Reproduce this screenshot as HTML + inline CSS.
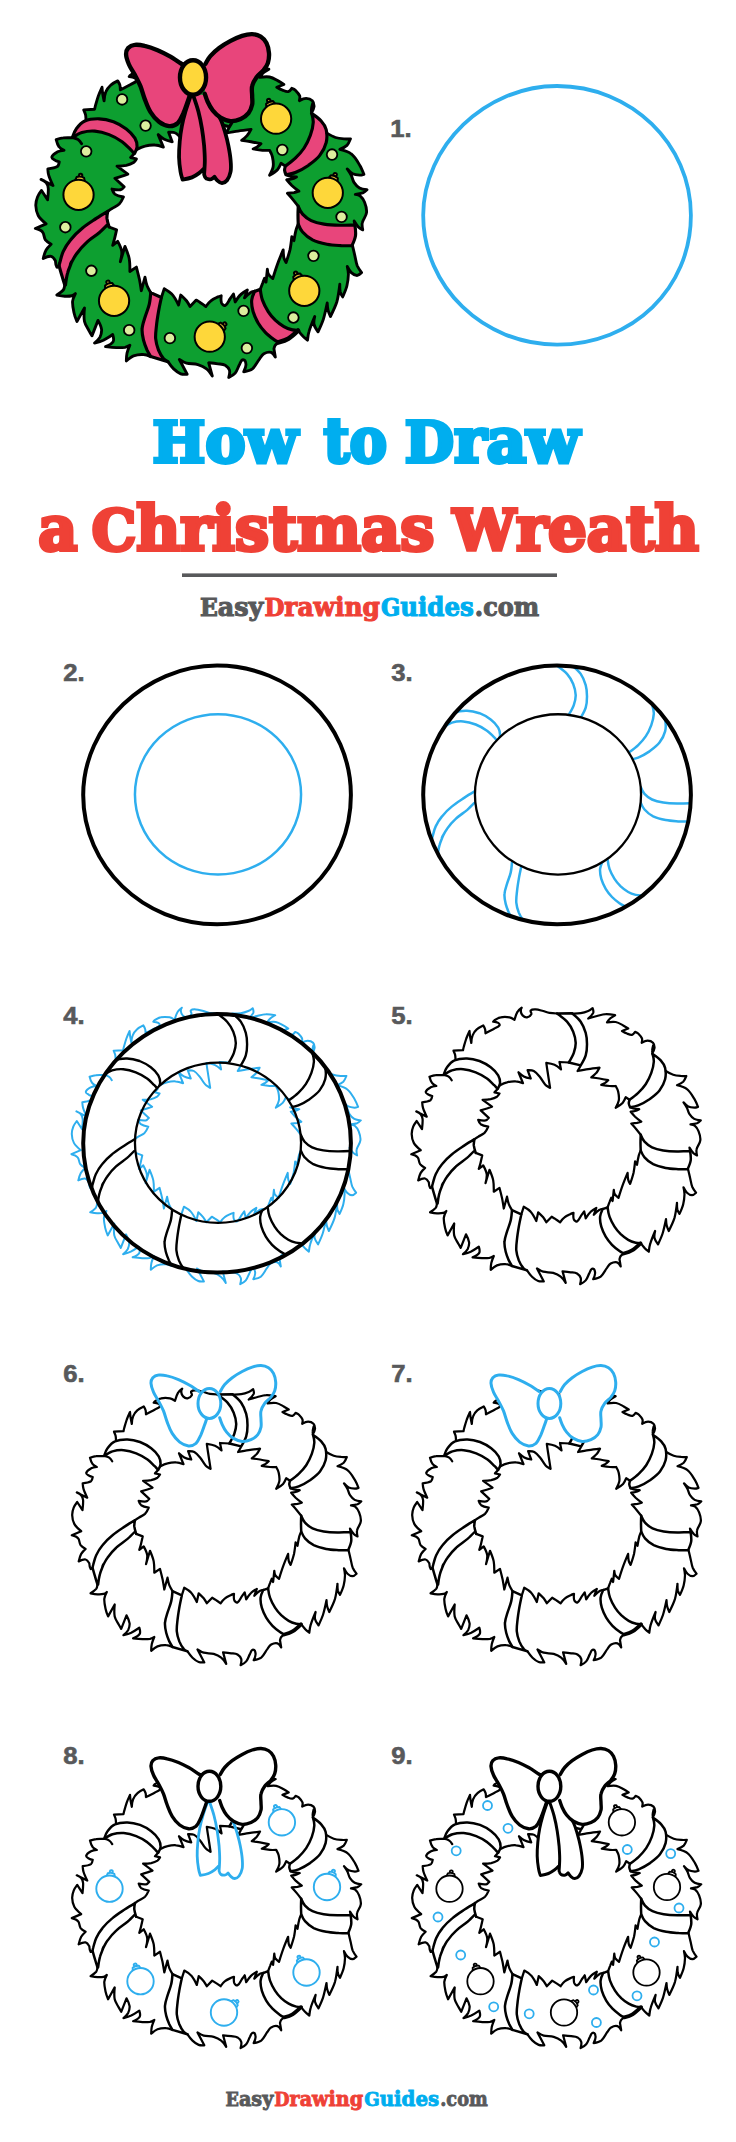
<!DOCTYPE html>
<html><head><meta charset="utf-8"><title>How to Draw a Christmas Wreath</title>
<style>html,body{margin:0;padding:0;background:#fff}svg{display:block}</style></head>
<body><svg width="736" height="2142" viewBox="0 0 736 2142">
<desc>How to Draw a Christmas Wreath - step by step drawing guide, steps 1 to 9 - EasyDrawingGuides.com</desc>
<rect width="736" height="2142" fill="#fff"/>
<defs><clipPath id="ann"><path clip-rule="evenodd" d="M-133.85 0.00C-133.85 -69.18 -71.61 -129.30 0.00 -129.30C73.93 -129.30 133.85 -71.41 133.85 0.00C133.85 73.05 75.63 129.30 0.00 129.30C-73.93 129.30 -133.85 71.41 -133.85 0.00ZM-82.10 -0.50C-82.10 -44.77 -44.92 -80.65 0.95 -80.65C46.82 -80.65 84.00 -44.77 84.00 -0.50C84.00 43.77 46.82 79.65 0.95 79.65C-44.92 79.65 -82.10 43.77 -82.10 -0.50Z"/></clipPath></defs>
<path d="M423.20 215.30C423.20 146.12 485.44 86.00 557.05 86.00C630.98 86.00 690.90 143.89 690.90 215.30C690.90 288.35 632.68 344.60 557.05 344.60C483.12 344.60 423.20 286.71 423.20 215.30Z" fill="none" stroke="#2eaeee" stroke-width="3.8"/>
<path d="M83.20 794.90C83.20 725.72 145.44 665.60 217.05 665.60C290.98 665.60 350.90 723.49 350.90 794.90C350.90 867.95 292.68 924.20 217.05 924.20C143.12 924.20 83.20 866.31 83.20 794.90Z" fill="none" stroke="#000" stroke-width="4"/>
<ellipse cx="218" cy="794.4" rx="83.05" ry="80.15" fill="none" stroke="#2eaeee" stroke-width="2.5"/>
<g transform="translate(557 794.9)" stroke-linejoin="round" stroke-linecap="round"><path clip-path="url(#ann)" d="M15 -129.5C15 -129.5 21.4 -124.4 23.7 -121C26 -117.7 27.6 -113.7 28.7 -109.8C29.7 -106.2 30 -102.3 30 -98.5C30 -94.8 29.8 -90.9 28.7 -87.3C27.7 -83.8 23.7 -77.3 23.7 -77.3M0 -129.2C0 -129.2 7.1 -124.2 10 -121C12.5 -118.2 14.7 -114.6 16.2 -111C17.6 -107.5 18.6 -103.6 18.7 -99.8C18.8 -96.4 17.9 -93 16.8 -89.8C15.6 -86.4 11.8 -80.2 11.8 -80.2M-113.2 -68.3C-113.2 -68.3 -111.6 -73.4 -110 -75.4C-108 -78.1 -105.6 -81 -102.5 -82.3C-98.7 -84 -94.2 -84.3 -90 -84.2C-85.8 -84.1 -81.5 -83.1 -77.5 -81.7C-73.6 -80.2 -69.7 -78 -66.3 -75.4C-63.4 -73.2 -60.7 -70.4 -58.8 -67.3C-57.5 -65.1 -56.9 -62.4 -56.9 -59.8C-57 -57.8 -59 -54.2 -59 -54.2M-112.8 -68C-112.8 -68 -107.9 -71.5 -105 -72.3C-101.5 -73.3 -97.5 -73.8 -93.8 -73.5C-89.6 -73.2 -85.3 -72 -81.3 -70.4C-77.3 -68.9 -73.5 -66.6 -70 -64.2C-67.3 -62.2 -65 -59.6 -62.5 -57.3C-61.4 -56.2 -59.4 -53.8 -59.4 -53.8M-125 44C-125 44 -124.7 42.3 -124.4 41.5C-123.4 38.1 -122.8 34.6 -121.3 31.5C-119.6 27.9 -117.5 24.5 -115 21.5C-112.1 17.8 -108.6 14.4 -105 11.5C-101.2 8.2 -96.7 5.5 -92.5 2.7C-89.3 0.5 -82.5 -3.5 -82.5 -3.5M-119.4 60.8C-119.4 60.8 -118.5 53.6 -117.5 50.2C-116.6 46.8 -114.9 43.5 -113.8 40.2C-113.5 39.3 -115.5 43.5 -115 42.7C-113.3 39.8 -112 36.6 -110 34C-107.5 30.4 -104.5 26.9 -101.3 24C-97.9 20.7 -93.6 18.2 -90 15.2C-87.6 13.1 -82.9 8.3 -82.9 8.3M-45 123.3C-45 123.3 -47.3 119.6 -48.2 117.7C-49.4 114.9 -50.6 111.9 -51.3 109C-52.1 105.7 -52.8 102.3 -52.5 99C-52.3 95.6 -51 92.2 -50 89C-48.9 85.2 -47.2 81.5 -46.3 77.7C-45.5 74.4 -45 67.5 -45 67.5M-30 127.7C-30 127.7 -32.9 126.4 -33.8 125.2C-35.6 123 -37.1 120.4 -38.2 117.7C-39.4 114.5 -40.4 111.1 -40.7 107.7C-41 104 -40.4 100.1 -40 96.5C-39.6 92.3 -38.9 88.1 -38.2 84C-37.5 79.9 -35.7 71.7 -35.7 71.7M66.8 110.8C66.8 110.8 63.8 109.3 62.5 108.3C59.9 106.4 57.2 104.4 55 102.1C52.6 99.6 50.4 96.9 48.7 94C46.9 90.8 45.3 87.4 44.3 84C43.4 80.7 42.8 77.3 43.1 74C43.3 71.3 45.6 66.5 45.6 66.5M83.7 100.5C83.7 100.5 80.3 100.4 78.7 100C76.1 99.3 73.5 98.4 71.2 97.1C68.5 95.5 65.9 93.6 63.7 91.5C61.4 89.2 59.2 86.7 57.5 84C55.5 80.8 53.7 77.4 52.5 74C51.4 71 50.6 64.6 50.6 64.6M130.6 26.5C130.6 26.5 124.3 26.6 121.2 26.5C117.1 26.2 112.8 26 108.7 25.2C104.5 24.4 100.1 23.4 96.2 21.5C92.9 19.8 89.9 17.3 87.5 14.6C85.7 12.7 83.7 7.7 83.7 7.7M133.1 8.3C133.1 8.3 124.3 8.8 120 8.7C115.4 8.6 110.7 8.4 106.2 7.7C102.4 7.1 98.4 6.2 95 4.6C92.1 3.3 89.5 1.2 87.5 -1C85.7 -3 83.7 -7.9 83.7 -7.9M96 -88.5C96 -88.5 101.5 -84.8 103.7 -82.3C105.6 -80.2 107.4 -77.6 108.1 -74.8C108.9 -71.2 109 -67.2 108.1 -63.5C107.1 -59.5 105 -55.6 102.5 -52.3C99.8 -48.8 96 -46.1 92.5 -43.5C89 -41.1 85.1 -38.9 81.2 -37.3C78.7 -36.2 73.1 -35.4 73.1 -35.4M95.6 -88.5C95.6 -88.5 97 -83.6 96.8 -81C96.6 -77.3 95.6 -73.4 94.3 -69.8C92.9 -65.9 91 -62 88.7 -58.5C86.6 -55.4 83.9 -52.4 81.2 -49.8C78.6 -47.3 72.5 -42.9 72.5 -42.9" fill="none" stroke="#2eaeee" stroke-width="2.5"/></g>
<path d="M423.20 794.90C423.20 725.72 485.44 665.60 557.05 665.60C630.98 665.60 690.90 723.49 690.90 794.90C690.90 867.95 632.68 924.20 557.05 924.20C483.12 924.20 423.20 866.31 423.20 794.90Z" fill="none" stroke="#000" stroke-width="4"/>
<ellipse cx="558" cy="794.4" rx="83.05" ry="80.15" fill="#fff" stroke="#000" stroke-width="2.3"/>
<g transform="translate(217.1 1142.7)" stroke-linejoin="round" stroke-linecap="round"><path d="M0 -129.2C0 -129.2 -5.1 -129.4 -7.5 -129.8C-9.7 -130.2 -11.7 -131.1 -13.8 -131.7C-16.3 -132.3 -18.8 -133.2 -21.3 -133.3C-23 -133.4 -25.2 -133.5 -26.3 -132.3C-27.1 -131.4 -25.1 -129.7 -25.7 -128.5C-26.5 -127 -28.3 -125.7 -30 -125.4C-31.6 -125.2 -33.3 -126.2 -34.4 -127.3C-35.5 -128.4 -36.1 -130.1 -36.3 -131.7C-36.4 -132.8 -35.3 -135 -35.3 -135C-35.3 -135 -38.5 -132.7 -39.4 -131C-40.9 -128.6 -42.5 -122.9 -42.5 -122.9C-42.5 -122.9 -45.7 -125.1 -47.5 -125.4C-50.4 -125.9 -53.5 -126 -56.3 -125.4C-58.5 -125 -60.6 -123.7 -62.5 -122.5C-63.1 -122.2 -63.8 -121 -63.8 -121C-63.8 -121 -60.3 -120.7 -58.8 -119.8C-58 -119.3 -57 -118.1 -57.5 -117.3C-58.6 -115.7 -60.8 -115.1 -62.5 -114.2C-65.5 -112.6 -71.5 -109.5 -71.5 -109.5C-71.5 -109.5 -71.6 -112.3 -71.9 -113.5C-72.3 -114.9 -73.8 -117.3 -73.8 -117.3C-73.8 -117.3 -78.3 -115.2 -80 -113.5C-81.9 -111.8 -83.5 -109.6 -84.4 -107.3C-85.4 -105 -85.7 -99.8 -85.7 -99.8C-85.7 -99.8 -86.6 -104 -86.9 -106C-87.2 -107.9 -87.5 -111.7 -87.5 -111.7C-87.5 -111.7 -89.8 -106.7 -90.7 -104.2C-91.6 -101.5 -92.4 -98.7 -93.2 -96C-93.5 -94.9 -94 -92.5 -94 -92.5L-103.5 -92C-103.5 -92 -102.3 -89.3 -101.9 -87.9C-101.6 -86.5 -101.5 -83.5 -101.5 -83.5M11.8 -80.2L2.5 -80.7L4 -73.3C4 -73.3 -0.1 -76.9 -2.5 -77.9C-5.1 -79 -10.7 -79.8 -10.7 -79.8C-10.7 -79.8 -9.9 -73.9 -9.4 -71C-8.6 -65.7 -6.9 -54.8 -6.9 -54.8C-6.9 -54.8 -10.5 -56.8 -11.9 -58.3C-13.9 -60.4 -15.1 -63.2 -16.9 -65.4C-18.8 -67.7 -20.6 -70.2 -23.2 -71.7C-25 -72.7 -29.4 -72.5 -29.4 -72.5L-26.3 -64.2C-26.3 -64.2 -31.1 -65.2 -33.2 -66.3C-35.2 -67.3 -38.5 -70.4 -38.5 -70.4L-34 -59.5C-34 -59.5 -38.8 -61.2 -41.3 -61.3C-44.2 -61.5 -47.2 -61.1 -50 -60.4C-52.7 -59.8 -57.5 -57.3 -57.5 -57.3M-113.2 -67.9C-113.2 -67.9 -118.6 -67.9 -121.3 -67.5C-123.4 -67.3 -127.5 -66 -127.5 -66C-127.5 -66 -126.4 -61.6 -125 -59.8C-124 -58.4 -120.7 -56.7 -120.7 -56.7C-120.7 -56.7 -124.6 -56.3 -126.3 -55.4C-128.3 -54.3 -130.8 -53 -131.3 -50.8C-131.6 -49.4 -129.4 -48.7 -128.2 -47.9C-127.2 -47.3 -124.8 -46.7 -124.8 -46.7C-124.8 -46.7 -125.3 -43.3 -126.5 -42.5C-128.9 -41.1 -134.8 -40.4 -134.8 -40.4C-134.8 -40.4 -134.6 -36.6 -134 -34.8C-133.1 -31.8 -130.3 -26 -130.3 -26L-140.7 -31.3C-140.7 -31.3 -137.4 -29.9 -136.3 -28.5C-135.2 -27.2 -134.6 -25.3 -134.4 -23.5C-134.2 -20.3 -135 -13.5 -135 -13.5L-140.3 -21.7C-140.3 -21.7 -143 -18.1 -143.8 -16C-144.7 -13.7 -145.4 -11.1 -145.3 -8.5C-145.2 -5.6 -144.6 -2.4 -143.2 0.2C-141.6 3.1 -136.3 7.5 -136.3 7.5L-145.7 11.5C-145.7 11.5 -140.9 12.8 -139.4 14.6C-137.8 16.4 -138.3 19.5 -136.9 21.5C-135.7 23.1 -131.9 25.2 -131.9 25.2C-131.9 25.2 -135.2 28.3 -136.3 30.2C-137.6 32.5 -138.8 37.7 -138.8 37.7C-138.8 37.7 -134.2 35.4 -131.9 35.8C-130.2 36.1 -128.2 39.6 -128.2 39.6C-128.2 39.6 -128 43.7 -126.9 45.2C-126.5 45.8 -125 44 -125 44M-59.4 -53.8L-62.5 -50.4L-57.5 -49.2C-57.5 -49.2 -58.9 -46.8 -60 -46C-61.9 -44.8 -64.1 -44 -66.3 -43.5C-68.9 -43 -74.4 -42.9 -74.4 -42.9L-65 -36C-65 -36 -68.4 -34.7 -70 -34.2C-72.1 -33.5 -76.3 -32.3 -76.3 -32.3L-68.2 -24.8C-68.2 -24.8 -70 -22.5 -71.3 -22.3C-73.7 -21.9 -78.8 -22.9 -78.8 -22.9C-78.8 -22.9 -77.7 -19.5 -76.3 -18.5C-74.2 -17.1 -68.8 -16 -68.8 -16C-68.8 -16 -70.8 -11.5 -72.5 -9.8C-74.3 -8.1 -76.8 -7.3 -78.8 -6C-80.1 -5.3 -82.5 -3.5 -82.5 -3.5M-120 60.8C-120 60.8 -120.4 64 -121.3 65.2C-122.8 67 -126.9 69.6 -126.9 69.6C-126.9 69.6 -122.3 70.5 -120 70.6C-118 70.7 -115.8 70.7 -113.8 70.2C-112.6 69.9 -110.7 68.3 -110.7 68.3C-110.7 68.3 -113 72.8 -113.2 75.2C-113.4 78.5 -112.6 81.9 -111.9 85.2C-111.4 87.8 -109.4 92.7 -109.4 92.7L-102.8 80.8C-102.8 80.8 -103.6 88.9 -102.8 92.7C-102.2 95.6 -100.2 98.2 -98.8 100.8C-98 102.3 -96.3 105.2 -96.3 105.2L-91 91.7C-91 91.7 -88.2 96.8 -87.9 99.6C-87.7 101.9 -88.4 104.4 -89.4 106.5C-90.5 108.4 -94 111.5 -94 111.5C-94 111.5 -88.7 110.1 -86.3 109C-83.5 107.6 -78.2 104 -78.2 104C-78.2 104 -76.8 108.4 -77.8 110.2C-79.1 112.5 -84.4 114.6 -84.4 114.6C-84.4 114.6 -78.2 115.3 -75 115.5C-72.6 115.5 -70 115.6 -67.5 115.2C-66 114.9 -63.2 113.3 -63.2 113.3C-63.2 113.3 -65.1 117.8 -65.7 120.2C-66.2 122.4 -66.3 127.1 -66.3 127.1C-66.3 127.1 -62.4 123.6 -60 122.7C-57.3 121.7 -54.2 121.3 -51.3 121.5C-49.1 121.5 -45 123.3 -45 123.3M-81.3 10.2L-74.8 12.7C-74.8 12.7 -75.9 17.7 -76.5 20.2C-77 22.2 -78.2 26.2 -78.2 26.2L-73.8 22.7C-73.8 22.7 -70.7 28.4 -70.3 31.5C-69.9 34.4 -71.5 40.5 -71.5 40.5L-67.5 27.1C-67.5 27.1 -64.5 34.1 -63.8 37.7C-63.1 41.3 -63.2 49 -63.2 49L-57.5 45.2C-57.5 45.2 -55.8 51.9 -55 55.2C-54.3 58.7 -53.2 65.8 -53.2 65.8L-50 54C-50 54 -49.1 59.1 -48.2 61.5C-47.4 63.5 -45 67.5 -45 67.5M-30 127.7C-30 127.7 -27 132.1 -25 134C-23.2 135.7 -21.1 137.4 -18.8 138.3C-17.1 139 -13.2 138.7 -13.2 138.7L-20 125.8C-20 125.8 -16 128.4 -13.8 129C-10.6 129.8 -7 129.3 -3.8 130.2C-1.1 131 1.5 132.2 3.7 134C5.8 135.6 8.7 140.2 8.7 140.2L5.6 128.7C5.6 128.7 11 129.2 13.7 129.6C15.8 129.9 18.1 129.8 20 130.8C21.6 131.8 23.2 133.4 23.7 135.2C24.3 137.2 23.1 141.5 23.1 141.5C23.1 141.5 27.3 139.4 28.7 137.7C30.5 135.6 31.1 132.6 32.5 130.2C33.3 128.7 33.8 126 35.6 126C37.2 126 38 128.6 38.1 130.2C38.2 132.3 36.2 136.5 36.2 136.5C36.2 136.5 41.7 135.6 43.7 134C46.4 131.7 47.8 128 50 125.2C51.1 123.7 52 121.8 53.7 120.8C55.5 119.8 57.9 119 60 119.6C61.7 120.1 63.7 123.7 63.7 123.7L62.5 116.5C62.5 116.5 63 114.2 63.7 113.3C64.5 112.3 66.8 110.8 66.8 110.8M-35.7 71.7L-33.2 64C-33.2 64 -28.1 66.8 -26.3 69C-23.9 71.7 -20.7 78.3 -20.7 78.3L-18.8 69.6C-18.8 69.6 -15.3 72.8 -13.8 74.6C-12.6 76.1 -10.7 79.6 -10.7 79.6L-5.3 74C-5.3 74 -2.6 75.6 -1.3 76.5C0.2 77.4 3.1 79.6 3.1 79.6C3.1 79.6 5.7 75.9 7.5 74.6C9.3 73.1 11.6 72.2 13.7 71.2C14.6 70.8 16.5 70.2 16.5 70.2C16.5 70.2 16 74.5 16.8 76.5C17.3 77.6 18.8 79.3 20 78.7C22.1 77.6 22.9 74.7 24.3 72.7C25.3 71.4 27.2 68.7 27.2 68.7L28.7 75.6C28.7 75.6 31.7 70.9 33.7 69C35.3 67.4 39.3 65.2 39.3 65.2L36.8 72.1C36.8 72.1 40.4 68.4 42.5 67.1C43.5 66.4 46 66.2 46 66.2M83.7 100.5C83.7 100.5 86.1 103.8 87.5 105.2C88.8 106.6 91.8 109 91.8 109C91.8 109 92.3 103.9 93.1 101.5C94.4 97 98.1 88.3 98.1 88.3C98.1 88.3 97 93 97.5 95.2C98 97.6 101 101.7 101 101.7C101 101.7 104.4 94.5 105.6 90.8C107 86.2 109 76.5 109 76.5C109 76.5 109.2 80.7 109.7 82.7C110.2 84.6 111.8 88.3 111.8 88.3C111.8 88.3 116.1 79.7 117.5 75.2C118.8 70.4 120 60.2 120 60.2C120 60.2 119.9 64.4 120.3 66.5C120.7 68.1 122.5 71.2 122.5 71.2C122.5 71.2 125.4 64.8 126.2 61.5C127 58.2 127.4 54.8 127.5 51.5C127.5 49.2 126.5 44.6 126.5 44.6C126.5 44.6 128.4 48.5 130 50C131.3 51.2 133.1 52.5 135 52.5C136.5 52.5 139 50 139 50C139 50 136.1 46.1 135.2 44C134.1 41.2 133.8 38.1 133.1 35.2C132.4 32.2 131 26.2 131 26.2M50.6 64.6C50.6 64.6 52 60.8 52.7 59C53.2 57.6 54.3 55 54.3 55L55.6 58.3L56.8 47.1C56.8 47.1 57 50.2 57.7 51.5C58.6 53 61.5 55.2 61.5 55.2C61.5 55.2 64.1 46.8 65.6 42.7C67.1 38.5 70.6 30.2 70.6 30.2C70.6 30.2 70.7 34.9 71.2 37.1C71.5 38.5 73.1 41.2 73.1 41.2C73.1 41.2 75.6 33.9 76.5 30.2C77.3 26.5 78.1 18.7 78.1 18.7L80 22.1C80 22.1 81 15.8 81.8 12.7C82.3 11 83.7 7.7 83.7 7.7M133.1 8.3L132.5 5C132.5 5 134.7 8.7 136.2 10.2C137.2 11.3 140 12.7 140 12.7C140 12.7 139.1 8.5 139.6 6.5C140.3 3.4 143 0.8 143.3 -2.3C143.7 -5.3 142.7 -8.5 141.6 -11.3C140.8 -13.4 139.4 -15.6 137.7 -17C136.6 -18 133.5 -18.3 133.5 -18.3C133.5 -18.3 137.9 -18.8 140 -19.5C141.4 -20.1 143.7 -22.3 143.7 -22.3C143.7 -22.3 139.1 -22.7 137.2 -23.8C135.3 -24.9 133.7 -26.7 132.5 -28.5C131.2 -30.4 131 -32.8 130 -34.8C129 -36.8 126.5 -40.4 126.5 -40.4C126.5 -40.4 129.3 -37.2 131.2 -36.3C133.1 -35.4 135.3 -35.2 137.5 -35C138.6 -35 141 -35.8 141 -35.8C141 -35.8 138.9 -41.2 137.5 -43.5C135.3 -47.1 133.2 -51 130 -53.5C127.2 -55.8 120 -57.5 120 -57.5C120 -57.5 124.5 -59.4 126.2 -61C127.7 -62.5 129.3 -66.7 129.3 -66.7C129.3 -66.7 125.5 -66.5 123.7 -66.7C121.2 -66.9 118.6 -67.1 116.2 -67.9C113.6 -68.8 108.7 -71.7 108.7 -71.7M83.7 -7.9C83.7 -7.9 80.8 -11.7 79.3 -13.5C77.7 -15.5 74.3 -19.2 74.3 -19.2C74.3 -19.2 78.1 -19.5 80 -19.8C81.4 -20.1 84.3 -21 84.3 -21C84.3 -21 80 -24.2 78.1 -26C76.5 -27.6 73.7 -31 73.7 -31C73.7 -31 76.7 -31.3 78.1 -31.7C79.5 -32.1 82.2 -33.5 82.2 -33.5C82.2 -33.5 78.1 -33.8 76.2 -34.2C75.1 -34.4 73.1 -35.4 73.1 -35.4M95.2 -89.2C95.2 -89.2 97.3 -92.8 97.5 -94.8C97.6 -96.6 97.2 -98.7 96 -100C94.6 -101.4 92.5 -102 90.6 -102C88.5 -102 84.7 -100 84.7 -100C84.7 -100 85.4 -102.9 85 -104.2C84.2 -106.1 82.7 -107.7 81.2 -109.2C80.4 -110 78.1 -110.8 78.1 -110.8C78.1 -110.8 76.3 -108.2 75 -107.9C73.3 -107.6 71.5 -108.6 70 -109.2C68.2 -109.8 65 -111.7 65 -111.7L71.2 -114.2C71.2 -114.2 67.9 -116.4 66.2 -117.3C63.8 -118.6 61.4 -120.2 58.7 -120.7C55.9 -121.2 50 -120.4 50 -120.4C50 -120.4 51.9 -123.1 53.1 -124.2C54.6 -125.5 58.1 -127.5 58.1 -127.5C58.1 -127.5 51.8 -128.7 48.7 -128.5C45.8 -128.4 42.8 -127.4 40 -126.7C37 -125.9 31.2 -124.2 31.2 -124.2C31.2 -124.2 35.2 -127.5 36.2 -129.8C36.8 -131.3 35.6 -134.5 35.6 -134.5C35.6 -134.5 32.8 -132.3 31.2 -131.7C28.8 -130.7 26.2 -129.9 23.7 -129.5C20.8 -129.1 15 -129.2 15 -129.2M72.5 -42.9L68.7 -45.4C68.7 -45.4 67 -41.3 65.6 -39.8C63.7 -37.8 58.7 -35 58.7 -35C58.7 -35 61.4 -39.7 61.8 -42.3C62.3 -45.2 61.8 -48.2 61.2 -51C60.8 -53 58.7 -56.7 58.7 -56.7C58.7 -56.7 54.5 -56.5 52.5 -56.7C49.7 -56.9 44.3 -57.9 44.3 -57.9C44.3 -57.9 46.9 -59 48.1 -59.8C49.2 -60.6 51.2 -62.5 51.2 -62.5C51.2 -62.5 45.3 -63.7 42.5 -64.2C39.8 -64.6 34.3 -65.4 34.3 -65.4C34.3 -65.4 37.9 -68.1 39.3 -69.8C40.6 -71.3 42.5 -75 42.5 -75C42.5 -75 34.9 -74.1 31.2 -73.5C27.7 -73 20.6 -71.7 20.6 -71.7L23.1 -76M-113.2 -67.9C-113.2 -67.9 -109.6 -67 -108.2 -66C-106.9 -65.2 -105.3 -62.5 -105.3 -62.5M96.2 -97.3C96.2 -97.3 95.3 -94 95.2 -92.3C95.1 -91.1 95.6 -88.5 95.6 -88.5" fill="none" stroke="#2eaeee" stroke-width="2"/><path clip-path="url(#ann)" d="M15 -129.5C15 -129.5 21.4 -124.4 23.7 -121C26 -117.7 27.6 -113.7 28.7 -109.8C29.7 -106.2 30 -102.3 30 -98.5C30 -94.8 29.8 -90.9 28.7 -87.3C27.7 -83.8 23.7 -77.3 23.7 -77.3M0 -129.2C0 -129.2 7.1 -124.2 10 -121C12.5 -118.2 14.7 -114.6 16.2 -111C17.6 -107.5 18.6 -103.6 18.7 -99.8C18.8 -96.4 17.9 -93 16.8 -89.8C15.6 -86.4 11.8 -80.2 11.8 -80.2M-113.2 -68.3C-113.2 -68.3 -111.6 -73.4 -110 -75.4C-108 -78.1 -105.6 -81 -102.5 -82.3C-98.7 -84 -94.2 -84.3 -90 -84.2C-85.8 -84.1 -81.5 -83.1 -77.5 -81.7C-73.6 -80.2 -69.7 -78 -66.3 -75.4C-63.4 -73.2 -60.7 -70.4 -58.8 -67.3C-57.5 -65.1 -56.9 -62.4 -56.9 -59.8C-57 -57.8 -59 -54.2 -59 -54.2M-112.8 -68C-112.8 -68 -107.9 -71.5 -105 -72.3C-101.5 -73.3 -97.5 -73.8 -93.8 -73.5C-89.6 -73.2 -85.3 -72 -81.3 -70.4C-77.3 -68.9 -73.5 -66.6 -70 -64.2C-67.3 -62.2 -65 -59.6 -62.5 -57.3C-61.4 -56.2 -59.4 -53.8 -59.4 -53.8M-125 44C-125 44 -124.7 42.3 -124.4 41.5C-123.4 38.1 -122.8 34.6 -121.3 31.5C-119.6 27.9 -117.5 24.5 -115 21.5C-112.1 17.8 -108.6 14.4 -105 11.5C-101.2 8.2 -96.7 5.5 -92.5 2.7C-89.3 0.5 -82.5 -3.5 -82.5 -3.5M-119.4 60.8C-119.4 60.8 -118.5 53.6 -117.5 50.2C-116.6 46.8 -114.9 43.5 -113.8 40.2C-113.5 39.3 -115.5 43.5 -115 42.7C-113.3 39.8 -112 36.6 -110 34C-107.5 30.4 -104.5 26.9 -101.3 24C-97.9 20.7 -93.6 18.2 -90 15.2C-87.6 13.1 -82.9 8.3 -82.9 8.3M-45 123.3C-45 123.3 -47.3 119.6 -48.2 117.7C-49.4 114.9 -50.6 111.9 -51.3 109C-52.1 105.7 -52.8 102.3 -52.5 99C-52.3 95.6 -51 92.2 -50 89C-48.9 85.2 -47.2 81.5 -46.3 77.7C-45.5 74.4 -45 67.5 -45 67.5M-30 127.7C-30 127.7 -32.9 126.4 -33.8 125.2C-35.6 123 -37.1 120.4 -38.2 117.7C-39.4 114.5 -40.4 111.1 -40.7 107.7C-41 104 -40.4 100.1 -40 96.5C-39.6 92.3 -38.9 88.1 -38.2 84C-37.5 79.9 -35.7 71.7 -35.7 71.7M66.8 110.8C66.8 110.8 63.8 109.3 62.5 108.3C59.9 106.4 57.2 104.4 55 102.1C52.6 99.6 50.4 96.9 48.7 94C46.9 90.8 45.3 87.4 44.3 84C43.4 80.7 42.8 77.3 43.1 74C43.3 71.3 45.6 66.5 45.6 66.5M83.7 100.5C83.7 100.5 80.3 100.4 78.7 100C76.1 99.3 73.5 98.4 71.2 97.1C68.5 95.5 65.9 93.6 63.7 91.5C61.4 89.2 59.2 86.7 57.5 84C55.5 80.8 53.7 77.4 52.5 74C51.4 71 50.6 64.6 50.6 64.6M130.6 26.5C130.6 26.5 124.3 26.6 121.2 26.5C117.1 26.2 112.8 26 108.7 25.2C104.5 24.4 100.1 23.4 96.2 21.5C92.9 19.8 89.9 17.3 87.5 14.6C85.7 12.7 83.7 7.7 83.7 7.7M133.1 8.3C133.1 8.3 124.3 8.8 120 8.7C115.4 8.6 110.7 8.4 106.2 7.7C102.4 7.1 98.4 6.2 95 4.6C92.1 3.3 89.5 1.2 87.5 -1C85.7 -3 83.7 -7.9 83.7 -7.9M96 -88.5C96 -88.5 101.5 -84.8 103.7 -82.3C105.6 -80.2 107.4 -77.6 108.1 -74.8C108.9 -71.2 109 -67.2 108.1 -63.5C107.1 -59.5 105 -55.6 102.5 -52.3C99.8 -48.8 96 -46.1 92.5 -43.5C89 -41.1 85.1 -38.9 81.2 -37.3C78.7 -36.2 73.1 -35.4 73.1 -35.4M95.6 -88.5C95.6 -88.5 97 -83.6 96.8 -81C96.6 -77.3 95.6 -73.4 94.3 -69.8C92.9 -65.9 91 -62 88.7 -58.5C86.6 -55.4 83.9 -52.4 81.2 -49.8C78.6 -47.3 72.5 -42.9 72.5 -42.9" fill="none" stroke="#000" stroke-width="2.4"/></g>
<path d="M83.20 1143.20C83.20 1074.02 145.44 1013.90 217.05 1013.90C290.98 1013.90 350.90 1071.79 350.90 1143.20C350.90 1216.25 292.68 1272.50 217.05 1272.50C143.12 1272.50 83.20 1214.61 83.20 1143.20Z" fill="none" stroke="#000" stroke-width="4"/>
<ellipse cx="218" cy="1142.7" rx="83.05" ry="80.15" fill="none" stroke="#000" stroke-width="2.3"/>
<g transform="translate(557 1142.7)" stroke-linejoin="round" stroke-linecap="round"><path d="M0 -129.2C0 -129.2 -5.1 -129.4 -7.5 -129.8C-9.7 -130.2 -11.7 -131.1 -13.8 -131.7C-16.3 -132.3 -18.8 -133.2 -21.3 -133.3C-23 -133.4 -25.2 -133.5 -26.3 -132.3C-27.1 -131.4 -25.1 -129.7 -25.7 -128.5C-26.5 -127 -28.3 -125.7 -30 -125.4C-31.6 -125.2 -33.3 -126.2 -34.4 -127.3C-35.5 -128.4 -36.1 -130.1 -36.3 -131.7C-36.4 -132.8 -35.3 -135 -35.3 -135C-35.3 -135 -38.5 -132.7 -39.4 -131C-40.9 -128.6 -42.5 -122.9 -42.5 -122.9C-42.5 -122.9 -45.7 -125.1 -47.5 -125.4C-50.4 -125.9 -53.5 -126 -56.3 -125.4C-58.5 -125 -60.6 -123.7 -62.5 -122.5C-63.1 -122.2 -63.8 -121 -63.8 -121C-63.8 -121 -60.3 -120.7 -58.8 -119.8C-58 -119.3 -57 -118.1 -57.5 -117.3C-58.6 -115.7 -60.8 -115.1 -62.5 -114.2C-65.5 -112.6 -71.5 -109.5 -71.5 -109.5C-71.5 -109.5 -71.6 -112.3 -71.9 -113.5C-72.3 -114.9 -73.8 -117.3 -73.8 -117.3C-73.8 -117.3 -78.3 -115.2 -80 -113.5C-81.9 -111.8 -83.5 -109.6 -84.4 -107.3C-85.4 -105 -85.7 -99.8 -85.7 -99.8C-85.7 -99.8 -86.6 -104 -86.9 -106C-87.2 -107.9 -87.5 -111.7 -87.5 -111.7C-87.5 -111.7 -89.8 -106.7 -90.7 -104.2C-91.6 -101.5 -92.4 -98.7 -93.2 -96C-93.5 -94.9 -94 -92.5 -94 -92.5L-103.5 -92C-103.5 -92 -102.3 -89.3 -101.9 -87.9C-101.6 -86.5 -101.5 -83.5 -101.5 -83.5M11.8 -80.2L2.5 -80.7L4 -73.3C4 -73.3 -0.1 -76.9 -2.5 -77.9C-5.1 -79 -10.7 -79.8 -10.7 -79.8C-10.7 -79.8 -9.9 -73.9 -9.4 -71C-8.6 -65.7 -6.9 -54.8 -6.9 -54.8C-6.9 -54.8 -10.5 -56.8 -11.9 -58.3C-13.9 -60.4 -15.1 -63.2 -16.9 -65.4C-18.8 -67.7 -20.6 -70.2 -23.2 -71.7C-25 -72.7 -29.4 -72.5 -29.4 -72.5L-26.3 -64.2C-26.3 -64.2 -31.1 -65.2 -33.2 -66.3C-35.2 -67.3 -38.5 -70.4 -38.5 -70.4L-34 -59.5C-34 -59.5 -38.8 -61.2 -41.3 -61.3C-44.2 -61.5 -47.2 -61.1 -50 -60.4C-52.7 -59.8 -57.5 -57.3 -57.5 -57.3M-113.2 -67.9C-113.2 -67.9 -118.6 -67.9 -121.3 -67.5C-123.4 -67.3 -127.5 -66 -127.5 -66C-127.5 -66 -126.4 -61.6 -125 -59.8C-124 -58.4 -120.7 -56.7 -120.7 -56.7C-120.7 -56.7 -124.6 -56.3 -126.3 -55.4C-128.3 -54.3 -130.8 -53 -131.3 -50.8C-131.6 -49.4 -129.4 -48.7 -128.2 -47.9C-127.2 -47.3 -124.8 -46.7 -124.8 -46.7C-124.8 -46.7 -125.3 -43.3 -126.5 -42.5C-128.9 -41.1 -134.8 -40.4 -134.8 -40.4C-134.8 -40.4 -134.6 -36.6 -134 -34.8C-133.1 -31.8 -130.3 -26 -130.3 -26L-140.7 -31.3C-140.7 -31.3 -137.4 -29.9 -136.3 -28.5C-135.2 -27.2 -134.6 -25.3 -134.4 -23.5C-134.2 -20.3 -135 -13.5 -135 -13.5L-140.3 -21.7C-140.3 -21.7 -143 -18.1 -143.8 -16C-144.7 -13.7 -145.4 -11.1 -145.3 -8.5C-145.2 -5.6 -144.6 -2.4 -143.2 0.2C-141.6 3.1 -136.3 7.5 -136.3 7.5L-145.7 11.5C-145.7 11.5 -140.9 12.8 -139.4 14.6C-137.8 16.4 -138.3 19.5 -136.9 21.5C-135.7 23.1 -131.9 25.2 -131.9 25.2C-131.9 25.2 -135.2 28.3 -136.3 30.2C-137.6 32.5 -138.8 37.7 -138.8 37.7C-138.8 37.7 -134.2 35.4 -131.9 35.8C-130.2 36.1 -128.2 39.6 -128.2 39.6C-128.2 39.6 -128 43.7 -126.9 45.2C-126.5 45.8 -125 44 -125 44M-59.4 -53.8L-62.5 -50.4L-57.5 -49.2C-57.5 -49.2 -58.9 -46.8 -60 -46C-61.9 -44.8 -64.1 -44 -66.3 -43.5C-68.9 -43 -74.4 -42.9 -74.4 -42.9L-65 -36C-65 -36 -68.4 -34.7 -70 -34.2C-72.1 -33.5 -76.3 -32.3 -76.3 -32.3L-68.2 -24.8C-68.2 -24.8 -70 -22.5 -71.3 -22.3C-73.7 -21.9 -78.8 -22.9 -78.8 -22.9C-78.8 -22.9 -77.7 -19.5 -76.3 -18.5C-74.2 -17.1 -68.8 -16 -68.8 -16C-68.8 -16 -70.8 -11.5 -72.5 -9.8C-74.3 -8.1 -76.8 -7.3 -78.8 -6C-80.1 -5.3 -82.5 -3.5 -82.5 -3.5M-120 60.8C-120 60.8 -120.4 64 -121.3 65.2C-122.8 67 -126.9 69.6 -126.9 69.6C-126.9 69.6 -122.3 70.5 -120 70.6C-118 70.7 -115.8 70.7 -113.8 70.2C-112.6 69.9 -110.7 68.3 -110.7 68.3C-110.7 68.3 -113 72.8 -113.2 75.2C-113.4 78.5 -112.6 81.9 -111.9 85.2C-111.4 87.8 -109.4 92.7 -109.4 92.7L-102.8 80.8C-102.8 80.8 -103.6 88.9 -102.8 92.7C-102.2 95.6 -100.2 98.2 -98.8 100.8C-98 102.3 -96.3 105.2 -96.3 105.2L-91 91.7C-91 91.7 -88.2 96.8 -87.9 99.6C-87.7 101.9 -88.4 104.4 -89.4 106.5C-90.5 108.4 -94 111.5 -94 111.5C-94 111.5 -88.7 110.1 -86.3 109C-83.5 107.6 -78.2 104 -78.2 104C-78.2 104 -76.8 108.4 -77.8 110.2C-79.1 112.5 -84.4 114.6 -84.4 114.6C-84.4 114.6 -78.2 115.3 -75 115.5C-72.6 115.5 -70 115.6 -67.5 115.2C-66 114.9 -63.2 113.3 -63.2 113.3C-63.2 113.3 -65.1 117.8 -65.7 120.2C-66.2 122.4 -66.3 127.1 -66.3 127.1C-66.3 127.1 -62.4 123.6 -60 122.7C-57.3 121.7 -54.2 121.3 -51.3 121.5C-49.1 121.5 -45 123.3 -45 123.3M-81.3 10.2L-74.8 12.7C-74.8 12.7 -75.9 17.7 -76.5 20.2C-77 22.2 -78.2 26.2 -78.2 26.2L-73.8 22.7C-73.8 22.7 -70.7 28.4 -70.3 31.5C-69.9 34.4 -71.5 40.5 -71.5 40.5L-67.5 27.1C-67.5 27.1 -64.5 34.1 -63.8 37.7C-63.1 41.3 -63.2 49 -63.2 49L-57.5 45.2C-57.5 45.2 -55.8 51.9 -55 55.2C-54.3 58.7 -53.2 65.8 -53.2 65.8L-50 54C-50 54 -49.1 59.1 -48.2 61.5C-47.4 63.5 -45 67.5 -45 67.5M-30 127.7C-30 127.7 -27 132.1 -25 134C-23.2 135.7 -21.1 137.4 -18.8 138.3C-17.1 139 -13.2 138.7 -13.2 138.7L-20 125.8C-20 125.8 -16 128.4 -13.8 129C-10.6 129.8 -7 129.3 -3.8 130.2C-1.1 131 1.5 132.2 3.7 134C5.8 135.6 8.7 140.2 8.7 140.2L5.6 128.7C5.6 128.7 11 129.2 13.7 129.6C15.8 129.9 18.1 129.8 20 130.8C21.6 131.8 23.2 133.4 23.7 135.2C24.3 137.2 23.1 141.5 23.1 141.5C23.1 141.5 27.3 139.4 28.7 137.7C30.5 135.6 31.1 132.6 32.5 130.2C33.3 128.7 33.8 126 35.6 126C37.2 126 38 128.6 38.1 130.2C38.2 132.3 36.2 136.5 36.2 136.5C36.2 136.5 41.7 135.6 43.7 134C46.4 131.7 47.8 128 50 125.2C51.1 123.7 52 121.8 53.7 120.8C55.5 119.8 57.9 119 60 119.6C61.7 120.1 63.7 123.7 63.7 123.7L62.5 116.5C62.5 116.5 63 114.2 63.7 113.3C64.5 112.3 66.8 110.8 66.8 110.8M-35.7 71.7L-33.2 64C-33.2 64 -28.1 66.8 -26.3 69C-23.9 71.7 -20.7 78.3 -20.7 78.3L-18.8 69.6C-18.8 69.6 -15.3 72.8 -13.8 74.6C-12.6 76.1 -10.7 79.6 -10.7 79.6L-5.3 74C-5.3 74 -2.6 75.6 -1.3 76.5C0.2 77.4 3.1 79.6 3.1 79.6C3.1 79.6 5.7 75.9 7.5 74.6C9.3 73.1 11.6 72.2 13.7 71.2C14.6 70.8 16.5 70.2 16.5 70.2C16.5 70.2 16 74.5 16.8 76.5C17.3 77.6 18.8 79.3 20 78.7C22.1 77.6 22.9 74.7 24.3 72.7C25.3 71.4 27.2 68.7 27.2 68.7L28.7 75.6C28.7 75.6 31.7 70.9 33.7 69C35.3 67.4 39.3 65.2 39.3 65.2L36.8 72.1C36.8 72.1 40.4 68.4 42.5 67.1C43.5 66.4 46 66.2 46 66.2M83.7 100.5C83.7 100.5 86.1 103.8 87.5 105.2C88.8 106.6 91.8 109 91.8 109C91.8 109 92.3 103.9 93.1 101.5C94.4 97 98.1 88.3 98.1 88.3C98.1 88.3 97 93 97.5 95.2C98 97.6 101 101.7 101 101.7C101 101.7 104.4 94.5 105.6 90.8C107 86.2 109 76.5 109 76.5C109 76.5 109.2 80.7 109.7 82.7C110.2 84.6 111.8 88.3 111.8 88.3C111.8 88.3 116.1 79.7 117.5 75.2C118.8 70.4 120 60.2 120 60.2C120 60.2 119.9 64.4 120.3 66.5C120.7 68.1 122.5 71.2 122.5 71.2C122.5 71.2 125.4 64.8 126.2 61.5C127 58.2 127.4 54.8 127.5 51.5C127.5 49.2 126.5 44.6 126.5 44.6C126.5 44.6 128.4 48.5 130 50C131.3 51.2 133.1 52.5 135 52.5C136.5 52.5 139 50 139 50C139 50 136.1 46.1 135.2 44C134.1 41.2 133.8 38.1 133.1 35.2C132.4 32.2 131 26.2 131 26.2M50.6 64.6C50.6 64.6 52 60.8 52.7 59C53.2 57.6 54.3 55 54.3 55L55.6 58.3L56.8 47.1C56.8 47.1 57 50.2 57.7 51.5C58.6 53 61.5 55.2 61.5 55.2C61.5 55.2 64.1 46.8 65.6 42.7C67.1 38.5 70.6 30.2 70.6 30.2C70.6 30.2 70.7 34.9 71.2 37.1C71.5 38.5 73.1 41.2 73.1 41.2C73.1 41.2 75.6 33.9 76.5 30.2C77.3 26.5 78.1 18.7 78.1 18.7L80 22.1C80 22.1 81 15.8 81.8 12.7C82.3 11 83.7 7.7 83.7 7.7M133.1 8.3L132.5 5C132.5 5 134.7 8.7 136.2 10.2C137.2 11.3 140 12.7 140 12.7C140 12.7 139.1 8.5 139.6 6.5C140.3 3.4 143 0.8 143.3 -2.3C143.7 -5.3 142.7 -8.5 141.6 -11.3C140.8 -13.4 139.4 -15.6 137.7 -17C136.6 -18 133.5 -18.3 133.5 -18.3C133.5 -18.3 137.9 -18.8 140 -19.5C141.4 -20.1 143.7 -22.3 143.7 -22.3C143.7 -22.3 139.1 -22.7 137.2 -23.8C135.3 -24.9 133.7 -26.7 132.5 -28.5C131.2 -30.4 131 -32.8 130 -34.8C129 -36.8 126.5 -40.4 126.5 -40.4C126.5 -40.4 129.3 -37.2 131.2 -36.3C133.1 -35.4 135.3 -35.2 137.5 -35C138.6 -35 141 -35.8 141 -35.8C141 -35.8 138.9 -41.2 137.5 -43.5C135.3 -47.1 133.2 -51 130 -53.5C127.2 -55.8 120 -57.5 120 -57.5C120 -57.5 124.5 -59.4 126.2 -61C127.7 -62.5 129.3 -66.7 129.3 -66.7C129.3 -66.7 125.5 -66.5 123.7 -66.7C121.2 -66.9 118.6 -67.1 116.2 -67.9C113.6 -68.8 108.7 -71.7 108.7 -71.7M83.7 -7.9C83.7 -7.9 80.8 -11.7 79.3 -13.5C77.7 -15.5 74.3 -19.2 74.3 -19.2C74.3 -19.2 78.1 -19.5 80 -19.8C81.4 -20.1 84.3 -21 84.3 -21C84.3 -21 80 -24.2 78.1 -26C76.5 -27.6 73.7 -31 73.7 -31C73.7 -31 76.7 -31.3 78.1 -31.7C79.5 -32.1 82.2 -33.5 82.2 -33.5C82.2 -33.5 78.1 -33.8 76.2 -34.2C75.1 -34.4 73.1 -35.4 73.1 -35.4M95.2 -89.2C95.2 -89.2 97.3 -92.8 97.5 -94.8C97.6 -96.6 97.2 -98.7 96 -100C94.6 -101.4 92.5 -102 90.6 -102C88.5 -102 84.7 -100 84.7 -100C84.7 -100 85.4 -102.9 85 -104.2C84.2 -106.1 82.7 -107.7 81.2 -109.2C80.4 -110 78.1 -110.8 78.1 -110.8C78.1 -110.8 76.3 -108.2 75 -107.9C73.3 -107.6 71.5 -108.6 70 -109.2C68.2 -109.8 65 -111.7 65 -111.7L71.2 -114.2C71.2 -114.2 67.9 -116.4 66.2 -117.3C63.8 -118.6 61.4 -120.2 58.7 -120.7C55.9 -121.2 50 -120.4 50 -120.4C50 -120.4 51.9 -123.1 53.1 -124.2C54.6 -125.5 58.1 -127.5 58.1 -127.5C58.1 -127.5 51.8 -128.7 48.7 -128.5C45.8 -128.4 42.8 -127.4 40 -126.7C37 -125.9 31.2 -124.2 31.2 -124.2C31.2 -124.2 35.2 -127.5 36.2 -129.8C36.8 -131.3 35.6 -134.5 35.6 -134.5C35.6 -134.5 32.8 -132.3 31.2 -131.7C28.8 -130.7 26.2 -129.9 23.7 -129.5C20.8 -129.1 15 -129.2 15 -129.2M72.5 -42.9L68.7 -45.4C68.7 -45.4 67 -41.3 65.6 -39.8C63.7 -37.8 58.7 -35 58.7 -35C58.7 -35 61.4 -39.7 61.8 -42.3C62.3 -45.2 61.8 -48.2 61.2 -51C60.8 -53 58.7 -56.7 58.7 -56.7C58.7 -56.7 54.5 -56.5 52.5 -56.7C49.7 -56.9 44.3 -57.9 44.3 -57.9C44.3 -57.9 46.9 -59 48.1 -59.8C49.2 -60.6 51.2 -62.5 51.2 -62.5C51.2 -62.5 45.3 -63.7 42.5 -64.2C39.8 -64.6 34.3 -65.4 34.3 -65.4C34.3 -65.4 37.9 -68.1 39.3 -69.8C40.6 -71.3 42.5 -75 42.5 -75C42.5 -75 34.9 -74.1 31.2 -73.5C27.7 -73 20.6 -71.7 20.6 -71.7L23.1 -76M-113.2 -67.9C-113.2 -67.9 -109.6 -67 -108.2 -66C-106.9 -65.2 -105.3 -62.5 -105.3 -62.5M96.2 -97.3C96.2 -97.3 95.3 -94 95.2 -92.3C95.1 -91.1 95.6 -88.5 95.6 -88.5" fill="none" stroke="#000" stroke-width="2.25"/><path d="M15 -129.5C15 -129.5 21.4 -124.4 23.7 -121C26 -117.7 27.6 -113.7 28.7 -109.8C29.7 -106.2 30 -102.3 30 -98.5C30 -94.8 29.8 -90.9 28.7 -87.3C27.7 -83.8 23.7 -77.3 23.7 -77.3M0 -129.2C0 -129.2 7.1 -124.2 10 -121C12.5 -118.2 14.7 -114.6 16.2 -111C17.6 -107.5 18.6 -103.6 18.7 -99.8C18.8 -96.4 17.9 -93 16.8 -89.8C15.6 -86.4 11.8 -80.2 11.8 -80.2M-113.2 -68.3C-113.2 -68.3 -111.6 -73.4 -110 -75.4C-108 -78.1 -105.6 -81 -102.5 -82.3C-98.7 -84 -94.2 -84.3 -90 -84.2C-85.8 -84.1 -81.5 -83.1 -77.5 -81.7C-73.6 -80.2 -69.7 -78 -66.3 -75.4C-63.4 -73.2 -60.7 -70.4 -58.8 -67.3C-57.5 -65.1 -56.9 -62.4 -56.9 -59.8C-57 -57.8 -59 -54.2 -59 -54.2M-112.8 -68C-112.8 -68 -107.9 -71.5 -105 -72.3C-101.5 -73.3 -97.5 -73.8 -93.8 -73.5C-89.6 -73.2 -85.3 -72 -81.3 -70.4C-77.3 -68.9 -73.5 -66.6 -70 -64.2C-67.3 -62.2 -65 -59.6 -62.5 -57.3C-61.4 -56.2 -59.4 -53.8 -59.4 -53.8M-125 44C-125 44 -124.7 42.3 -124.4 41.5C-123.4 38.1 -122.8 34.6 -121.3 31.5C-119.6 27.9 -117.5 24.5 -115 21.5C-112.1 17.8 -108.6 14.4 -105 11.5C-101.2 8.2 -96.7 5.5 -92.5 2.7C-89.3 0.5 -82.5 -3.5 -82.5 -3.5M-119.4 60.8C-119.4 60.8 -118.5 53.6 -117.5 50.2C-116.6 46.8 -114.9 43.5 -113.8 40.2C-113.5 39.3 -115.5 43.5 -115 42.7C-113.3 39.8 -112 36.6 -110 34C-107.5 30.4 -104.5 26.9 -101.3 24C-97.9 20.7 -93.6 18.2 -90 15.2C-87.6 13.1 -82.9 8.3 -82.9 8.3M-45 123.3C-45 123.3 -47.3 119.6 -48.2 117.7C-49.4 114.9 -50.6 111.9 -51.3 109C-52.1 105.7 -52.8 102.3 -52.5 99C-52.3 95.6 -51 92.2 -50 89C-48.9 85.2 -47.2 81.5 -46.3 77.7C-45.5 74.4 -45 67.5 -45 67.5M-30 127.7C-30 127.7 -32.9 126.4 -33.8 125.2C-35.6 123 -37.1 120.4 -38.2 117.7C-39.4 114.5 -40.4 111.1 -40.7 107.7C-41 104 -40.4 100.1 -40 96.5C-39.6 92.3 -38.9 88.1 -38.2 84C-37.5 79.9 -35.7 71.7 -35.7 71.7M66.8 110.8C66.8 110.8 63.8 109.3 62.5 108.3C59.9 106.4 57.2 104.4 55 102.1C52.6 99.6 50.4 96.9 48.7 94C46.9 90.8 45.3 87.4 44.3 84C43.4 80.7 42.8 77.3 43.1 74C43.3 71.3 45.6 66.5 45.6 66.5M83.7 100.5C83.7 100.5 80.3 100.4 78.7 100C76.1 99.3 73.5 98.4 71.2 97.1C68.5 95.5 65.9 93.6 63.7 91.5C61.4 89.2 59.2 86.7 57.5 84C55.5 80.8 53.7 77.4 52.5 74C51.4 71 50.6 64.6 50.6 64.6M130.6 26.5C130.6 26.5 124.3 26.6 121.2 26.5C117.1 26.2 112.8 26 108.7 25.2C104.5 24.4 100.1 23.4 96.2 21.5C92.9 19.8 89.9 17.3 87.5 14.6C85.7 12.7 83.7 7.7 83.7 7.7M133.1 8.3C133.1 8.3 124.3 8.8 120 8.7C115.4 8.6 110.7 8.4 106.2 7.7C102.4 7.1 98.4 6.2 95 4.6C92.1 3.3 89.5 1.2 87.5 -1C85.7 -3 83.7 -7.9 83.7 -7.9M96 -88.5C96 -88.5 101.5 -84.8 103.7 -82.3C105.6 -80.2 107.4 -77.6 108.1 -74.8C108.9 -71.2 109 -67.2 108.1 -63.5C107.1 -59.5 105 -55.6 102.5 -52.3C99.8 -48.8 96 -46.1 92.5 -43.5C89 -41.1 85.1 -38.9 81.2 -37.3C78.7 -36.2 73.1 -35.4 73.1 -35.4M95.6 -88.5C95.6 -88.5 97 -83.6 96.8 -81C96.6 -77.3 95.6 -73.4 94.3 -69.8C92.9 -65.9 91 -62 88.7 -58.5C86.6 -55.4 83.9 -52.4 81.2 -49.8C78.6 -47.3 72.5 -42.9 72.5 -42.9M0 -129.2L15 -129.5M11.8 -80.2L23.7 -77.3M-82.5 -3.5C-82.5 -3.5 -83.4 0.6 -83.2 2.7C-82.9 5.2 -81.3 10.2 -81.3 10.2M-125 44C-125 44 -123.4 49.8 -122.5 52.7C-121.8 55.4 -120 60.8 -120 60.8M-45 67.5L-35.7 71.7M-45 123.3L-30 127.7M45.6 66.5L50.6 64.6M133.1 8.3C133.1 8.3 134.1 14.6 133.7 17.7C133.3 20.7 130.6 26.5 130.6 26.5M83.7 -7.9C83.7 -7.9 83.5 -2.5 83.5 0.2C83.5 2.7 83.7 7.7 83.7 7.7M72.5 -42.9C72.5 -42.9 71.7 -40.4 71.8 -39.2C71.9 -37.9 73.1 -35.4 73.1 -35.4" fill="none" stroke="#000" stroke-width="2.5"/><path d="M66.8 110.8C66.8 110.8 72.5 109.2 75 107.7C78.1 105.8 83.5 100.6 83.5 100.6" fill="none" stroke="#000" stroke-width="3.85"/></g>
<g transform="translate(217.5 1523.7)" stroke-linejoin="round" stroke-linecap="round"><path d="M0 -129.2C0 -129.2 -5.1 -129.4 -7.5 -129.8C-9.7 -130.2 -11.7 -131.1 -13.8 -131.7C-16.3 -132.3 -18.8 -133.2 -21.3 -133.3C-23 -133.4 -25.2 -133.5 -26.3 -132.3C-27.1 -131.4 -25.1 -129.7 -25.7 -128.5C-26.5 -127 -28.3 -125.7 -30 -125.4C-31.6 -125.2 -33.3 -126.2 -34.4 -127.3C-35.5 -128.4 -36.1 -130.1 -36.3 -131.7C-36.4 -132.8 -35.3 -135 -35.3 -135C-35.3 -135 -38.5 -132.7 -39.4 -131C-40.9 -128.6 -42.5 -122.9 -42.5 -122.9C-42.5 -122.9 -45.7 -125.1 -47.5 -125.4C-50.4 -125.9 -53.5 -126 -56.3 -125.4C-58.5 -125 -60.6 -123.7 -62.5 -122.5C-63.1 -122.2 -63.8 -121 -63.8 -121C-63.8 -121 -60.3 -120.7 -58.8 -119.8C-58 -119.3 -57 -118.1 -57.5 -117.3C-58.6 -115.7 -60.8 -115.1 -62.5 -114.2C-65.5 -112.6 -71.5 -109.5 -71.5 -109.5C-71.5 -109.5 -71.6 -112.3 -71.9 -113.5C-72.3 -114.9 -73.8 -117.3 -73.8 -117.3C-73.8 -117.3 -78.3 -115.2 -80 -113.5C-81.9 -111.8 -83.5 -109.6 -84.4 -107.3C-85.4 -105 -85.7 -99.8 -85.7 -99.8C-85.7 -99.8 -86.6 -104 -86.9 -106C-87.2 -107.9 -87.5 -111.7 -87.5 -111.7C-87.5 -111.7 -89.8 -106.7 -90.7 -104.2C-91.6 -101.5 -92.4 -98.7 -93.2 -96C-93.5 -94.9 -94 -92.5 -94 -92.5L-103.5 -92C-103.5 -92 -102.3 -89.3 -101.9 -87.9C-101.6 -86.5 -101.5 -83.5 -101.5 -83.5M11.8 -80.2L2.5 -80.7L4 -73.3C4 -73.3 -0.1 -76.9 -2.5 -77.9C-5.1 -79 -10.7 -79.8 -10.7 -79.8C-10.7 -79.8 -9.9 -73.9 -9.4 -71C-8.6 -65.7 -6.9 -54.8 -6.9 -54.8C-6.9 -54.8 -10.5 -56.8 -11.9 -58.3C-13.9 -60.4 -15.1 -63.2 -16.9 -65.4C-18.8 -67.7 -20.6 -70.2 -23.2 -71.7C-25 -72.7 -29.4 -72.5 -29.4 -72.5L-26.3 -64.2C-26.3 -64.2 -31.1 -65.2 -33.2 -66.3C-35.2 -67.3 -38.5 -70.4 -38.5 -70.4L-34 -59.5C-34 -59.5 -38.8 -61.2 -41.3 -61.3C-44.2 -61.5 -47.2 -61.1 -50 -60.4C-52.7 -59.8 -57.5 -57.3 -57.5 -57.3M-113.2 -67.9C-113.2 -67.9 -118.6 -67.9 -121.3 -67.5C-123.4 -67.3 -127.5 -66 -127.5 -66C-127.5 -66 -126.4 -61.6 -125 -59.8C-124 -58.4 -120.7 -56.7 -120.7 -56.7C-120.7 -56.7 -124.6 -56.3 -126.3 -55.4C-128.3 -54.3 -130.8 -53 -131.3 -50.8C-131.6 -49.4 -129.4 -48.7 -128.2 -47.9C-127.2 -47.3 -124.8 -46.7 -124.8 -46.7C-124.8 -46.7 -125.3 -43.3 -126.5 -42.5C-128.9 -41.1 -134.8 -40.4 -134.8 -40.4C-134.8 -40.4 -134.6 -36.6 -134 -34.8C-133.1 -31.8 -130.3 -26 -130.3 -26L-140.7 -31.3C-140.7 -31.3 -137.4 -29.9 -136.3 -28.5C-135.2 -27.2 -134.6 -25.3 -134.4 -23.5C-134.2 -20.3 -135 -13.5 -135 -13.5L-140.3 -21.7C-140.3 -21.7 -143 -18.1 -143.8 -16C-144.7 -13.7 -145.4 -11.1 -145.3 -8.5C-145.2 -5.6 -144.6 -2.4 -143.2 0.2C-141.6 3.1 -136.3 7.5 -136.3 7.5L-145.7 11.5C-145.7 11.5 -140.9 12.8 -139.4 14.6C-137.8 16.4 -138.3 19.5 -136.9 21.5C-135.7 23.1 -131.9 25.2 -131.9 25.2C-131.9 25.2 -135.2 28.3 -136.3 30.2C-137.6 32.5 -138.8 37.7 -138.8 37.7C-138.8 37.7 -134.2 35.4 -131.9 35.8C-130.2 36.1 -128.2 39.6 -128.2 39.6C-128.2 39.6 -128 43.7 -126.9 45.2C-126.5 45.8 -125 44 -125 44M-59.4 -53.8L-62.5 -50.4L-57.5 -49.2C-57.5 -49.2 -58.9 -46.8 -60 -46C-61.9 -44.8 -64.1 -44 -66.3 -43.5C-68.9 -43 -74.4 -42.9 -74.4 -42.9L-65 -36C-65 -36 -68.4 -34.7 -70 -34.2C-72.1 -33.5 -76.3 -32.3 -76.3 -32.3L-68.2 -24.8C-68.2 -24.8 -70 -22.5 -71.3 -22.3C-73.7 -21.9 -78.8 -22.9 -78.8 -22.9C-78.8 -22.9 -77.7 -19.5 -76.3 -18.5C-74.2 -17.1 -68.8 -16 -68.8 -16C-68.8 -16 -70.8 -11.5 -72.5 -9.8C-74.3 -8.1 -76.8 -7.3 -78.8 -6C-80.1 -5.3 -82.5 -3.5 -82.5 -3.5M-120 60.8C-120 60.8 -120.4 64 -121.3 65.2C-122.8 67 -126.9 69.6 -126.9 69.6C-126.9 69.6 -122.3 70.5 -120 70.6C-118 70.7 -115.8 70.7 -113.8 70.2C-112.6 69.9 -110.7 68.3 -110.7 68.3C-110.7 68.3 -113 72.8 -113.2 75.2C-113.4 78.5 -112.6 81.9 -111.9 85.2C-111.4 87.8 -109.4 92.7 -109.4 92.7L-102.8 80.8C-102.8 80.8 -103.6 88.9 -102.8 92.7C-102.2 95.6 -100.2 98.2 -98.8 100.8C-98 102.3 -96.3 105.2 -96.3 105.2L-91 91.7C-91 91.7 -88.2 96.8 -87.9 99.6C-87.7 101.9 -88.4 104.4 -89.4 106.5C-90.5 108.4 -94 111.5 -94 111.5C-94 111.5 -88.7 110.1 -86.3 109C-83.5 107.6 -78.2 104 -78.2 104C-78.2 104 -76.8 108.4 -77.8 110.2C-79.1 112.5 -84.4 114.6 -84.4 114.6C-84.4 114.6 -78.2 115.3 -75 115.5C-72.6 115.5 -70 115.6 -67.5 115.2C-66 114.9 -63.2 113.3 -63.2 113.3C-63.2 113.3 -65.1 117.8 -65.7 120.2C-66.2 122.4 -66.3 127.1 -66.3 127.1C-66.3 127.1 -62.4 123.6 -60 122.7C-57.3 121.7 -54.2 121.3 -51.3 121.5C-49.1 121.5 -45 123.3 -45 123.3M-81.3 10.2L-74.8 12.7C-74.8 12.7 -75.9 17.7 -76.5 20.2C-77 22.2 -78.2 26.2 -78.2 26.2L-73.8 22.7C-73.8 22.7 -70.7 28.4 -70.3 31.5C-69.9 34.4 -71.5 40.5 -71.5 40.5L-67.5 27.1C-67.5 27.1 -64.5 34.1 -63.8 37.7C-63.1 41.3 -63.2 49 -63.2 49L-57.5 45.2C-57.5 45.2 -55.8 51.9 -55 55.2C-54.3 58.7 -53.2 65.8 -53.2 65.8L-50 54C-50 54 -49.1 59.1 -48.2 61.5C-47.4 63.5 -45 67.5 -45 67.5M-30 127.7C-30 127.7 -27 132.1 -25 134C-23.2 135.7 -21.1 137.4 -18.8 138.3C-17.1 139 -13.2 138.7 -13.2 138.7L-20 125.8C-20 125.8 -16 128.4 -13.8 129C-10.6 129.8 -7 129.3 -3.8 130.2C-1.1 131 1.5 132.2 3.7 134C5.8 135.6 8.7 140.2 8.7 140.2L5.6 128.7C5.6 128.7 11 129.2 13.7 129.6C15.8 129.9 18.1 129.8 20 130.8C21.6 131.8 23.2 133.4 23.7 135.2C24.3 137.2 23.1 141.5 23.1 141.5C23.1 141.5 27.3 139.4 28.7 137.7C30.5 135.6 31.1 132.6 32.5 130.2C33.3 128.7 33.8 126 35.6 126C37.2 126 38 128.6 38.1 130.2C38.2 132.3 36.2 136.5 36.2 136.5C36.2 136.5 41.7 135.6 43.7 134C46.4 131.7 47.8 128 50 125.2C51.1 123.7 52 121.8 53.7 120.8C55.5 119.8 57.9 119 60 119.6C61.7 120.1 63.7 123.7 63.7 123.7L62.5 116.5C62.5 116.5 63 114.2 63.7 113.3C64.5 112.3 66.8 110.8 66.8 110.8M-35.7 71.7L-33.2 64C-33.2 64 -28.1 66.8 -26.3 69C-23.9 71.7 -20.7 78.3 -20.7 78.3L-18.8 69.6C-18.8 69.6 -15.3 72.8 -13.8 74.6C-12.6 76.1 -10.7 79.6 -10.7 79.6L-5.3 74C-5.3 74 -2.6 75.6 -1.3 76.5C0.2 77.4 3.1 79.6 3.1 79.6C3.1 79.6 5.7 75.9 7.5 74.6C9.3 73.1 11.6 72.2 13.7 71.2C14.6 70.8 16.5 70.2 16.5 70.2C16.5 70.2 16 74.5 16.8 76.5C17.3 77.6 18.8 79.3 20 78.7C22.1 77.6 22.9 74.7 24.3 72.7C25.3 71.4 27.2 68.7 27.2 68.7L28.7 75.6C28.7 75.6 31.7 70.9 33.7 69C35.3 67.4 39.3 65.2 39.3 65.2L36.8 72.1C36.8 72.1 40.4 68.4 42.5 67.1C43.5 66.4 46 66.2 46 66.2M83.7 100.5C83.7 100.5 86.1 103.8 87.5 105.2C88.8 106.6 91.8 109 91.8 109C91.8 109 92.3 103.9 93.1 101.5C94.4 97 98.1 88.3 98.1 88.3C98.1 88.3 97 93 97.5 95.2C98 97.6 101 101.7 101 101.7C101 101.7 104.4 94.5 105.6 90.8C107 86.2 109 76.5 109 76.5C109 76.5 109.2 80.7 109.7 82.7C110.2 84.6 111.8 88.3 111.8 88.3C111.8 88.3 116.1 79.7 117.5 75.2C118.8 70.4 120 60.2 120 60.2C120 60.2 119.9 64.4 120.3 66.5C120.7 68.1 122.5 71.2 122.5 71.2C122.5 71.2 125.4 64.8 126.2 61.5C127 58.2 127.4 54.8 127.5 51.5C127.5 49.2 126.5 44.6 126.5 44.6C126.5 44.6 128.4 48.5 130 50C131.3 51.2 133.1 52.5 135 52.5C136.5 52.5 139 50 139 50C139 50 136.1 46.1 135.2 44C134.1 41.2 133.8 38.1 133.1 35.2C132.4 32.2 131 26.2 131 26.2M50.6 64.6C50.6 64.6 52 60.8 52.7 59C53.2 57.6 54.3 55 54.3 55L55.6 58.3L56.8 47.1C56.8 47.1 57 50.2 57.7 51.5C58.6 53 61.5 55.2 61.5 55.2C61.5 55.2 64.1 46.8 65.6 42.7C67.1 38.5 70.6 30.2 70.6 30.2C70.6 30.2 70.7 34.9 71.2 37.1C71.5 38.5 73.1 41.2 73.1 41.2C73.1 41.2 75.6 33.9 76.5 30.2C77.3 26.5 78.1 18.7 78.1 18.7L80 22.1C80 22.1 81 15.8 81.8 12.7C82.3 11 83.7 7.7 83.7 7.7M133.1 8.3L132.5 5C132.5 5 134.7 8.7 136.2 10.2C137.2 11.3 140 12.7 140 12.7C140 12.7 139.1 8.5 139.6 6.5C140.3 3.4 143 0.8 143.3 -2.3C143.7 -5.3 142.7 -8.5 141.6 -11.3C140.8 -13.4 139.4 -15.6 137.7 -17C136.6 -18 133.5 -18.3 133.5 -18.3C133.5 -18.3 137.9 -18.8 140 -19.5C141.4 -20.1 143.7 -22.3 143.7 -22.3C143.7 -22.3 139.1 -22.7 137.2 -23.8C135.3 -24.9 133.7 -26.7 132.5 -28.5C131.2 -30.4 131 -32.8 130 -34.8C129 -36.8 126.5 -40.4 126.5 -40.4C126.5 -40.4 129.3 -37.2 131.2 -36.3C133.1 -35.4 135.3 -35.2 137.5 -35C138.6 -35 141 -35.8 141 -35.8C141 -35.8 138.9 -41.2 137.5 -43.5C135.3 -47.1 133.2 -51 130 -53.5C127.2 -55.8 120 -57.5 120 -57.5C120 -57.5 124.5 -59.4 126.2 -61C127.7 -62.5 129.3 -66.7 129.3 -66.7C129.3 -66.7 125.5 -66.5 123.7 -66.7C121.2 -66.9 118.6 -67.1 116.2 -67.9C113.6 -68.8 108.7 -71.7 108.7 -71.7M83.7 -7.9C83.7 -7.9 80.8 -11.7 79.3 -13.5C77.7 -15.5 74.3 -19.2 74.3 -19.2C74.3 -19.2 78.1 -19.5 80 -19.8C81.4 -20.1 84.3 -21 84.3 -21C84.3 -21 80 -24.2 78.1 -26C76.5 -27.6 73.7 -31 73.7 -31C73.7 -31 76.7 -31.3 78.1 -31.7C79.5 -32.1 82.2 -33.5 82.2 -33.5C82.2 -33.5 78.1 -33.8 76.2 -34.2C75.1 -34.4 73.1 -35.4 73.1 -35.4M95.2 -89.2C95.2 -89.2 97.3 -92.8 97.5 -94.8C97.6 -96.6 97.2 -98.7 96 -100C94.6 -101.4 92.5 -102 90.6 -102C88.5 -102 84.7 -100 84.7 -100C84.7 -100 85.4 -102.9 85 -104.2C84.2 -106.1 82.7 -107.7 81.2 -109.2C80.4 -110 78.1 -110.8 78.1 -110.8C78.1 -110.8 76.3 -108.2 75 -107.9C73.3 -107.6 71.5 -108.6 70 -109.2C68.2 -109.8 65 -111.7 65 -111.7L71.2 -114.2C71.2 -114.2 67.9 -116.4 66.2 -117.3C63.8 -118.6 61.4 -120.2 58.7 -120.7C55.9 -121.2 50 -120.4 50 -120.4C50 -120.4 51.9 -123.1 53.1 -124.2C54.6 -125.5 58.1 -127.5 58.1 -127.5C58.1 -127.5 51.8 -128.7 48.7 -128.5C45.8 -128.4 42.8 -127.4 40 -126.7C37 -125.9 31.2 -124.2 31.2 -124.2C31.2 -124.2 35.2 -127.5 36.2 -129.8C36.8 -131.3 35.6 -134.5 35.6 -134.5C35.6 -134.5 32.8 -132.3 31.2 -131.7C28.8 -130.7 26.2 -129.9 23.7 -129.5C20.8 -129.1 15 -129.2 15 -129.2M72.5 -42.9L68.7 -45.4C68.7 -45.4 67 -41.3 65.6 -39.8C63.7 -37.8 58.7 -35 58.7 -35C58.7 -35 61.4 -39.7 61.8 -42.3C62.3 -45.2 61.8 -48.2 61.2 -51C60.8 -53 58.7 -56.7 58.7 -56.7C58.7 -56.7 54.5 -56.5 52.5 -56.7C49.7 -56.9 44.3 -57.9 44.3 -57.9C44.3 -57.9 46.9 -59 48.1 -59.8C49.2 -60.6 51.2 -62.5 51.2 -62.5C51.2 -62.5 45.3 -63.7 42.5 -64.2C39.8 -64.6 34.3 -65.4 34.3 -65.4C34.3 -65.4 37.9 -68.1 39.3 -69.8C40.6 -71.3 42.5 -75 42.5 -75C42.5 -75 34.9 -74.1 31.2 -73.5C27.7 -73 20.6 -71.7 20.6 -71.7L23.1 -76M-113.2 -67.9C-113.2 -67.9 -109.6 -67 -108.2 -66C-106.9 -65.2 -105.3 -62.5 -105.3 -62.5M96.2 -97.3C96.2 -97.3 95.3 -94 95.2 -92.3C95.1 -91.1 95.6 -88.5 95.6 -88.5" fill="none" stroke="#000" stroke-width="2.25"/><path d="M15 -129.5C15 -129.5 21.4 -124.4 23.7 -121C26 -117.7 27.6 -113.7 28.7 -109.8C29.7 -106.2 30 -102.3 30 -98.5C30 -94.8 29.8 -90.9 28.7 -87.3C27.7 -83.8 23.7 -77.3 23.7 -77.3M0 -129.2C0 -129.2 7.1 -124.2 10 -121C12.5 -118.2 14.7 -114.6 16.2 -111C17.6 -107.5 18.6 -103.6 18.7 -99.8C18.8 -96.4 17.9 -93 16.8 -89.8C15.6 -86.4 11.8 -80.2 11.8 -80.2M-113.2 -68.3C-113.2 -68.3 -111.6 -73.4 -110 -75.4C-108 -78.1 -105.6 -81 -102.5 -82.3C-98.7 -84 -94.2 -84.3 -90 -84.2C-85.8 -84.1 -81.5 -83.1 -77.5 -81.7C-73.6 -80.2 -69.7 -78 -66.3 -75.4C-63.4 -73.2 -60.7 -70.4 -58.8 -67.3C-57.5 -65.1 -56.9 -62.4 -56.9 -59.8C-57 -57.8 -59 -54.2 -59 -54.2M-112.8 -68C-112.8 -68 -107.9 -71.5 -105 -72.3C-101.5 -73.3 -97.5 -73.8 -93.8 -73.5C-89.6 -73.2 -85.3 -72 -81.3 -70.4C-77.3 -68.9 -73.5 -66.6 -70 -64.2C-67.3 -62.2 -65 -59.6 -62.5 -57.3C-61.4 -56.2 -59.4 -53.8 -59.4 -53.8M-125 44C-125 44 -124.7 42.3 -124.4 41.5C-123.4 38.1 -122.8 34.6 -121.3 31.5C-119.6 27.9 -117.5 24.5 -115 21.5C-112.1 17.8 -108.6 14.4 -105 11.5C-101.2 8.2 -96.7 5.5 -92.5 2.7C-89.3 0.5 -82.5 -3.5 -82.5 -3.5M-119.4 60.8C-119.4 60.8 -118.5 53.6 -117.5 50.2C-116.6 46.8 -114.9 43.5 -113.8 40.2C-113.5 39.3 -115.5 43.5 -115 42.7C-113.3 39.8 -112 36.6 -110 34C-107.5 30.4 -104.5 26.9 -101.3 24C-97.9 20.7 -93.6 18.2 -90 15.2C-87.6 13.1 -82.9 8.3 -82.9 8.3M-45 123.3C-45 123.3 -47.3 119.6 -48.2 117.7C-49.4 114.9 -50.6 111.9 -51.3 109C-52.1 105.7 -52.8 102.3 -52.5 99C-52.3 95.6 -51 92.2 -50 89C-48.9 85.2 -47.2 81.5 -46.3 77.7C-45.5 74.4 -45 67.5 -45 67.5M-30 127.7C-30 127.7 -32.9 126.4 -33.8 125.2C-35.6 123 -37.1 120.4 -38.2 117.7C-39.4 114.5 -40.4 111.1 -40.7 107.7C-41 104 -40.4 100.1 -40 96.5C-39.6 92.3 -38.9 88.1 -38.2 84C-37.5 79.9 -35.7 71.7 -35.7 71.7M66.8 110.8C66.8 110.8 63.8 109.3 62.5 108.3C59.9 106.4 57.2 104.4 55 102.1C52.6 99.6 50.4 96.9 48.7 94C46.9 90.8 45.3 87.4 44.3 84C43.4 80.7 42.8 77.3 43.1 74C43.3 71.3 45.6 66.5 45.6 66.5M83.7 100.5C83.7 100.5 80.3 100.4 78.7 100C76.1 99.3 73.5 98.4 71.2 97.1C68.5 95.5 65.9 93.6 63.7 91.5C61.4 89.2 59.2 86.7 57.5 84C55.5 80.8 53.7 77.4 52.5 74C51.4 71 50.6 64.6 50.6 64.6M130.6 26.5C130.6 26.5 124.3 26.6 121.2 26.5C117.1 26.2 112.8 26 108.7 25.2C104.5 24.4 100.1 23.4 96.2 21.5C92.9 19.8 89.9 17.3 87.5 14.6C85.7 12.7 83.7 7.7 83.7 7.7M133.1 8.3C133.1 8.3 124.3 8.8 120 8.7C115.4 8.6 110.7 8.4 106.2 7.7C102.4 7.1 98.4 6.2 95 4.6C92.1 3.3 89.5 1.2 87.5 -1C85.7 -3 83.7 -7.9 83.7 -7.9M96 -88.5C96 -88.5 101.5 -84.8 103.7 -82.3C105.6 -80.2 107.4 -77.6 108.1 -74.8C108.9 -71.2 109 -67.2 108.1 -63.5C107.1 -59.5 105 -55.6 102.5 -52.3C99.8 -48.8 96 -46.1 92.5 -43.5C89 -41.1 85.1 -38.9 81.2 -37.3C78.7 -36.2 73.1 -35.4 73.1 -35.4M95.6 -88.5C95.6 -88.5 97 -83.6 96.8 -81C96.6 -77.3 95.6 -73.4 94.3 -69.8C92.9 -65.9 91 -62 88.7 -58.5C86.6 -55.4 83.9 -52.4 81.2 -49.8C78.6 -47.3 72.5 -42.9 72.5 -42.9M0 -129.2L15 -129.5M11.8 -80.2L23.7 -77.3M-82.5 -3.5C-82.5 -3.5 -83.4 0.6 -83.2 2.7C-82.9 5.2 -81.3 10.2 -81.3 10.2M-125 44C-125 44 -123.4 49.8 -122.5 52.7C-121.8 55.4 -120 60.8 -120 60.8M-45 67.5L-35.7 71.7M-45 123.3L-30 127.7M45.6 66.5L50.6 64.6M133.1 8.3C133.1 8.3 134.1 14.6 133.7 17.7C133.3 20.7 130.6 26.5 130.6 26.5M83.7 -7.9C83.7 -7.9 83.5 -2.5 83.5 0.2C83.5 2.7 83.7 7.7 83.7 7.7M72.5 -42.9C72.5 -42.9 71.7 -40.4 71.8 -39.2C71.9 -37.9 73.1 -35.4 73.1 -35.4" fill="none" stroke="#000" stroke-width="2.5"/><path d="M66.8 110.8C66.8 110.8 72.5 109.2 75 107.7C78.1 105.8 83.5 100.6 83.5 100.6" fill="none" stroke="#000" stroke-width="3.85"/><path d="M-18.4 -132.2C-18.4 -132.2 -24.6 -136.6 -27.8 -138.5C-31.4 -140.5 -35.2 -142.5 -39 -144.1C-42.7 -145.6 -46.5 -147 -50.3 -147.8C-53.1 -148.5 -56.2 -149.1 -59 -148.7C-61.1 -148.5 -63.3 -147.5 -64.7 -146C-66 -144.5 -66.6 -142.3 -66.5 -140.3C-66.4 -137.3 -65.2 -134.4 -64 -131.6C-62.7 -128.5 -60.6 -125.8 -59 -122.8C-57.3 -119.6 -55.5 -116.3 -54 -112.8C-52.6 -109.2 -51.7 -105.2 -50.3 -101.6C-48.8 -97.8 -47.5 -93.8 -45.3 -90.3C-43.3 -87.1 -40.8 -83.9 -37.8 -81.6C-35.3 -79.7 -32.2 -78.1 -29 -77.8C-26.4 -77.6 -23.5 -78.6 -21.5 -80.3C-19.1 -82.6 -18 -86.1 -16.5 -89.1C-15.1 -92.3 -14 -95.8 -12.8 -99.1C-12.1 -100.9 -10.9 -104.7 -10.9 -104.7M2.8 -132.2C2.8 -132.2 5.4 -137.1 7.2 -139.1C9.4 -141.6 12 -144 14.7 -146C17.8 -148.3 21.3 -150.4 24.7 -152.2C27.9 -153.9 31.3 -155.5 34.7 -156.6C37.5 -157.5 40.5 -158.2 43.5 -158.1C46 -158 48.8 -157.3 51 -156C53.1 -154.7 54.8 -152.6 56 -150.3C57.3 -147.7 58 -144.6 58.2 -141.6C58.4 -138.7 58.1 -135.6 57.2 -132.8C56.5 -130.6 55 -128.5 53.5 -126.6C51.6 -124.3 48.9 -122.7 47.2 -120.3C45.6 -118.1 44.1 -115.5 43.5 -112.8C42.8 -110 43.5 -107 43.5 -104.1C43.5 -101.6 44 -99 43.5 -96.6C42.9 -94 42 -91.2 40.3 -89.1C38.6 -86.9 36 -85.2 33.5 -84.1C30.7 -82.9 27.6 -82 24.7 -82.2C21.6 -82.4 18.6 -83.8 16 -85.3C13.3 -86.9 11 -89.2 9.1 -91.6C7.3 -93.8 5.9 -96.5 4.7 -99.1C3.7 -101.3 2.2 -106 2.2 -106" fill="none" stroke="#2eaeee" stroke-width="3"/><ellipse cx="-8.1" cy="-120.3" rx="11.4" ry="15.0" fill="none" stroke="#2eaeee" stroke-width="3"/></g>
<g transform="translate(557.5 1523.7)" stroke-linejoin="round" stroke-linecap="round"><path d="M0 -129.2C0 -129.2 -5.1 -129.4 -7.5 -129.8C-9.7 -130.2 -11.7 -131.1 -13.8 -131.7C-16.3 -132.3 -18.8 -133.2 -21.3 -133.3C-23 -133.4 -25.2 -133.5 -26.3 -132.3C-27.1 -131.4 -25.1 -129.7 -25.7 -128.5C-26.5 -127 -28.3 -125.7 -30 -125.4C-31.6 -125.2 -33.3 -126.2 -34.4 -127.3C-35.5 -128.4 -36.1 -130.1 -36.3 -131.7C-36.4 -132.8 -35.3 -135 -35.3 -135C-35.3 -135 -38.5 -132.7 -39.4 -131C-40.9 -128.6 -42.5 -122.9 -42.5 -122.9C-42.5 -122.9 -45.7 -125.1 -47.5 -125.4C-50.4 -125.9 -53.5 -126 -56.3 -125.4C-58.5 -125 -60.6 -123.7 -62.5 -122.5C-63.1 -122.2 -63.8 -121 -63.8 -121C-63.8 -121 -60.3 -120.7 -58.8 -119.8C-58 -119.3 -57 -118.1 -57.5 -117.3C-58.6 -115.7 -60.8 -115.1 -62.5 -114.2C-65.5 -112.6 -71.5 -109.5 -71.5 -109.5C-71.5 -109.5 -71.6 -112.3 -71.9 -113.5C-72.3 -114.9 -73.8 -117.3 -73.8 -117.3C-73.8 -117.3 -78.3 -115.2 -80 -113.5C-81.9 -111.8 -83.5 -109.6 -84.4 -107.3C-85.4 -105 -85.7 -99.8 -85.7 -99.8C-85.7 -99.8 -86.6 -104 -86.9 -106C-87.2 -107.9 -87.5 -111.7 -87.5 -111.7C-87.5 -111.7 -89.8 -106.7 -90.7 -104.2C-91.6 -101.5 -92.4 -98.7 -93.2 -96C-93.5 -94.9 -94 -92.5 -94 -92.5L-103.5 -92C-103.5 -92 -102.3 -89.3 -101.9 -87.9C-101.6 -86.5 -101.5 -83.5 -101.5 -83.5M11.8 -80.2L2.5 -80.7L4 -73.3C4 -73.3 -0.1 -76.9 -2.5 -77.9C-5.1 -79 -10.7 -79.8 -10.7 -79.8C-10.7 -79.8 -9.9 -73.9 -9.4 -71C-8.6 -65.7 -6.9 -54.8 -6.9 -54.8C-6.9 -54.8 -10.5 -56.8 -11.9 -58.3C-13.9 -60.4 -15.1 -63.2 -16.9 -65.4C-18.8 -67.7 -20.6 -70.2 -23.2 -71.7C-25 -72.7 -29.4 -72.5 -29.4 -72.5L-26.3 -64.2C-26.3 -64.2 -31.1 -65.2 -33.2 -66.3C-35.2 -67.3 -38.5 -70.4 -38.5 -70.4L-34 -59.5C-34 -59.5 -38.8 -61.2 -41.3 -61.3C-44.2 -61.5 -47.2 -61.1 -50 -60.4C-52.7 -59.8 -57.5 -57.3 -57.5 -57.3M-113.2 -67.9C-113.2 -67.9 -118.6 -67.9 -121.3 -67.5C-123.4 -67.3 -127.5 -66 -127.5 -66C-127.5 -66 -126.4 -61.6 -125 -59.8C-124 -58.4 -120.7 -56.7 -120.7 -56.7C-120.7 -56.7 -124.6 -56.3 -126.3 -55.4C-128.3 -54.3 -130.8 -53 -131.3 -50.8C-131.6 -49.4 -129.4 -48.7 -128.2 -47.9C-127.2 -47.3 -124.8 -46.7 -124.8 -46.7C-124.8 -46.7 -125.3 -43.3 -126.5 -42.5C-128.9 -41.1 -134.8 -40.4 -134.8 -40.4C-134.8 -40.4 -134.6 -36.6 -134 -34.8C-133.1 -31.8 -130.3 -26 -130.3 -26L-140.7 -31.3C-140.7 -31.3 -137.4 -29.9 -136.3 -28.5C-135.2 -27.2 -134.6 -25.3 -134.4 -23.5C-134.2 -20.3 -135 -13.5 -135 -13.5L-140.3 -21.7C-140.3 -21.7 -143 -18.1 -143.8 -16C-144.7 -13.7 -145.4 -11.1 -145.3 -8.5C-145.2 -5.6 -144.6 -2.4 -143.2 0.2C-141.6 3.1 -136.3 7.5 -136.3 7.5L-145.7 11.5C-145.7 11.5 -140.9 12.8 -139.4 14.6C-137.8 16.4 -138.3 19.5 -136.9 21.5C-135.7 23.1 -131.9 25.2 -131.9 25.2C-131.9 25.2 -135.2 28.3 -136.3 30.2C-137.6 32.5 -138.8 37.7 -138.8 37.7C-138.8 37.7 -134.2 35.4 -131.9 35.8C-130.2 36.1 -128.2 39.6 -128.2 39.6C-128.2 39.6 -128 43.7 -126.9 45.2C-126.5 45.8 -125 44 -125 44M-59.4 -53.8L-62.5 -50.4L-57.5 -49.2C-57.5 -49.2 -58.9 -46.8 -60 -46C-61.9 -44.8 -64.1 -44 -66.3 -43.5C-68.9 -43 -74.4 -42.9 -74.4 -42.9L-65 -36C-65 -36 -68.4 -34.7 -70 -34.2C-72.1 -33.5 -76.3 -32.3 -76.3 -32.3L-68.2 -24.8C-68.2 -24.8 -70 -22.5 -71.3 -22.3C-73.7 -21.9 -78.8 -22.9 -78.8 -22.9C-78.8 -22.9 -77.7 -19.5 -76.3 -18.5C-74.2 -17.1 -68.8 -16 -68.8 -16C-68.8 -16 -70.8 -11.5 -72.5 -9.8C-74.3 -8.1 -76.8 -7.3 -78.8 -6C-80.1 -5.3 -82.5 -3.5 -82.5 -3.5M-120 60.8C-120 60.8 -120.4 64 -121.3 65.2C-122.8 67 -126.9 69.6 -126.9 69.6C-126.9 69.6 -122.3 70.5 -120 70.6C-118 70.7 -115.8 70.7 -113.8 70.2C-112.6 69.9 -110.7 68.3 -110.7 68.3C-110.7 68.3 -113 72.8 -113.2 75.2C-113.4 78.5 -112.6 81.9 -111.9 85.2C-111.4 87.8 -109.4 92.7 -109.4 92.7L-102.8 80.8C-102.8 80.8 -103.6 88.9 -102.8 92.7C-102.2 95.6 -100.2 98.2 -98.8 100.8C-98 102.3 -96.3 105.2 -96.3 105.2L-91 91.7C-91 91.7 -88.2 96.8 -87.9 99.6C-87.7 101.9 -88.4 104.4 -89.4 106.5C-90.5 108.4 -94 111.5 -94 111.5C-94 111.5 -88.7 110.1 -86.3 109C-83.5 107.6 -78.2 104 -78.2 104C-78.2 104 -76.8 108.4 -77.8 110.2C-79.1 112.5 -84.4 114.6 -84.4 114.6C-84.4 114.6 -78.2 115.3 -75 115.5C-72.6 115.5 -70 115.6 -67.5 115.2C-66 114.9 -63.2 113.3 -63.2 113.3C-63.2 113.3 -65.1 117.8 -65.7 120.2C-66.2 122.4 -66.3 127.1 -66.3 127.1C-66.3 127.1 -62.4 123.6 -60 122.7C-57.3 121.7 -54.2 121.3 -51.3 121.5C-49.1 121.5 -45 123.3 -45 123.3M-81.3 10.2L-74.8 12.7C-74.8 12.7 -75.9 17.7 -76.5 20.2C-77 22.2 -78.2 26.2 -78.2 26.2L-73.8 22.7C-73.8 22.7 -70.7 28.4 -70.3 31.5C-69.9 34.4 -71.5 40.5 -71.5 40.5L-67.5 27.1C-67.5 27.1 -64.5 34.1 -63.8 37.7C-63.1 41.3 -63.2 49 -63.2 49L-57.5 45.2C-57.5 45.2 -55.8 51.9 -55 55.2C-54.3 58.7 -53.2 65.8 -53.2 65.8L-50 54C-50 54 -49.1 59.1 -48.2 61.5C-47.4 63.5 -45 67.5 -45 67.5M-30 127.7C-30 127.7 -27 132.1 -25 134C-23.2 135.7 -21.1 137.4 -18.8 138.3C-17.1 139 -13.2 138.7 -13.2 138.7L-20 125.8C-20 125.8 -16 128.4 -13.8 129C-10.6 129.8 -7 129.3 -3.8 130.2C-1.1 131 1.5 132.2 3.7 134C5.8 135.6 8.7 140.2 8.7 140.2L5.6 128.7C5.6 128.7 11 129.2 13.7 129.6C15.8 129.9 18.1 129.8 20 130.8C21.6 131.8 23.2 133.4 23.7 135.2C24.3 137.2 23.1 141.5 23.1 141.5C23.1 141.5 27.3 139.4 28.7 137.7C30.5 135.6 31.1 132.6 32.5 130.2C33.3 128.7 33.8 126 35.6 126C37.2 126 38 128.6 38.1 130.2C38.2 132.3 36.2 136.5 36.2 136.5C36.2 136.5 41.7 135.6 43.7 134C46.4 131.7 47.8 128 50 125.2C51.1 123.7 52 121.8 53.7 120.8C55.5 119.8 57.9 119 60 119.6C61.7 120.1 63.7 123.7 63.7 123.7L62.5 116.5C62.5 116.5 63 114.2 63.7 113.3C64.5 112.3 66.8 110.8 66.8 110.8M-35.7 71.7L-33.2 64C-33.2 64 -28.1 66.8 -26.3 69C-23.9 71.7 -20.7 78.3 -20.7 78.3L-18.8 69.6C-18.8 69.6 -15.3 72.8 -13.8 74.6C-12.6 76.1 -10.7 79.6 -10.7 79.6L-5.3 74C-5.3 74 -2.6 75.6 -1.3 76.5C0.2 77.4 3.1 79.6 3.1 79.6C3.1 79.6 5.7 75.9 7.5 74.6C9.3 73.1 11.6 72.2 13.7 71.2C14.6 70.8 16.5 70.2 16.5 70.2C16.5 70.2 16 74.5 16.8 76.5C17.3 77.6 18.8 79.3 20 78.7C22.1 77.6 22.9 74.7 24.3 72.7C25.3 71.4 27.2 68.7 27.2 68.7L28.7 75.6C28.7 75.6 31.7 70.9 33.7 69C35.3 67.4 39.3 65.2 39.3 65.2L36.8 72.1C36.8 72.1 40.4 68.4 42.5 67.1C43.5 66.4 46 66.2 46 66.2M83.7 100.5C83.7 100.5 86.1 103.8 87.5 105.2C88.8 106.6 91.8 109 91.8 109C91.8 109 92.3 103.9 93.1 101.5C94.4 97 98.1 88.3 98.1 88.3C98.1 88.3 97 93 97.5 95.2C98 97.6 101 101.7 101 101.7C101 101.7 104.4 94.5 105.6 90.8C107 86.2 109 76.5 109 76.5C109 76.5 109.2 80.7 109.7 82.7C110.2 84.6 111.8 88.3 111.8 88.3C111.8 88.3 116.1 79.7 117.5 75.2C118.8 70.4 120 60.2 120 60.2C120 60.2 119.9 64.4 120.3 66.5C120.7 68.1 122.5 71.2 122.5 71.2C122.5 71.2 125.4 64.8 126.2 61.5C127 58.2 127.4 54.8 127.5 51.5C127.5 49.2 126.5 44.6 126.5 44.6C126.5 44.6 128.4 48.5 130 50C131.3 51.2 133.1 52.5 135 52.5C136.5 52.5 139 50 139 50C139 50 136.1 46.1 135.2 44C134.1 41.2 133.8 38.1 133.1 35.2C132.4 32.2 131 26.2 131 26.2M50.6 64.6C50.6 64.6 52 60.8 52.7 59C53.2 57.6 54.3 55 54.3 55L55.6 58.3L56.8 47.1C56.8 47.1 57 50.2 57.7 51.5C58.6 53 61.5 55.2 61.5 55.2C61.5 55.2 64.1 46.8 65.6 42.7C67.1 38.5 70.6 30.2 70.6 30.2C70.6 30.2 70.7 34.9 71.2 37.1C71.5 38.5 73.1 41.2 73.1 41.2C73.1 41.2 75.6 33.9 76.5 30.2C77.3 26.5 78.1 18.7 78.1 18.7L80 22.1C80 22.1 81 15.8 81.8 12.7C82.3 11 83.7 7.7 83.7 7.7M133.1 8.3L132.5 5C132.5 5 134.7 8.7 136.2 10.2C137.2 11.3 140 12.7 140 12.7C140 12.7 139.1 8.5 139.6 6.5C140.3 3.4 143 0.8 143.3 -2.3C143.7 -5.3 142.7 -8.5 141.6 -11.3C140.8 -13.4 139.4 -15.6 137.7 -17C136.6 -18 133.5 -18.3 133.5 -18.3C133.5 -18.3 137.9 -18.8 140 -19.5C141.4 -20.1 143.7 -22.3 143.7 -22.3C143.7 -22.3 139.1 -22.7 137.2 -23.8C135.3 -24.9 133.7 -26.7 132.5 -28.5C131.2 -30.4 131 -32.8 130 -34.8C129 -36.8 126.5 -40.4 126.5 -40.4C126.5 -40.4 129.3 -37.2 131.2 -36.3C133.1 -35.4 135.3 -35.2 137.5 -35C138.6 -35 141 -35.8 141 -35.8C141 -35.8 138.9 -41.2 137.5 -43.5C135.3 -47.1 133.2 -51 130 -53.5C127.2 -55.8 120 -57.5 120 -57.5C120 -57.5 124.5 -59.4 126.2 -61C127.7 -62.5 129.3 -66.7 129.3 -66.7C129.3 -66.7 125.5 -66.5 123.7 -66.7C121.2 -66.9 118.6 -67.1 116.2 -67.9C113.6 -68.8 108.7 -71.7 108.7 -71.7M83.7 -7.9C83.7 -7.9 80.8 -11.7 79.3 -13.5C77.7 -15.5 74.3 -19.2 74.3 -19.2C74.3 -19.2 78.1 -19.5 80 -19.8C81.4 -20.1 84.3 -21 84.3 -21C84.3 -21 80 -24.2 78.1 -26C76.5 -27.6 73.7 -31 73.7 -31C73.7 -31 76.7 -31.3 78.1 -31.7C79.5 -32.1 82.2 -33.5 82.2 -33.5C82.2 -33.5 78.1 -33.8 76.2 -34.2C75.1 -34.4 73.1 -35.4 73.1 -35.4M95.2 -89.2C95.2 -89.2 97.3 -92.8 97.5 -94.8C97.6 -96.6 97.2 -98.7 96 -100C94.6 -101.4 92.5 -102 90.6 -102C88.5 -102 84.7 -100 84.7 -100C84.7 -100 85.4 -102.9 85 -104.2C84.2 -106.1 82.7 -107.7 81.2 -109.2C80.4 -110 78.1 -110.8 78.1 -110.8C78.1 -110.8 76.3 -108.2 75 -107.9C73.3 -107.6 71.5 -108.6 70 -109.2C68.2 -109.8 65 -111.7 65 -111.7L71.2 -114.2C71.2 -114.2 67.9 -116.4 66.2 -117.3C63.8 -118.6 61.4 -120.2 58.7 -120.7C55.9 -121.2 50 -120.4 50 -120.4C50 -120.4 51.9 -123.1 53.1 -124.2C54.6 -125.5 58.1 -127.5 58.1 -127.5C58.1 -127.5 51.8 -128.7 48.7 -128.5C45.8 -128.4 42.8 -127.4 40 -126.7C37 -125.9 31.2 -124.2 31.2 -124.2C31.2 -124.2 35.2 -127.5 36.2 -129.8C36.8 -131.3 35.6 -134.5 35.6 -134.5C35.6 -134.5 32.8 -132.3 31.2 -131.7C28.8 -130.7 26.2 -129.9 23.7 -129.5C20.8 -129.1 15 -129.2 15 -129.2M72.5 -42.9L68.7 -45.4C68.7 -45.4 67 -41.3 65.6 -39.8C63.7 -37.8 58.7 -35 58.7 -35C58.7 -35 61.4 -39.7 61.8 -42.3C62.3 -45.2 61.8 -48.2 61.2 -51C60.8 -53 58.7 -56.7 58.7 -56.7C58.7 -56.7 54.5 -56.5 52.5 -56.7C49.7 -56.9 44.3 -57.9 44.3 -57.9C44.3 -57.9 46.9 -59 48.1 -59.8C49.2 -60.6 51.2 -62.5 51.2 -62.5C51.2 -62.5 45.3 -63.7 42.5 -64.2C39.8 -64.6 34.3 -65.4 34.3 -65.4C34.3 -65.4 37.9 -68.1 39.3 -69.8C40.6 -71.3 42.5 -75 42.5 -75C42.5 -75 34.9 -74.1 31.2 -73.5C27.7 -73 20.6 -71.7 20.6 -71.7L23.1 -76M-113.2 -67.9C-113.2 -67.9 -109.6 -67 -108.2 -66C-106.9 -65.2 -105.3 -62.5 -105.3 -62.5M96.2 -97.3C96.2 -97.3 95.3 -94 95.2 -92.3C95.1 -91.1 95.6 -88.5 95.6 -88.5" fill="none" stroke="#000" stroke-width="2.25"/><path d="M15 -129.5C15 -129.5 21.4 -124.4 23.7 -121C26 -117.7 27.6 -113.7 28.7 -109.8C29.7 -106.2 30 -102.3 30 -98.5C30 -94.8 29.8 -90.9 28.7 -87.3C27.7 -83.8 23.7 -77.3 23.7 -77.3M0 -129.2C0 -129.2 7.1 -124.2 10 -121C12.5 -118.2 14.7 -114.6 16.2 -111C17.6 -107.5 18.6 -103.6 18.7 -99.8C18.8 -96.4 17.9 -93 16.8 -89.8C15.6 -86.4 11.8 -80.2 11.8 -80.2M-113.2 -68.3C-113.2 -68.3 -111.6 -73.4 -110 -75.4C-108 -78.1 -105.6 -81 -102.5 -82.3C-98.7 -84 -94.2 -84.3 -90 -84.2C-85.8 -84.1 -81.5 -83.1 -77.5 -81.7C-73.6 -80.2 -69.7 -78 -66.3 -75.4C-63.4 -73.2 -60.7 -70.4 -58.8 -67.3C-57.5 -65.1 -56.9 -62.4 -56.9 -59.8C-57 -57.8 -59 -54.2 -59 -54.2M-112.8 -68C-112.8 -68 -107.9 -71.5 -105 -72.3C-101.5 -73.3 -97.5 -73.8 -93.8 -73.5C-89.6 -73.2 -85.3 -72 -81.3 -70.4C-77.3 -68.9 -73.5 -66.6 -70 -64.2C-67.3 -62.2 -65 -59.6 -62.5 -57.3C-61.4 -56.2 -59.4 -53.8 -59.4 -53.8M-125 44C-125 44 -124.7 42.3 -124.4 41.5C-123.4 38.1 -122.8 34.6 -121.3 31.5C-119.6 27.9 -117.5 24.5 -115 21.5C-112.1 17.8 -108.6 14.4 -105 11.5C-101.2 8.2 -96.7 5.5 -92.5 2.7C-89.3 0.5 -82.5 -3.5 -82.5 -3.5M-119.4 60.8C-119.4 60.8 -118.5 53.6 -117.5 50.2C-116.6 46.8 -114.9 43.5 -113.8 40.2C-113.5 39.3 -115.5 43.5 -115 42.7C-113.3 39.8 -112 36.6 -110 34C-107.5 30.4 -104.5 26.9 -101.3 24C-97.9 20.7 -93.6 18.2 -90 15.2C-87.6 13.1 -82.9 8.3 -82.9 8.3M-45 123.3C-45 123.3 -47.3 119.6 -48.2 117.7C-49.4 114.9 -50.6 111.9 -51.3 109C-52.1 105.7 -52.8 102.3 -52.5 99C-52.3 95.6 -51 92.2 -50 89C-48.9 85.2 -47.2 81.5 -46.3 77.7C-45.5 74.4 -45 67.5 -45 67.5M-30 127.7C-30 127.7 -32.9 126.4 -33.8 125.2C-35.6 123 -37.1 120.4 -38.2 117.7C-39.4 114.5 -40.4 111.1 -40.7 107.7C-41 104 -40.4 100.1 -40 96.5C-39.6 92.3 -38.9 88.1 -38.2 84C-37.5 79.9 -35.7 71.7 -35.7 71.7M66.8 110.8C66.8 110.8 63.8 109.3 62.5 108.3C59.9 106.4 57.2 104.4 55 102.1C52.6 99.6 50.4 96.9 48.7 94C46.9 90.8 45.3 87.4 44.3 84C43.4 80.7 42.8 77.3 43.1 74C43.3 71.3 45.6 66.5 45.6 66.5M83.7 100.5C83.7 100.5 80.3 100.4 78.7 100C76.1 99.3 73.5 98.4 71.2 97.1C68.5 95.5 65.9 93.6 63.7 91.5C61.4 89.2 59.2 86.7 57.5 84C55.5 80.8 53.7 77.4 52.5 74C51.4 71 50.6 64.6 50.6 64.6M130.6 26.5C130.6 26.5 124.3 26.6 121.2 26.5C117.1 26.2 112.8 26 108.7 25.2C104.5 24.4 100.1 23.4 96.2 21.5C92.9 19.8 89.9 17.3 87.5 14.6C85.7 12.7 83.7 7.7 83.7 7.7M133.1 8.3C133.1 8.3 124.3 8.8 120 8.7C115.4 8.6 110.7 8.4 106.2 7.7C102.4 7.1 98.4 6.2 95 4.6C92.1 3.3 89.5 1.2 87.5 -1C85.7 -3 83.7 -7.9 83.7 -7.9M96 -88.5C96 -88.5 101.5 -84.8 103.7 -82.3C105.6 -80.2 107.4 -77.6 108.1 -74.8C108.9 -71.2 109 -67.2 108.1 -63.5C107.1 -59.5 105 -55.6 102.5 -52.3C99.8 -48.8 96 -46.1 92.5 -43.5C89 -41.1 85.1 -38.9 81.2 -37.3C78.7 -36.2 73.1 -35.4 73.1 -35.4M95.6 -88.5C95.6 -88.5 97 -83.6 96.8 -81C96.6 -77.3 95.6 -73.4 94.3 -69.8C92.9 -65.9 91 -62 88.7 -58.5C86.6 -55.4 83.9 -52.4 81.2 -49.8C78.6 -47.3 72.5 -42.9 72.5 -42.9M0 -129.2L15 -129.5M11.8 -80.2L23.7 -77.3M-82.5 -3.5C-82.5 -3.5 -83.4 0.6 -83.2 2.7C-82.9 5.2 -81.3 10.2 -81.3 10.2M-125 44C-125 44 -123.4 49.8 -122.5 52.7C-121.8 55.4 -120 60.8 -120 60.8M-45 67.5L-35.7 71.7M-45 123.3L-30 127.7M45.6 66.5L50.6 64.6M133.1 8.3C133.1 8.3 134.1 14.6 133.7 17.7C133.3 20.7 130.6 26.5 130.6 26.5M83.7 -7.9C83.7 -7.9 83.5 -2.5 83.5 0.2C83.5 2.7 83.7 7.7 83.7 7.7M72.5 -42.9C72.5 -42.9 71.7 -40.4 71.8 -39.2C71.9 -37.9 73.1 -35.4 73.1 -35.4" fill="none" stroke="#000" stroke-width="2.5"/><path d="M66.8 110.8C66.8 110.8 72.5 109.2 75 107.7C78.1 105.8 83.5 100.6 83.5 100.6" fill="none" stroke="#000" stroke-width="3.85"/><path d="M-18.4 -132.2C-18.4 -132.2 -24.6 -136.6 -27.8 -138.5C-31.4 -140.5 -35.2 -142.5 -39 -144.1C-42.7 -145.6 -46.5 -147 -50.3 -147.8C-53.1 -148.5 -56.2 -149.1 -59 -148.7C-61.1 -148.5 -63.3 -147.5 -64.7 -146C-66 -144.5 -66.6 -142.3 -66.5 -140.3C-66.4 -137.3 -65.2 -134.4 -64 -131.6C-62.7 -128.5 -60.6 -125.8 -59 -122.8C-57.3 -119.6 -55.5 -116.3 -54 -112.8C-52.6 -109.2 -51.7 -105.2 -50.3 -101.6C-48.8 -97.8 -47.5 -93.8 -45.3 -90.3C-43.3 -87.1 -40.8 -83.9 -37.8 -81.6C-35.3 -79.7 -32.2 -78.1 -29 -77.8C-26.4 -77.6 -23.5 -78.6 -21.5 -80.3C-19.1 -82.6 -18 -86.1 -16.5 -89.1C-15.1 -92.3 -14 -95.8 -12.8 -99.1C-12.1 -100.9 -10.9 -104.7 -10.9 -104.7ZM2.8 -132.2C2.8 -132.2 5.4 -137.1 7.2 -139.1C9.4 -141.6 12 -144 14.7 -146C17.8 -148.3 21.3 -150.4 24.7 -152.2C27.9 -153.9 31.3 -155.5 34.7 -156.6C37.5 -157.5 40.5 -158.2 43.5 -158.1C46 -158 48.8 -157.3 51 -156C53.1 -154.7 54.8 -152.6 56 -150.3C57.3 -147.7 58 -144.6 58.2 -141.6C58.4 -138.7 58.1 -135.6 57.2 -132.8C56.5 -130.6 55 -128.5 53.5 -126.6C51.6 -124.3 48.9 -122.7 47.2 -120.3C45.6 -118.1 44.1 -115.5 43.5 -112.8C42.8 -110 43.5 -107 43.5 -104.1C43.5 -101.6 44 -99 43.5 -96.6C42.9 -94 42 -91.2 40.3 -89.1C38.6 -86.9 36 -85.2 33.5 -84.1C30.7 -82.9 27.6 -82 24.7 -82.2C21.6 -82.4 18.6 -83.8 16 -85.3C13.3 -86.9 11 -89.2 9.1 -91.6C7.3 -93.8 5.9 -96.5 4.7 -99.1C3.7 -101.3 2.2 -106 2.2 -106Z" fill="#fff" stroke="none"/><path d="M-18.4 -132.2C-18.4 -132.2 -24.6 -136.6 -27.8 -138.5C-31.4 -140.5 -35.2 -142.5 -39 -144.1C-42.7 -145.6 -46.5 -147 -50.3 -147.8C-53.1 -148.5 -56.2 -149.1 -59 -148.7C-61.1 -148.5 -63.3 -147.5 -64.7 -146C-66 -144.5 -66.6 -142.3 -66.5 -140.3C-66.4 -137.3 -65.2 -134.4 -64 -131.6C-62.7 -128.5 -60.6 -125.8 -59 -122.8C-57.3 -119.6 -55.5 -116.3 -54 -112.8C-52.6 -109.2 -51.7 -105.2 -50.3 -101.6C-48.8 -97.8 -47.5 -93.8 -45.3 -90.3C-43.3 -87.1 -40.8 -83.9 -37.8 -81.6C-35.3 -79.7 -32.2 -78.1 -29 -77.8C-26.4 -77.6 -23.5 -78.6 -21.5 -80.3C-19.1 -82.6 -18 -86.1 -16.5 -89.1C-15.1 -92.3 -14 -95.8 -12.8 -99.1C-12.1 -100.9 -10.9 -104.7 -10.9 -104.7M2.8 -132.2C2.8 -132.2 5.4 -137.1 7.2 -139.1C9.4 -141.6 12 -144 14.7 -146C17.8 -148.3 21.3 -150.4 24.7 -152.2C27.9 -153.9 31.3 -155.5 34.7 -156.6C37.5 -157.5 40.5 -158.2 43.5 -158.1C46 -158 48.8 -157.3 51 -156C53.1 -154.7 54.8 -152.6 56 -150.3C57.3 -147.7 58 -144.6 58.2 -141.6C58.4 -138.7 58.1 -135.6 57.2 -132.8C56.5 -130.6 55 -128.5 53.5 -126.6C51.6 -124.3 48.9 -122.7 47.2 -120.3C45.6 -118.1 44.1 -115.5 43.5 -112.8C42.8 -110 43.5 -107 43.5 -104.1C43.5 -101.6 44 -99 43.5 -96.6C42.9 -94 42 -91.2 40.3 -89.1C38.6 -86.9 36 -85.2 33.5 -84.1C30.7 -82.9 27.6 -82 24.7 -82.2C21.6 -82.4 18.6 -83.8 16 -85.3C13.3 -86.9 11 -89.2 9.1 -91.6C7.3 -93.8 5.9 -96.5 4.7 -99.1C3.7 -101.3 2.2 -106 2.2 -106" fill="none" stroke="#2eaeee" stroke-width="3"/><ellipse cx="-8.1" cy="-120.3" rx="11.4" ry="15.0" fill="#fff" stroke="#2eaeee" stroke-width="3"/></g>
<g transform="translate(217.5 1906.6)" stroke-linejoin="round" stroke-linecap="round"><path d="M0 -129.2C0 -129.2 -5.1 -129.4 -7.5 -129.8C-9.7 -130.2 -11.7 -131.1 -13.8 -131.7C-16.3 -132.3 -18.8 -133.2 -21.3 -133.3C-23 -133.4 -25.2 -133.5 -26.3 -132.3C-27.1 -131.4 -25.1 -129.7 -25.7 -128.5C-26.5 -127 -28.3 -125.7 -30 -125.4C-31.6 -125.2 -33.3 -126.2 -34.4 -127.3C-35.5 -128.4 -36.1 -130.1 -36.3 -131.7C-36.4 -132.8 -35.3 -135 -35.3 -135C-35.3 -135 -38.5 -132.7 -39.4 -131C-40.9 -128.6 -42.5 -122.9 -42.5 -122.9C-42.5 -122.9 -45.7 -125.1 -47.5 -125.4C-50.4 -125.9 -53.5 -126 -56.3 -125.4C-58.5 -125 -60.6 -123.7 -62.5 -122.5C-63.1 -122.2 -63.8 -121 -63.8 -121C-63.8 -121 -60.3 -120.7 -58.8 -119.8C-58 -119.3 -57 -118.1 -57.5 -117.3C-58.6 -115.7 -60.8 -115.1 -62.5 -114.2C-65.5 -112.6 -71.5 -109.5 -71.5 -109.5C-71.5 -109.5 -71.6 -112.3 -71.9 -113.5C-72.3 -114.9 -73.8 -117.3 -73.8 -117.3C-73.8 -117.3 -78.3 -115.2 -80 -113.5C-81.9 -111.8 -83.5 -109.6 -84.4 -107.3C-85.4 -105 -85.7 -99.8 -85.7 -99.8C-85.7 -99.8 -86.6 -104 -86.9 -106C-87.2 -107.9 -87.5 -111.7 -87.5 -111.7C-87.5 -111.7 -89.8 -106.7 -90.7 -104.2C-91.6 -101.5 -92.4 -98.7 -93.2 -96C-93.5 -94.9 -94 -92.5 -94 -92.5L-103.5 -92C-103.5 -92 -102.3 -89.3 -101.9 -87.9C-101.6 -86.5 -101.5 -83.5 -101.5 -83.5M11.8 -80.2L2.5 -80.7L4 -73.3C4 -73.3 -0.1 -76.9 -2.5 -77.9C-5.1 -79 -10.7 -79.8 -10.7 -79.8C-10.7 -79.8 -9.9 -73.9 -9.4 -71C-8.6 -65.7 -6.9 -54.8 -6.9 -54.8C-6.9 -54.8 -10.5 -56.8 -11.9 -58.3C-13.9 -60.4 -15.1 -63.2 -16.9 -65.4C-18.8 -67.7 -20.6 -70.2 -23.2 -71.7C-25 -72.7 -29.4 -72.5 -29.4 -72.5L-26.3 -64.2C-26.3 -64.2 -31.1 -65.2 -33.2 -66.3C-35.2 -67.3 -38.5 -70.4 -38.5 -70.4L-34 -59.5C-34 -59.5 -38.8 -61.2 -41.3 -61.3C-44.2 -61.5 -47.2 -61.1 -50 -60.4C-52.7 -59.8 -57.5 -57.3 -57.5 -57.3M-113.2 -67.9C-113.2 -67.9 -118.6 -67.9 -121.3 -67.5C-123.4 -67.3 -127.5 -66 -127.5 -66C-127.5 -66 -126.4 -61.6 -125 -59.8C-124 -58.4 -120.7 -56.7 -120.7 -56.7C-120.7 -56.7 -124.6 -56.3 -126.3 -55.4C-128.3 -54.3 -130.8 -53 -131.3 -50.8C-131.6 -49.4 -129.4 -48.7 -128.2 -47.9C-127.2 -47.3 -124.8 -46.7 -124.8 -46.7C-124.8 -46.7 -125.3 -43.3 -126.5 -42.5C-128.9 -41.1 -134.8 -40.4 -134.8 -40.4C-134.8 -40.4 -134.6 -36.6 -134 -34.8C-133.1 -31.8 -130.3 -26 -130.3 -26L-140.7 -31.3C-140.7 -31.3 -137.4 -29.9 -136.3 -28.5C-135.2 -27.2 -134.6 -25.3 -134.4 -23.5C-134.2 -20.3 -135 -13.5 -135 -13.5L-140.3 -21.7C-140.3 -21.7 -143 -18.1 -143.8 -16C-144.7 -13.7 -145.4 -11.1 -145.3 -8.5C-145.2 -5.6 -144.6 -2.4 -143.2 0.2C-141.6 3.1 -136.3 7.5 -136.3 7.5L-145.7 11.5C-145.7 11.5 -140.9 12.8 -139.4 14.6C-137.8 16.4 -138.3 19.5 -136.9 21.5C-135.7 23.1 -131.9 25.2 -131.9 25.2C-131.9 25.2 -135.2 28.3 -136.3 30.2C-137.6 32.5 -138.8 37.7 -138.8 37.7C-138.8 37.7 -134.2 35.4 -131.9 35.8C-130.2 36.1 -128.2 39.6 -128.2 39.6C-128.2 39.6 -128 43.7 -126.9 45.2C-126.5 45.8 -125 44 -125 44M-59.4 -53.8L-62.5 -50.4L-57.5 -49.2C-57.5 -49.2 -58.9 -46.8 -60 -46C-61.9 -44.8 -64.1 -44 -66.3 -43.5C-68.9 -43 -74.4 -42.9 -74.4 -42.9L-65 -36C-65 -36 -68.4 -34.7 -70 -34.2C-72.1 -33.5 -76.3 -32.3 -76.3 -32.3L-68.2 -24.8C-68.2 -24.8 -70 -22.5 -71.3 -22.3C-73.7 -21.9 -78.8 -22.9 -78.8 -22.9C-78.8 -22.9 -77.7 -19.5 -76.3 -18.5C-74.2 -17.1 -68.8 -16 -68.8 -16C-68.8 -16 -70.8 -11.5 -72.5 -9.8C-74.3 -8.1 -76.8 -7.3 -78.8 -6C-80.1 -5.3 -82.5 -3.5 -82.5 -3.5M-120 60.8C-120 60.8 -120.4 64 -121.3 65.2C-122.8 67 -126.9 69.6 -126.9 69.6C-126.9 69.6 -122.3 70.5 -120 70.6C-118 70.7 -115.8 70.7 -113.8 70.2C-112.6 69.9 -110.7 68.3 -110.7 68.3C-110.7 68.3 -113 72.8 -113.2 75.2C-113.4 78.5 -112.6 81.9 -111.9 85.2C-111.4 87.8 -109.4 92.7 -109.4 92.7L-102.8 80.8C-102.8 80.8 -103.6 88.9 -102.8 92.7C-102.2 95.6 -100.2 98.2 -98.8 100.8C-98 102.3 -96.3 105.2 -96.3 105.2L-91 91.7C-91 91.7 -88.2 96.8 -87.9 99.6C-87.7 101.9 -88.4 104.4 -89.4 106.5C-90.5 108.4 -94 111.5 -94 111.5C-94 111.5 -88.7 110.1 -86.3 109C-83.5 107.6 -78.2 104 -78.2 104C-78.2 104 -76.8 108.4 -77.8 110.2C-79.1 112.5 -84.4 114.6 -84.4 114.6C-84.4 114.6 -78.2 115.3 -75 115.5C-72.6 115.5 -70 115.6 -67.5 115.2C-66 114.9 -63.2 113.3 -63.2 113.3C-63.2 113.3 -65.1 117.8 -65.7 120.2C-66.2 122.4 -66.3 127.1 -66.3 127.1C-66.3 127.1 -62.4 123.6 -60 122.7C-57.3 121.7 -54.2 121.3 -51.3 121.5C-49.1 121.5 -45 123.3 -45 123.3M-81.3 10.2L-74.8 12.7C-74.8 12.7 -75.9 17.7 -76.5 20.2C-77 22.2 -78.2 26.2 -78.2 26.2L-73.8 22.7C-73.8 22.7 -70.7 28.4 -70.3 31.5C-69.9 34.4 -71.5 40.5 -71.5 40.5L-67.5 27.1C-67.5 27.1 -64.5 34.1 -63.8 37.7C-63.1 41.3 -63.2 49 -63.2 49L-57.5 45.2C-57.5 45.2 -55.8 51.9 -55 55.2C-54.3 58.7 -53.2 65.8 -53.2 65.8L-50 54C-50 54 -49.1 59.1 -48.2 61.5C-47.4 63.5 -45 67.5 -45 67.5M-30 127.7C-30 127.7 -27 132.1 -25 134C-23.2 135.7 -21.1 137.4 -18.8 138.3C-17.1 139 -13.2 138.7 -13.2 138.7L-20 125.8C-20 125.8 -16 128.4 -13.8 129C-10.6 129.8 -7 129.3 -3.8 130.2C-1.1 131 1.5 132.2 3.7 134C5.8 135.6 8.7 140.2 8.7 140.2L5.6 128.7C5.6 128.7 11 129.2 13.7 129.6C15.8 129.9 18.1 129.8 20 130.8C21.6 131.8 23.2 133.4 23.7 135.2C24.3 137.2 23.1 141.5 23.1 141.5C23.1 141.5 27.3 139.4 28.7 137.7C30.5 135.6 31.1 132.6 32.5 130.2C33.3 128.7 33.8 126 35.6 126C37.2 126 38 128.6 38.1 130.2C38.2 132.3 36.2 136.5 36.2 136.5C36.2 136.5 41.7 135.6 43.7 134C46.4 131.7 47.8 128 50 125.2C51.1 123.7 52 121.8 53.7 120.8C55.5 119.8 57.9 119 60 119.6C61.7 120.1 63.7 123.7 63.7 123.7L62.5 116.5C62.5 116.5 63 114.2 63.7 113.3C64.5 112.3 66.8 110.8 66.8 110.8M-35.7 71.7L-33.2 64C-33.2 64 -28.1 66.8 -26.3 69C-23.9 71.7 -20.7 78.3 -20.7 78.3L-18.8 69.6C-18.8 69.6 -15.3 72.8 -13.8 74.6C-12.6 76.1 -10.7 79.6 -10.7 79.6L-5.3 74C-5.3 74 -2.6 75.6 -1.3 76.5C0.2 77.4 3.1 79.6 3.1 79.6C3.1 79.6 5.7 75.9 7.5 74.6C9.3 73.1 11.6 72.2 13.7 71.2C14.6 70.8 16.5 70.2 16.5 70.2C16.5 70.2 16 74.5 16.8 76.5C17.3 77.6 18.8 79.3 20 78.7C22.1 77.6 22.9 74.7 24.3 72.7C25.3 71.4 27.2 68.7 27.2 68.7L28.7 75.6C28.7 75.6 31.7 70.9 33.7 69C35.3 67.4 39.3 65.2 39.3 65.2L36.8 72.1C36.8 72.1 40.4 68.4 42.5 67.1C43.5 66.4 46 66.2 46 66.2M83.7 100.5C83.7 100.5 86.1 103.8 87.5 105.2C88.8 106.6 91.8 109 91.8 109C91.8 109 92.3 103.9 93.1 101.5C94.4 97 98.1 88.3 98.1 88.3C98.1 88.3 97 93 97.5 95.2C98 97.6 101 101.7 101 101.7C101 101.7 104.4 94.5 105.6 90.8C107 86.2 109 76.5 109 76.5C109 76.5 109.2 80.7 109.7 82.7C110.2 84.6 111.8 88.3 111.8 88.3C111.8 88.3 116.1 79.7 117.5 75.2C118.8 70.4 120 60.2 120 60.2C120 60.2 119.9 64.4 120.3 66.5C120.7 68.1 122.5 71.2 122.5 71.2C122.5 71.2 125.4 64.8 126.2 61.5C127 58.2 127.4 54.8 127.5 51.5C127.5 49.2 126.5 44.6 126.5 44.6C126.5 44.6 128.4 48.5 130 50C131.3 51.2 133.1 52.5 135 52.5C136.5 52.5 139 50 139 50C139 50 136.1 46.1 135.2 44C134.1 41.2 133.8 38.1 133.1 35.2C132.4 32.2 131 26.2 131 26.2M50.6 64.6C50.6 64.6 52 60.8 52.7 59C53.2 57.6 54.3 55 54.3 55L55.6 58.3L56.8 47.1C56.8 47.1 57 50.2 57.7 51.5C58.6 53 61.5 55.2 61.5 55.2C61.5 55.2 64.1 46.8 65.6 42.7C67.1 38.5 70.6 30.2 70.6 30.2C70.6 30.2 70.7 34.9 71.2 37.1C71.5 38.5 73.1 41.2 73.1 41.2C73.1 41.2 75.6 33.9 76.5 30.2C77.3 26.5 78.1 18.7 78.1 18.7L80 22.1C80 22.1 81 15.8 81.8 12.7C82.3 11 83.7 7.7 83.7 7.7M133.1 8.3L132.5 5C132.5 5 134.7 8.7 136.2 10.2C137.2 11.3 140 12.7 140 12.7C140 12.7 139.1 8.5 139.6 6.5C140.3 3.4 143 0.8 143.3 -2.3C143.7 -5.3 142.7 -8.5 141.6 -11.3C140.8 -13.4 139.4 -15.6 137.7 -17C136.6 -18 133.5 -18.3 133.5 -18.3C133.5 -18.3 137.9 -18.8 140 -19.5C141.4 -20.1 143.7 -22.3 143.7 -22.3C143.7 -22.3 139.1 -22.7 137.2 -23.8C135.3 -24.9 133.7 -26.7 132.5 -28.5C131.2 -30.4 131 -32.8 130 -34.8C129 -36.8 126.5 -40.4 126.5 -40.4C126.5 -40.4 129.3 -37.2 131.2 -36.3C133.1 -35.4 135.3 -35.2 137.5 -35C138.6 -35 141 -35.8 141 -35.8C141 -35.8 138.9 -41.2 137.5 -43.5C135.3 -47.1 133.2 -51 130 -53.5C127.2 -55.8 120 -57.5 120 -57.5C120 -57.5 124.5 -59.4 126.2 -61C127.7 -62.5 129.3 -66.7 129.3 -66.7C129.3 -66.7 125.5 -66.5 123.7 -66.7C121.2 -66.9 118.6 -67.1 116.2 -67.9C113.6 -68.8 108.7 -71.7 108.7 -71.7M83.7 -7.9C83.7 -7.9 80.8 -11.7 79.3 -13.5C77.7 -15.5 74.3 -19.2 74.3 -19.2C74.3 -19.2 78.1 -19.5 80 -19.8C81.4 -20.1 84.3 -21 84.3 -21C84.3 -21 80 -24.2 78.1 -26C76.5 -27.6 73.7 -31 73.7 -31C73.7 -31 76.7 -31.3 78.1 -31.7C79.5 -32.1 82.2 -33.5 82.2 -33.5C82.2 -33.5 78.1 -33.8 76.2 -34.2C75.1 -34.4 73.1 -35.4 73.1 -35.4M95.2 -89.2C95.2 -89.2 97.3 -92.8 97.5 -94.8C97.6 -96.6 97.2 -98.7 96 -100C94.6 -101.4 92.5 -102 90.6 -102C88.5 -102 84.7 -100 84.7 -100C84.7 -100 85.4 -102.9 85 -104.2C84.2 -106.1 82.7 -107.7 81.2 -109.2C80.4 -110 78.1 -110.8 78.1 -110.8C78.1 -110.8 76.3 -108.2 75 -107.9C73.3 -107.6 71.5 -108.6 70 -109.2C68.2 -109.8 65 -111.7 65 -111.7L71.2 -114.2C71.2 -114.2 67.9 -116.4 66.2 -117.3C63.8 -118.6 61.4 -120.2 58.7 -120.7C55.9 -121.2 50 -120.4 50 -120.4C50 -120.4 51.9 -123.1 53.1 -124.2C54.6 -125.5 58.1 -127.5 58.1 -127.5C58.1 -127.5 51.8 -128.7 48.7 -128.5C45.8 -128.4 42.8 -127.4 40 -126.7C37 -125.9 31.2 -124.2 31.2 -124.2C31.2 -124.2 35.2 -127.5 36.2 -129.8C36.8 -131.3 35.6 -134.5 35.6 -134.5C35.6 -134.5 32.8 -132.3 31.2 -131.7C28.8 -130.7 26.2 -129.9 23.7 -129.5C20.8 -129.1 15 -129.2 15 -129.2M72.5 -42.9L68.7 -45.4C68.7 -45.4 67 -41.3 65.6 -39.8C63.7 -37.8 58.7 -35 58.7 -35C58.7 -35 61.4 -39.7 61.8 -42.3C62.3 -45.2 61.8 -48.2 61.2 -51C60.8 -53 58.7 -56.7 58.7 -56.7C58.7 -56.7 54.5 -56.5 52.5 -56.7C49.7 -56.9 44.3 -57.9 44.3 -57.9C44.3 -57.9 46.9 -59 48.1 -59.8C49.2 -60.6 51.2 -62.5 51.2 -62.5C51.2 -62.5 45.3 -63.7 42.5 -64.2C39.8 -64.6 34.3 -65.4 34.3 -65.4C34.3 -65.4 37.9 -68.1 39.3 -69.8C40.6 -71.3 42.5 -75 42.5 -75C42.5 -75 34.9 -74.1 31.2 -73.5C27.7 -73 20.6 -71.7 20.6 -71.7L23.1 -76M-113.2 -67.9C-113.2 -67.9 -109.6 -67 -108.2 -66C-106.9 -65.2 -105.3 -62.5 -105.3 -62.5M96.2 -97.3C96.2 -97.3 95.3 -94 95.2 -92.3C95.1 -91.1 95.6 -88.5 95.6 -88.5" fill="none" stroke="#000" stroke-width="2.25"/><path d="M15 -129.5C15 -129.5 21.4 -124.4 23.7 -121C26 -117.7 27.6 -113.7 28.7 -109.8C29.7 -106.2 30 -102.3 30 -98.5C30 -94.8 29.8 -90.9 28.7 -87.3C27.7 -83.8 23.7 -77.3 23.7 -77.3M0 -129.2C0 -129.2 7.1 -124.2 10 -121C12.5 -118.2 14.7 -114.6 16.2 -111C17.6 -107.5 18.6 -103.6 18.7 -99.8C18.8 -96.4 17.9 -93 16.8 -89.8C15.6 -86.4 11.8 -80.2 11.8 -80.2M-113.2 -68.3C-113.2 -68.3 -111.6 -73.4 -110 -75.4C-108 -78.1 -105.6 -81 -102.5 -82.3C-98.7 -84 -94.2 -84.3 -90 -84.2C-85.8 -84.1 -81.5 -83.1 -77.5 -81.7C-73.6 -80.2 -69.7 -78 -66.3 -75.4C-63.4 -73.2 -60.7 -70.4 -58.8 -67.3C-57.5 -65.1 -56.9 -62.4 -56.9 -59.8C-57 -57.8 -59 -54.2 -59 -54.2M-112.8 -68C-112.8 -68 -107.9 -71.5 -105 -72.3C-101.5 -73.3 -97.5 -73.8 -93.8 -73.5C-89.6 -73.2 -85.3 -72 -81.3 -70.4C-77.3 -68.9 -73.5 -66.6 -70 -64.2C-67.3 -62.2 -65 -59.6 -62.5 -57.3C-61.4 -56.2 -59.4 -53.8 -59.4 -53.8M-125 44C-125 44 -124.7 42.3 -124.4 41.5C-123.4 38.1 -122.8 34.6 -121.3 31.5C-119.6 27.9 -117.5 24.5 -115 21.5C-112.1 17.8 -108.6 14.4 -105 11.5C-101.2 8.2 -96.7 5.5 -92.5 2.7C-89.3 0.5 -82.5 -3.5 -82.5 -3.5M-119.4 60.8C-119.4 60.8 -118.5 53.6 -117.5 50.2C-116.6 46.8 -114.9 43.5 -113.8 40.2C-113.5 39.3 -115.5 43.5 -115 42.7C-113.3 39.8 -112 36.6 -110 34C-107.5 30.4 -104.5 26.9 -101.3 24C-97.9 20.7 -93.6 18.2 -90 15.2C-87.6 13.1 -82.9 8.3 -82.9 8.3M-45 123.3C-45 123.3 -47.3 119.6 -48.2 117.7C-49.4 114.9 -50.6 111.9 -51.3 109C-52.1 105.7 -52.8 102.3 -52.5 99C-52.3 95.6 -51 92.2 -50 89C-48.9 85.2 -47.2 81.5 -46.3 77.7C-45.5 74.4 -45 67.5 -45 67.5M-30 127.7C-30 127.7 -32.9 126.4 -33.8 125.2C-35.6 123 -37.1 120.4 -38.2 117.7C-39.4 114.5 -40.4 111.1 -40.7 107.7C-41 104 -40.4 100.1 -40 96.5C-39.6 92.3 -38.9 88.1 -38.2 84C-37.5 79.9 -35.7 71.7 -35.7 71.7M66.8 110.8C66.8 110.8 63.8 109.3 62.5 108.3C59.9 106.4 57.2 104.4 55 102.1C52.6 99.6 50.4 96.9 48.7 94C46.9 90.8 45.3 87.4 44.3 84C43.4 80.7 42.8 77.3 43.1 74C43.3 71.3 45.6 66.5 45.6 66.5M83.7 100.5C83.7 100.5 80.3 100.4 78.7 100C76.1 99.3 73.5 98.4 71.2 97.1C68.5 95.5 65.9 93.6 63.7 91.5C61.4 89.2 59.2 86.7 57.5 84C55.5 80.8 53.7 77.4 52.5 74C51.4 71 50.6 64.6 50.6 64.6M130.6 26.5C130.6 26.5 124.3 26.6 121.2 26.5C117.1 26.2 112.8 26 108.7 25.2C104.5 24.4 100.1 23.4 96.2 21.5C92.9 19.8 89.9 17.3 87.5 14.6C85.7 12.7 83.7 7.7 83.7 7.7M133.1 8.3C133.1 8.3 124.3 8.8 120 8.7C115.4 8.6 110.7 8.4 106.2 7.7C102.4 7.1 98.4 6.2 95 4.6C92.1 3.3 89.5 1.2 87.5 -1C85.7 -3 83.7 -7.9 83.7 -7.9M96 -88.5C96 -88.5 101.5 -84.8 103.7 -82.3C105.6 -80.2 107.4 -77.6 108.1 -74.8C108.9 -71.2 109 -67.2 108.1 -63.5C107.1 -59.5 105 -55.6 102.5 -52.3C99.8 -48.8 96 -46.1 92.5 -43.5C89 -41.1 85.1 -38.9 81.2 -37.3C78.7 -36.2 73.1 -35.4 73.1 -35.4M95.6 -88.5C95.6 -88.5 97 -83.6 96.8 -81C96.6 -77.3 95.6 -73.4 94.3 -69.8C92.9 -65.9 91 -62 88.7 -58.5C86.6 -55.4 83.9 -52.4 81.2 -49.8C78.6 -47.3 72.5 -42.9 72.5 -42.9M0 -129.2L15 -129.5M11.8 -80.2L23.7 -77.3M-82.5 -3.5C-82.5 -3.5 -83.4 0.6 -83.2 2.7C-82.9 5.2 -81.3 10.2 -81.3 10.2M-125 44C-125 44 -123.4 49.8 -122.5 52.7C-121.8 55.4 -120 60.8 -120 60.8M-45 67.5L-35.7 71.7M-45 123.3L-30 127.7M45.6 66.5L50.6 64.6M133.1 8.3C133.1 8.3 134.1 14.6 133.7 17.7C133.3 20.7 130.6 26.5 130.6 26.5M83.7 -7.9C83.7 -7.9 83.5 -2.5 83.5 0.2C83.5 2.7 83.7 7.7 83.7 7.7M72.5 -42.9C72.5 -42.9 71.7 -40.4 71.8 -39.2C71.9 -37.9 73.1 -35.4 73.1 -35.4" fill="none" stroke="#000" stroke-width="2.5"/><path d="M66.8 110.8C66.8 110.8 72.5 109.2 75 107.7C78.1 105.8 83.5 100.6 83.5 100.6" fill="none" stroke="#000" stroke-width="3.85"/><g transform="translate(64.4 -84.3)" fill="#fff" stroke="#2eaeee" stroke-width="1.9"><g transform="rotate(-22)"><circle cx="0" cy="-17" r="1.5" fill="#fff"/><path d="M-4.2 -12.3L-3.3 -15.2Q0 -16.6 3.3 -15.2L4.2 -12.3Z" fill="#fff"/></g><circle r="13.2"/></g><g transform="translate(109.5 -19.6)" fill="#fff" stroke="#2eaeee" stroke-width="1.9"><g transform="rotate(22)"><circle cx="0" cy="-17" r="1.5" fill="#fff"/><path d="M-4.2 -12.3L-3.3 -15.2Q0 -16.6 3.3 -15.2L4.2 -12.3Z" fill="#fff"/></g><circle r="13.2"/></g><g transform="translate(89 65.9)" fill="#fff" stroke="#2eaeee" stroke-width="1.9"><g transform="rotate(-26)"><circle cx="0" cy="-17" r="1.5" fill="#fff"/><path d="M-4.2 -12.3L-3.3 -15.2Q0 -16.6 3.3 -15.2L4.2 -12.3Z" fill="#fff"/></g><circle r="13.2"/></g><g transform="translate(6.5 105.9)" fill="#fff" stroke="#2eaeee" stroke-width="1.9"><g transform="rotate(50)"><circle cx="0" cy="-17" r="1.5" fill="#fff"/><path d="M-4.2 -12.3L-3.3 -15.2Q0 -16.6 3.3 -15.2L4.2 -12.3Z" fill="#fff"/></g><circle r="13.2"/></g><g transform="translate(-77 74.6)" fill="#fff" stroke="#2eaeee" stroke-width="1.9"><g transform="rotate(-18)"><circle cx="0" cy="-17" r="1.5" fill="#fff"/><path d="M-4.2 -12.3L-3.3 -15.2Q0 -16.6 3.3 -15.2L4.2 -12.3Z" fill="#fff"/></g><circle r="13.2"/></g><g transform="translate(-108 -17.9)" fill="#fff" stroke="#2eaeee" stroke-width="1.9"><g transform="rotate(6)"><circle cx="0" cy="-17" r="1.5" fill="#fff"/><path d="M-4.2 -12.3L-3.3 -15.2Q0 -16.6 3.3 -15.2L4.2 -12.3Z" fill="#fff"/></g><circle r="13.2"/></g><path d="M-9.7 -105.6C-9.7 -105.6 -13.2 -95.6 -14.7 -90.6C-15.9 -86.5 -17 -82.3 -17.8 -78.1C-18.7 -73.6 -19.3 -68.9 -19.7 -64.3C-20.1 -59.8 -20.4 -55.1 -20.3 -50.6C-20.2 -46.5 -19.7 -42.2 -19 -38.1C-18.7 -35.8 -17.2 -31.2 -17.2 -31.2C-17.2 -31.2 -11.6 -32.1 -9 -33.1C-6.8 -34 -4.7 -35.4 -2.8 -36.8C-1.3 -37.9 1.2 -40.6 1.2 -40.6M-7.8 -104.3C-7.8 -104.3 -4.6 -95.2 -3.4 -90.6C-2.1 -85.7 -1.1 -80.6 -0.3 -75.6C0.5 -70.7 1.1 -65.6 1.6 -60.6C1.9 -56.5 2.2 -52.2 2.2 -48.1C2.2 -44 1.6 -35.6 1.6 -35.6M1.6 -35.6C1.6 -35.6 2.3 -32.8 3.5 -32.1C4.7 -31.3 6.4 -31.3 7.8 -31.6C8.9 -31.9 10.6 -33.7 10.6 -33.7C10.6 -33.7 12.3 -31 13.5 -30C14.5 -29.1 15.8 -28 17.2 -28.1C18.9 -28.2 20.6 -29.3 21.6 -30.6C23.2 -32.7 24.2 -35.5 24.7 -38.1C25.3 -41.3 25 -44.8 24.7 -48.1C24.4 -52.3 23.6 -56.5 22.8 -60.6C22 -64.8 20.9 -69 19.7 -73.1C18.6 -76.7 17.6 -80.4 16 -83.7C13.5 -88.7 10 -93.3 7.2 -98.1C5.9 -100.3 3.5 -105 3.5 -105" fill="none" stroke="#2eaeee" stroke-width="2.8"/><path d="M-18.4 -132.2C-18.4 -132.2 -24.6 -136.6 -27.8 -138.5C-31.4 -140.5 -35.2 -142.5 -39 -144.1C-42.7 -145.6 -46.5 -147 -50.3 -147.8C-53.1 -148.5 -56.2 -149.1 -59 -148.7C-61.1 -148.5 -63.3 -147.5 -64.7 -146C-66 -144.5 -66.6 -142.3 -66.5 -140.3C-66.4 -137.3 -65.2 -134.4 -64 -131.6C-62.7 -128.5 -60.6 -125.8 -59 -122.8C-57.3 -119.6 -55.5 -116.3 -54 -112.8C-52.6 -109.2 -51.7 -105.2 -50.3 -101.6C-48.8 -97.8 -47.5 -93.8 -45.3 -90.3C-43.3 -87.1 -40.8 -83.9 -37.8 -81.6C-35.3 -79.7 -32.2 -78.1 -29 -77.8C-26.4 -77.6 -23.5 -78.6 -21.5 -80.3C-19.1 -82.6 -18 -86.1 -16.5 -89.1C-15.1 -92.3 -14 -95.8 -12.8 -99.1C-12.1 -100.9 -10.9 -104.7 -10.9 -104.7ZM2.8 -132.2C2.8 -132.2 5.4 -137.1 7.2 -139.1C9.4 -141.6 12 -144 14.7 -146C17.8 -148.3 21.3 -150.4 24.7 -152.2C27.9 -153.9 31.3 -155.5 34.7 -156.6C37.5 -157.5 40.5 -158.2 43.5 -158.1C46 -158 48.8 -157.3 51 -156C53.1 -154.7 54.8 -152.6 56 -150.3C57.3 -147.7 58 -144.6 58.2 -141.6C58.4 -138.7 58.1 -135.6 57.2 -132.8C56.5 -130.6 55 -128.5 53.5 -126.6C51.6 -124.3 48.9 -122.7 47.2 -120.3C45.6 -118.1 44.1 -115.5 43.5 -112.8C42.8 -110 43.5 -107 43.5 -104.1C43.5 -101.6 44 -99 43.5 -96.6C42.9 -94 42 -91.2 40.3 -89.1C38.6 -86.9 36 -85.2 33.5 -84.1C30.7 -82.9 27.6 -82 24.7 -82.2C21.6 -82.4 18.6 -83.8 16 -85.3C13.3 -86.9 11 -89.2 9.1 -91.6C7.3 -93.8 5.9 -96.5 4.7 -99.1C3.7 -101.3 2.2 -106 2.2 -106Z" fill="#fff" stroke="none"/><path d="M-18.4 -132.2C-18.4 -132.2 -24.6 -136.6 -27.8 -138.5C-31.4 -140.5 -35.2 -142.5 -39 -144.1C-42.7 -145.6 -46.5 -147 -50.3 -147.8C-53.1 -148.5 -56.2 -149.1 -59 -148.7C-61.1 -148.5 -63.3 -147.5 -64.7 -146C-66 -144.5 -66.6 -142.3 -66.5 -140.3C-66.4 -137.3 -65.2 -134.4 -64 -131.6C-62.7 -128.5 -60.6 -125.8 -59 -122.8C-57.3 -119.6 -55.5 -116.3 -54 -112.8C-52.6 -109.2 -51.7 -105.2 -50.3 -101.6C-48.8 -97.8 -47.5 -93.8 -45.3 -90.3C-43.3 -87.1 -40.8 -83.9 -37.8 -81.6C-35.3 -79.7 -32.2 -78.1 -29 -77.8C-26.4 -77.6 -23.5 -78.6 -21.5 -80.3C-19.1 -82.6 -18 -86.1 -16.5 -89.1C-15.1 -92.3 -14 -95.8 -12.8 -99.1C-12.1 -100.9 -10.9 -104.7 -10.9 -104.7M2.8 -132.2C2.8 -132.2 5.4 -137.1 7.2 -139.1C9.4 -141.6 12 -144 14.7 -146C17.8 -148.3 21.3 -150.4 24.7 -152.2C27.9 -153.9 31.3 -155.5 34.7 -156.6C37.5 -157.5 40.5 -158.2 43.5 -158.1C46 -158 48.8 -157.3 51 -156C53.1 -154.7 54.8 -152.6 56 -150.3C57.3 -147.7 58 -144.6 58.2 -141.6C58.4 -138.7 58.1 -135.6 57.2 -132.8C56.5 -130.6 55 -128.5 53.5 -126.6C51.6 -124.3 48.9 -122.7 47.2 -120.3C45.6 -118.1 44.1 -115.5 43.5 -112.8C42.8 -110 43.5 -107 43.5 -104.1C43.5 -101.6 44 -99 43.5 -96.6C42.9 -94 42 -91.2 40.3 -89.1C38.6 -86.9 36 -85.2 33.5 -84.1C30.7 -82.9 27.6 -82 24.7 -82.2C21.6 -82.4 18.6 -83.8 16 -85.3C13.3 -86.9 11 -89.2 9.1 -91.6C7.3 -93.8 5.9 -96.5 4.7 -99.1C3.7 -101.3 2.2 -106 2.2 -106" fill="none" stroke="#000" stroke-width="3.4"/><ellipse cx="-8.1" cy="-120.3" rx="11.4" ry="15.0" fill="#fff" stroke="#000" stroke-width="3.4"/></g>
<g transform="translate(557.5 1906.6)" stroke-linejoin="round" stroke-linecap="round"><path d="M0 -129.2C0 -129.2 -5.1 -129.4 -7.5 -129.8C-9.7 -130.2 -11.7 -131.1 -13.8 -131.7C-16.3 -132.3 -18.8 -133.2 -21.3 -133.3C-23 -133.4 -25.2 -133.5 -26.3 -132.3C-27.1 -131.4 -25.1 -129.7 -25.7 -128.5C-26.5 -127 -28.3 -125.7 -30 -125.4C-31.6 -125.2 -33.3 -126.2 -34.4 -127.3C-35.5 -128.4 -36.1 -130.1 -36.3 -131.7C-36.4 -132.8 -35.3 -135 -35.3 -135C-35.3 -135 -38.5 -132.7 -39.4 -131C-40.9 -128.6 -42.5 -122.9 -42.5 -122.9C-42.5 -122.9 -45.7 -125.1 -47.5 -125.4C-50.4 -125.9 -53.5 -126 -56.3 -125.4C-58.5 -125 -60.6 -123.7 -62.5 -122.5C-63.1 -122.2 -63.8 -121 -63.8 -121C-63.8 -121 -60.3 -120.7 -58.8 -119.8C-58 -119.3 -57 -118.1 -57.5 -117.3C-58.6 -115.7 -60.8 -115.1 -62.5 -114.2C-65.5 -112.6 -71.5 -109.5 -71.5 -109.5C-71.5 -109.5 -71.6 -112.3 -71.9 -113.5C-72.3 -114.9 -73.8 -117.3 -73.8 -117.3C-73.8 -117.3 -78.3 -115.2 -80 -113.5C-81.9 -111.8 -83.5 -109.6 -84.4 -107.3C-85.4 -105 -85.7 -99.8 -85.7 -99.8C-85.7 -99.8 -86.6 -104 -86.9 -106C-87.2 -107.9 -87.5 -111.7 -87.5 -111.7C-87.5 -111.7 -89.8 -106.7 -90.7 -104.2C-91.6 -101.5 -92.4 -98.7 -93.2 -96C-93.5 -94.9 -94 -92.5 -94 -92.5L-103.5 -92C-103.5 -92 -102.3 -89.3 -101.9 -87.9C-101.6 -86.5 -101.5 -83.5 -101.5 -83.5M11.8 -80.2L2.5 -80.7L4 -73.3C4 -73.3 -0.1 -76.9 -2.5 -77.9C-5.1 -79 -10.7 -79.8 -10.7 -79.8C-10.7 -79.8 -9.9 -73.9 -9.4 -71C-8.6 -65.7 -6.9 -54.8 -6.9 -54.8C-6.9 -54.8 -10.5 -56.8 -11.9 -58.3C-13.9 -60.4 -15.1 -63.2 -16.9 -65.4C-18.8 -67.7 -20.6 -70.2 -23.2 -71.7C-25 -72.7 -29.4 -72.5 -29.4 -72.5L-26.3 -64.2C-26.3 -64.2 -31.1 -65.2 -33.2 -66.3C-35.2 -67.3 -38.5 -70.4 -38.5 -70.4L-34 -59.5C-34 -59.5 -38.8 -61.2 -41.3 -61.3C-44.2 -61.5 -47.2 -61.1 -50 -60.4C-52.7 -59.8 -57.5 -57.3 -57.5 -57.3M-113.2 -67.9C-113.2 -67.9 -118.6 -67.9 -121.3 -67.5C-123.4 -67.3 -127.5 -66 -127.5 -66C-127.5 -66 -126.4 -61.6 -125 -59.8C-124 -58.4 -120.7 -56.7 -120.7 -56.7C-120.7 -56.7 -124.6 -56.3 -126.3 -55.4C-128.3 -54.3 -130.8 -53 -131.3 -50.8C-131.6 -49.4 -129.4 -48.7 -128.2 -47.9C-127.2 -47.3 -124.8 -46.7 -124.8 -46.7C-124.8 -46.7 -125.3 -43.3 -126.5 -42.5C-128.9 -41.1 -134.8 -40.4 -134.8 -40.4C-134.8 -40.4 -134.6 -36.6 -134 -34.8C-133.1 -31.8 -130.3 -26 -130.3 -26L-140.7 -31.3C-140.7 -31.3 -137.4 -29.9 -136.3 -28.5C-135.2 -27.2 -134.6 -25.3 -134.4 -23.5C-134.2 -20.3 -135 -13.5 -135 -13.5L-140.3 -21.7C-140.3 -21.7 -143 -18.1 -143.8 -16C-144.7 -13.7 -145.4 -11.1 -145.3 -8.5C-145.2 -5.6 -144.6 -2.4 -143.2 0.2C-141.6 3.1 -136.3 7.5 -136.3 7.5L-145.7 11.5C-145.7 11.5 -140.9 12.8 -139.4 14.6C-137.8 16.4 -138.3 19.5 -136.9 21.5C-135.7 23.1 -131.9 25.2 -131.9 25.2C-131.9 25.2 -135.2 28.3 -136.3 30.2C-137.6 32.5 -138.8 37.7 -138.8 37.7C-138.8 37.7 -134.2 35.4 -131.9 35.8C-130.2 36.1 -128.2 39.6 -128.2 39.6C-128.2 39.6 -128 43.7 -126.9 45.2C-126.5 45.8 -125 44 -125 44M-59.4 -53.8L-62.5 -50.4L-57.5 -49.2C-57.5 -49.2 -58.9 -46.8 -60 -46C-61.9 -44.8 -64.1 -44 -66.3 -43.5C-68.9 -43 -74.4 -42.9 -74.4 -42.9L-65 -36C-65 -36 -68.4 -34.7 -70 -34.2C-72.1 -33.5 -76.3 -32.3 -76.3 -32.3L-68.2 -24.8C-68.2 -24.8 -70 -22.5 -71.3 -22.3C-73.7 -21.9 -78.8 -22.9 -78.8 -22.9C-78.8 -22.9 -77.7 -19.5 -76.3 -18.5C-74.2 -17.1 -68.8 -16 -68.8 -16C-68.8 -16 -70.8 -11.5 -72.5 -9.8C-74.3 -8.1 -76.8 -7.3 -78.8 -6C-80.1 -5.3 -82.5 -3.5 -82.5 -3.5M-120 60.8C-120 60.8 -120.4 64 -121.3 65.2C-122.8 67 -126.9 69.6 -126.9 69.6C-126.9 69.6 -122.3 70.5 -120 70.6C-118 70.7 -115.8 70.7 -113.8 70.2C-112.6 69.9 -110.7 68.3 -110.7 68.3C-110.7 68.3 -113 72.8 -113.2 75.2C-113.4 78.5 -112.6 81.9 -111.9 85.2C-111.4 87.8 -109.4 92.7 -109.4 92.7L-102.8 80.8C-102.8 80.8 -103.6 88.9 -102.8 92.7C-102.2 95.6 -100.2 98.2 -98.8 100.8C-98 102.3 -96.3 105.2 -96.3 105.2L-91 91.7C-91 91.7 -88.2 96.8 -87.9 99.6C-87.7 101.9 -88.4 104.4 -89.4 106.5C-90.5 108.4 -94 111.5 -94 111.5C-94 111.5 -88.7 110.1 -86.3 109C-83.5 107.6 -78.2 104 -78.2 104C-78.2 104 -76.8 108.4 -77.8 110.2C-79.1 112.5 -84.4 114.6 -84.4 114.6C-84.4 114.6 -78.2 115.3 -75 115.5C-72.6 115.5 -70 115.6 -67.5 115.2C-66 114.9 -63.2 113.3 -63.2 113.3C-63.2 113.3 -65.1 117.8 -65.7 120.2C-66.2 122.4 -66.3 127.1 -66.3 127.1C-66.3 127.1 -62.4 123.6 -60 122.7C-57.3 121.7 -54.2 121.3 -51.3 121.5C-49.1 121.5 -45 123.3 -45 123.3M-81.3 10.2L-74.8 12.7C-74.8 12.7 -75.9 17.7 -76.5 20.2C-77 22.2 -78.2 26.2 -78.2 26.2L-73.8 22.7C-73.8 22.7 -70.7 28.4 -70.3 31.5C-69.9 34.4 -71.5 40.5 -71.5 40.5L-67.5 27.1C-67.5 27.1 -64.5 34.1 -63.8 37.7C-63.1 41.3 -63.2 49 -63.2 49L-57.5 45.2C-57.5 45.2 -55.8 51.9 -55 55.2C-54.3 58.7 -53.2 65.8 -53.2 65.8L-50 54C-50 54 -49.1 59.1 -48.2 61.5C-47.4 63.5 -45 67.5 -45 67.5M-30 127.7C-30 127.7 -27 132.1 -25 134C-23.2 135.7 -21.1 137.4 -18.8 138.3C-17.1 139 -13.2 138.7 -13.2 138.7L-20 125.8C-20 125.8 -16 128.4 -13.8 129C-10.6 129.8 -7 129.3 -3.8 130.2C-1.1 131 1.5 132.2 3.7 134C5.8 135.6 8.7 140.2 8.7 140.2L5.6 128.7C5.6 128.7 11 129.2 13.7 129.6C15.8 129.9 18.1 129.8 20 130.8C21.6 131.8 23.2 133.4 23.7 135.2C24.3 137.2 23.1 141.5 23.1 141.5C23.1 141.5 27.3 139.4 28.7 137.7C30.5 135.6 31.1 132.6 32.5 130.2C33.3 128.7 33.8 126 35.6 126C37.2 126 38 128.6 38.1 130.2C38.2 132.3 36.2 136.5 36.2 136.5C36.2 136.5 41.7 135.6 43.7 134C46.4 131.7 47.8 128 50 125.2C51.1 123.7 52 121.8 53.7 120.8C55.5 119.8 57.9 119 60 119.6C61.7 120.1 63.7 123.7 63.7 123.7L62.5 116.5C62.5 116.5 63 114.2 63.7 113.3C64.5 112.3 66.8 110.8 66.8 110.8M-35.7 71.7L-33.2 64C-33.2 64 -28.1 66.8 -26.3 69C-23.9 71.7 -20.7 78.3 -20.7 78.3L-18.8 69.6C-18.8 69.6 -15.3 72.8 -13.8 74.6C-12.6 76.1 -10.7 79.6 -10.7 79.6L-5.3 74C-5.3 74 -2.6 75.6 -1.3 76.5C0.2 77.4 3.1 79.6 3.1 79.6C3.1 79.6 5.7 75.9 7.5 74.6C9.3 73.1 11.6 72.2 13.7 71.2C14.6 70.8 16.5 70.2 16.5 70.2C16.5 70.2 16 74.5 16.8 76.5C17.3 77.6 18.8 79.3 20 78.7C22.1 77.6 22.9 74.7 24.3 72.7C25.3 71.4 27.2 68.7 27.2 68.7L28.7 75.6C28.7 75.6 31.7 70.9 33.7 69C35.3 67.4 39.3 65.2 39.3 65.2L36.8 72.1C36.8 72.1 40.4 68.4 42.5 67.1C43.5 66.4 46 66.2 46 66.2M83.7 100.5C83.7 100.5 86.1 103.8 87.5 105.2C88.8 106.6 91.8 109 91.8 109C91.8 109 92.3 103.9 93.1 101.5C94.4 97 98.1 88.3 98.1 88.3C98.1 88.3 97 93 97.5 95.2C98 97.6 101 101.7 101 101.7C101 101.7 104.4 94.5 105.6 90.8C107 86.2 109 76.5 109 76.5C109 76.5 109.2 80.7 109.7 82.7C110.2 84.6 111.8 88.3 111.8 88.3C111.8 88.3 116.1 79.7 117.5 75.2C118.8 70.4 120 60.2 120 60.2C120 60.2 119.9 64.4 120.3 66.5C120.7 68.1 122.5 71.2 122.5 71.2C122.5 71.2 125.4 64.8 126.2 61.5C127 58.2 127.4 54.8 127.5 51.5C127.5 49.2 126.5 44.6 126.5 44.6C126.5 44.6 128.4 48.5 130 50C131.3 51.2 133.1 52.5 135 52.5C136.5 52.5 139 50 139 50C139 50 136.1 46.1 135.2 44C134.1 41.2 133.8 38.1 133.1 35.2C132.4 32.2 131 26.2 131 26.2M50.6 64.6C50.6 64.6 52 60.8 52.7 59C53.2 57.6 54.3 55 54.3 55L55.6 58.3L56.8 47.1C56.8 47.1 57 50.2 57.7 51.5C58.6 53 61.5 55.2 61.5 55.2C61.5 55.2 64.1 46.8 65.6 42.7C67.1 38.5 70.6 30.2 70.6 30.2C70.6 30.2 70.7 34.9 71.2 37.1C71.5 38.5 73.1 41.2 73.1 41.2C73.1 41.2 75.6 33.9 76.5 30.2C77.3 26.5 78.1 18.7 78.1 18.7L80 22.1C80 22.1 81 15.8 81.8 12.7C82.3 11 83.7 7.7 83.7 7.7M133.1 8.3L132.5 5C132.5 5 134.7 8.7 136.2 10.2C137.2 11.3 140 12.7 140 12.7C140 12.7 139.1 8.5 139.6 6.5C140.3 3.4 143 0.8 143.3 -2.3C143.7 -5.3 142.7 -8.5 141.6 -11.3C140.8 -13.4 139.4 -15.6 137.7 -17C136.6 -18 133.5 -18.3 133.5 -18.3C133.5 -18.3 137.9 -18.8 140 -19.5C141.4 -20.1 143.7 -22.3 143.7 -22.3C143.7 -22.3 139.1 -22.7 137.2 -23.8C135.3 -24.9 133.7 -26.7 132.5 -28.5C131.2 -30.4 131 -32.8 130 -34.8C129 -36.8 126.5 -40.4 126.5 -40.4C126.5 -40.4 129.3 -37.2 131.2 -36.3C133.1 -35.4 135.3 -35.2 137.5 -35C138.6 -35 141 -35.8 141 -35.8C141 -35.8 138.9 -41.2 137.5 -43.5C135.3 -47.1 133.2 -51 130 -53.5C127.2 -55.8 120 -57.5 120 -57.5C120 -57.5 124.5 -59.4 126.2 -61C127.7 -62.5 129.3 -66.7 129.3 -66.7C129.3 -66.7 125.5 -66.5 123.7 -66.7C121.2 -66.9 118.6 -67.1 116.2 -67.9C113.6 -68.8 108.7 -71.7 108.7 -71.7M83.7 -7.9C83.7 -7.9 80.8 -11.7 79.3 -13.5C77.7 -15.5 74.3 -19.2 74.3 -19.2C74.3 -19.2 78.1 -19.5 80 -19.8C81.4 -20.1 84.3 -21 84.3 -21C84.3 -21 80 -24.2 78.1 -26C76.5 -27.6 73.7 -31 73.7 -31C73.7 -31 76.7 -31.3 78.1 -31.7C79.5 -32.1 82.2 -33.5 82.2 -33.5C82.2 -33.5 78.1 -33.8 76.2 -34.2C75.1 -34.4 73.1 -35.4 73.1 -35.4M95.2 -89.2C95.2 -89.2 97.3 -92.8 97.5 -94.8C97.6 -96.6 97.2 -98.7 96 -100C94.6 -101.4 92.5 -102 90.6 -102C88.5 -102 84.7 -100 84.7 -100C84.7 -100 85.4 -102.9 85 -104.2C84.2 -106.1 82.7 -107.7 81.2 -109.2C80.4 -110 78.1 -110.8 78.1 -110.8C78.1 -110.8 76.3 -108.2 75 -107.9C73.3 -107.6 71.5 -108.6 70 -109.2C68.2 -109.8 65 -111.7 65 -111.7L71.2 -114.2C71.2 -114.2 67.9 -116.4 66.2 -117.3C63.8 -118.6 61.4 -120.2 58.7 -120.7C55.9 -121.2 50 -120.4 50 -120.4C50 -120.4 51.9 -123.1 53.1 -124.2C54.6 -125.5 58.1 -127.5 58.1 -127.5C58.1 -127.5 51.8 -128.7 48.7 -128.5C45.8 -128.4 42.8 -127.4 40 -126.7C37 -125.9 31.2 -124.2 31.2 -124.2C31.2 -124.2 35.2 -127.5 36.2 -129.8C36.8 -131.3 35.6 -134.5 35.6 -134.5C35.6 -134.5 32.8 -132.3 31.2 -131.7C28.8 -130.7 26.2 -129.9 23.7 -129.5C20.8 -129.1 15 -129.2 15 -129.2M72.5 -42.9L68.7 -45.4C68.7 -45.4 67 -41.3 65.6 -39.8C63.7 -37.8 58.7 -35 58.7 -35C58.7 -35 61.4 -39.7 61.8 -42.3C62.3 -45.2 61.8 -48.2 61.2 -51C60.8 -53 58.7 -56.7 58.7 -56.7C58.7 -56.7 54.5 -56.5 52.5 -56.7C49.7 -56.9 44.3 -57.9 44.3 -57.9C44.3 -57.9 46.9 -59 48.1 -59.8C49.2 -60.6 51.2 -62.5 51.2 -62.5C51.2 -62.5 45.3 -63.7 42.5 -64.2C39.8 -64.6 34.3 -65.4 34.3 -65.4C34.3 -65.4 37.9 -68.1 39.3 -69.8C40.6 -71.3 42.5 -75 42.5 -75C42.5 -75 34.9 -74.1 31.2 -73.5C27.7 -73 20.6 -71.7 20.6 -71.7L23.1 -76M-113.2 -67.9C-113.2 -67.9 -109.6 -67 -108.2 -66C-106.9 -65.2 -105.3 -62.5 -105.3 -62.5M96.2 -97.3C96.2 -97.3 95.3 -94 95.2 -92.3C95.1 -91.1 95.6 -88.5 95.6 -88.5" fill="none" stroke="#000" stroke-width="2.25"/><path d="M15 -129.5C15 -129.5 21.4 -124.4 23.7 -121C26 -117.7 27.6 -113.7 28.7 -109.8C29.7 -106.2 30 -102.3 30 -98.5C30 -94.8 29.8 -90.9 28.7 -87.3C27.7 -83.8 23.7 -77.3 23.7 -77.3M0 -129.2C0 -129.2 7.1 -124.2 10 -121C12.5 -118.2 14.7 -114.6 16.2 -111C17.6 -107.5 18.6 -103.6 18.7 -99.8C18.8 -96.4 17.9 -93 16.8 -89.8C15.6 -86.4 11.8 -80.2 11.8 -80.2M-113.2 -68.3C-113.2 -68.3 -111.6 -73.4 -110 -75.4C-108 -78.1 -105.6 -81 -102.5 -82.3C-98.7 -84 -94.2 -84.3 -90 -84.2C-85.8 -84.1 -81.5 -83.1 -77.5 -81.7C-73.6 -80.2 -69.7 -78 -66.3 -75.4C-63.4 -73.2 -60.7 -70.4 -58.8 -67.3C-57.5 -65.1 -56.9 -62.4 -56.9 -59.8C-57 -57.8 -59 -54.2 -59 -54.2M-112.8 -68C-112.8 -68 -107.9 -71.5 -105 -72.3C-101.5 -73.3 -97.5 -73.8 -93.8 -73.5C-89.6 -73.2 -85.3 -72 -81.3 -70.4C-77.3 -68.9 -73.5 -66.6 -70 -64.2C-67.3 -62.2 -65 -59.6 -62.5 -57.3C-61.4 -56.2 -59.4 -53.8 -59.4 -53.8M-125 44C-125 44 -124.7 42.3 -124.4 41.5C-123.4 38.1 -122.8 34.6 -121.3 31.5C-119.6 27.9 -117.5 24.5 -115 21.5C-112.1 17.8 -108.6 14.4 -105 11.5C-101.2 8.2 -96.7 5.5 -92.5 2.7C-89.3 0.5 -82.5 -3.5 -82.5 -3.5M-119.4 60.8C-119.4 60.8 -118.5 53.6 -117.5 50.2C-116.6 46.8 -114.9 43.5 -113.8 40.2C-113.5 39.3 -115.5 43.5 -115 42.7C-113.3 39.8 -112 36.6 -110 34C-107.5 30.4 -104.5 26.9 -101.3 24C-97.9 20.7 -93.6 18.2 -90 15.2C-87.6 13.1 -82.9 8.3 -82.9 8.3M-45 123.3C-45 123.3 -47.3 119.6 -48.2 117.7C-49.4 114.9 -50.6 111.9 -51.3 109C-52.1 105.7 -52.8 102.3 -52.5 99C-52.3 95.6 -51 92.2 -50 89C-48.9 85.2 -47.2 81.5 -46.3 77.7C-45.5 74.4 -45 67.5 -45 67.5M-30 127.7C-30 127.7 -32.9 126.4 -33.8 125.2C-35.6 123 -37.1 120.4 -38.2 117.7C-39.4 114.5 -40.4 111.1 -40.7 107.7C-41 104 -40.4 100.1 -40 96.5C-39.6 92.3 -38.9 88.1 -38.2 84C-37.5 79.9 -35.7 71.7 -35.7 71.7M66.8 110.8C66.8 110.8 63.8 109.3 62.5 108.3C59.9 106.4 57.2 104.4 55 102.1C52.6 99.6 50.4 96.9 48.7 94C46.9 90.8 45.3 87.4 44.3 84C43.4 80.7 42.8 77.3 43.1 74C43.3 71.3 45.6 66.5 45.6 66.5M83.7 100.5C83.7 100.5 80.3 100.4 78.7 100C76.1 99.3 73.5 98.4 71.2 97.1C68.5 95.5 65.9 93.6 63.7 91.5C61.4 89.2 59.2 86.7 57.5 84C55.5 80.8 53.7 77.4 52.5 74C51.4 71 50.6 64.6 50.6 64.6M130.6 26.5C130.6 26.5 124.3 26.6 121.2 26.5C117.1 26.2 112.8 26 108.7 25.2C104.5 24.4 100.1 23.4 96.2 21.5C92.9 19.8 89.9 17.3 87.5 14.6C85.7 12.7 83.7 7.7 83.7 7.7M133.1 8.3C133.1 8.3 124.3 8.8 120 8.7C115.4 8.6 110.7 8.4 106.2 7.7C102.4 7.1 98.4 6.2 95 4.6C92.1 3.3 89.5 1.2 87.5 -1C85.7 -3 83.7 -7.9 83.7 -7.9M96 -88.5C96 -88.5 101.5 -84.8 103.7 -82.3C105.6 -80.2 107.4 -77.6 108.1 -74.8C108.9 -71.2 109 -67.2 108.1 -63.5C107.1 -59.5 105 -55.6 102.5 -52.3C99.8 -48.8 96 -46.1 92.5 -43.5C89 -41.1 85.1 -38.9 81.2 -37.3C78.7 -36.2 73.1 -35.4 73.1 -35.4M95.6 -88.5C95.6 -88.5 97 -83.6 96.8 -81C96.6 -77.3 95.6 -73.4 94.3 -69.8C92.9 -65.9 91 -62 88.7 -58.5C86.6 -55.4 83.9 -52.4 81.2 -49.8C78.6 -47.3 72.5 -42.9 72.5 -42.9M0 -129.2L15 -129.5M11.8 -80.2L23.7 -77.3M-82.5 -3.5C-82.5 -3.5 -83.4 0.6 -83.2 2.7C-82.9 5.2 -81.3 10.2 -81.3 10.2M-125 44C-125 44 -123.4 49.8 -122.5 52.7C-121.8 55.4 -120 60.8 -120 60.8M-45 67.5L-35.7 71.7M-45 123.3L-30 127.7M45.6 66.5L50.6 64.6M133.1 8.3C133.1 8.3 134.1 14.6 133.7 17.7C133.3 20.7 130.6 26.5 130.6 26.5M83.7 -7.9C83.7 -7.9 83.5 -2.5 83.5 0.2C83.5 2.7 83.7 7.7 83.7 7.7M72.5 -42.9C72.5 -42.9 71.7 -40.4 71.8 -39.2C71.9 -37.9 73.1 -35.4 73.1 -35.4" fill="none" stroke="#000" stroke-width="2.5"/><path d="M66.8 110.8C66.8 110.8 72.5 109.2 75 107.7C78.1 105.8 83.5 100.6 83.5 100.6" fill="none" stroke="#000" stroke-width="3.85"/><g transform="translate(64.4 -84.3)" fill="#fff" stroke="#000" stroke-width="1.8"><g transform="rotate(-22)"><circle cx="0" cy="-17" r="1.5" fill="#fff"/><path d="M-4.2 -12.3L-3.3 -15.2Q0 -16.6 3.3 -15.2L4.2 -12.3Z" fill="#fff"/></g><circle r="13.2"/></g><g transform="translate(109.5 -19.6)" fill="#fff" stroke="#000" stroke-width="1.8"><g transform="rotate(22)"><circle cx="0" cy="-17" r="1.5" fill="#fff"/><path d="M-4.2 -12.3L-3.3 -15.2Q0 -16.6 3.3 -15.2L4.2 -12.3Z" fill="#fff"/></g><circle r="13.2"/></g><g transform="translate(89 65.9)" fill="#fff" stroke="#000" stroke-width="1.8"><g transform="rotate(-26)"><circle cx="0" cy="-17" r="1.5" fill="#fff"/><path d="M-4.2 -12.3L-3.3 -15.2Q0 -16.6 3.3 -15.2L4.2 -12.3Z" fill="#fff"/></g><circle r="13.2"/></g><g transform="translate(6.5 105.9)" fill="#fff" stroke="#000" stroke-width="1.8"><g transform="rotate(50)"><circle cx="0" cy="-17" r="1.5" fill="#fff"/><path d="M-4.2 -12.3L-3.3 -15.2Q0 -16.6 3.3 -15.2L4.2 -12.3Z" fill="#fff"/></g><circle r="13.2"/></g><g transform="translate(-77 74.6)" fill="#fff" stroke="#000" stroke-width="1.8"><g transform="rotate(-18)"><circle cx="0" cy="-17" r="1.5" fill="#fff"/><path d="M-4.2 -12.3L-3.3 -15.2Q0 -16.6 3.3 -15.2L4.2 -12.3Z" fill="#fff"/></g><circle r="13.2"/></g><g transform="translate(-108 -17.9)" fill="#fff" stroke="#000" stroke-width="1.8"><g transform="rotate(6)"><circle cx="0" cy="-17" r="1.5" fill="#fff"/><path d="M-4.2 -12.3L-3.3 -15.2Q0 -16.6 3.3 -15.2L4.2 -12.3Z" fill="#fff"/></g><circle r="13.2"/></g><circle cx="-70" cy="-101.1" r="4.5" fill="#fff" stroke="#2eaeee" stroke-width="1.8"/><circle cx="-49.5" cy="-78.3" r="4.5" fill="#fff" stroke="#2eaeee" stroke-width="1.8"/><circle cx="-101.3" cy="-55.8" r="4.5" fill="#fff" stroke="#2eaeee" stroke-width="1.8"/><circle cx="-119.5" cy="10.4" r="4.5" fill="#fff" stroke="#2eaeee" stroke-width="1.8"/><circle cx="-96.8" cy="48.4" r="4.5" fill="#fff" stroke="#2eaeee" stroke-width="1.8"/><circle cx="-63.8" cy="100.2" r="4.5" fill="#fff" stroke="#2eaeee" stroke-width="1.8"/><circle cx="-28.3" cy="107.2" r="4.5" fill="#fff" stroke="#2eaeee" stroke-width="1.8"/><circle cx="36" cy="83.4" r="4.5" fill="#fff" stroke="#2eaeee" stroke-width="1.8"/><circle cx="38.9" cy="115.9" r="4.5" fill="#fff" stroke="#2eaeee" stroke-width="1.8"/><circle cx="79.5" cy="89.2" r="4.5" fill="#fff" stroke="#2eaeee" stroke-width="1.8"/><circle cx="97" cy="35.4" r="4.5" fill="#fff" stroke="#2eaeee" stroke-width="1.8"/><circle cx="121.5" cy="1.4" r="4.5" fill="#fff" stroke="#2eaeee" stroke-width="1.8"/><circle cx="113.2" cy="-53" r="4.5" fill="#fff" stroke="#2eaeee" stroke-width="1.8"/><circle cx="69.8" cy="-57.1" r="4.5" fill="#fff" stroke="#2eaeee" stroke-width="1.8"/><path d="M-9.7 -105.6C-9.7 -105.6 -13.2 -95.6 -14.7 -90.6C-15.9 -86.5 -17 -82.3 -17.8 -78.1C-18.7 -73.6 -19.3 -68.9 -19.7 -64.3C-20.1 -59.8 -20.4 -55.1 -20.3 -50.6C-20.2 -46.5 -19.7 -42.2 -19 -38.1C-18.7 -35.8 -17.2 -31.2 -17.2 -31.2C-17.2 -31.2 -11.6 -32.1 -9 -33.1C-6.8 -34 -4.7 -35.4 -2.8 -36.8C-1.3 -37.9 1.2 -40.6 1.2 -40.6C1.2 -40.6 1.7 -34.4 3.5 -32.1C4.3 -30.9 6.4 -31.3 7.8 -31.6C8.9 -31.9 10.6 -33.7 10.6 -33.7C10.6 -33.7 12.3 -31 13.5 -30C14.5 -29.1 15.8 -28 17.2 -28.1C18.9 -28.2 20.6 -29.3 21.6 -30.6C23.2 -32.7 24.2 -35.5 24.7 -38.1C25.3 -41.3 25 -44.8 24.7 -48.1C24.4 -52.3 23.6 -56.5 22.8 -60.6C22 -64.8 20.9 -69 19.7 -73.1C18.6 -76.7 17.6 -80.4 16 -83.7C13.5 -88.7 10 -93.3 7.2 -98.1C5.9 -100.3 3.5 -105 3.5 -105Z" fill="#fff" stroke="none"/><path d="M-9.7 -105.6C-9.7 -105.6 -13.2 -95.6 -14.7 -90.6C-15.9 -86.5 -17 -82.3 -17.8 -78.1C-18.7 -73.6 -19.3 -68.9 -19.7 -64.3C-20.1 -59.8 -20.4 -55.1 -20.3 -50.6C-20.2 -46.5 -19.7 -42.2 -19 -38.1C-18.7 -35.8 -17.2 -31.2 -17.2 -31.2C-17.2 -31.2 -11.6 -32.1 -9 -33.1C-6.8 -34 -4.7 -35.4 -2.8 -36.8C-1.3 -37.9 1.2 -40.6 1.2 -40.6M-7.8 -104.3C-7.8 -104.3 -4.6 -95.2 -3.4 -90.6C-2.1 -85.7 -1.1 -80.6 -0.3 -75.6C0.5 -70.7 1.1 -65.6 1.6 -60.6C1.9 -56.5 2.2 -52.2 2.2 -48.1C2.2 -44 1.6 -35.6 1.6 -35.6M1.6 -35.6C1.6 -35.6 2.3 -32.8 3.5 -32.1C4.7 -31.3 6.4 -31.3 7.8 -31.6C8.9 -31.9 10.6 -33.7 10.6 -33.7C10.6 -33.7 12.3 -31 13.5 -30C14.5 -29.1 15.8 -28 17.2 -28.1C18.9 -28.2 20.6 -29.3 21.6 -30.6C23.2 -32.7 24.2 -35.5 24.7 -38.1C25.3 -41.3 25 -44.8 24.7 -48.1C24.4 -52.3 23.6 -56.5 22.8 -60.6C22 -64.8 20.9 -69 19.7 -73.1C18.6 -76.7 17.6 -80.4 16 -83.7C13.5 -88.7 10 -93.3 7.2 -98.1C5.9 -100.3 3.5 -105 3.5 -105" fill="none" stroke="#000" stroke-width="3"/><path d="M-18.4 -132.2C-18.4 -132.2 -24.6 -136.6 -27.8 -138.5C-31.4 -140.5 -35.2 -142.5 -39 -144.1C-42.7 -145.6 -46.5 -147 -50.3 -147.8C-53.1 -148.5 -56.2 -149.1 -59 -148.7C-61.1 -148.5 -63.3 -147.5 -64.7 -146C-66 -144.5 -66.6 -142.3 -66.5 -140.3C-66.4 -137.3 -65.2 -134.4 -64 -131.6C-62.7 -128.5 -60.6 -125.8 -59 -122.8C-57.3 -119.6 -55.5 -116.3 -54 -112.8C-52.6 -109.2 -51.7 -105.2 -50.3 -101.6C-48.8 -97.8 -47.5 -93.8 -45.3 -90.3C-43.3 -87.1 -40.8 -83.9 -37.8 -81.6C-35.3 -79.7 -32.2 -78.1 -29 -77.8C-26.4 -77.6 -23.5 -78.6 -21.5 -80.3C-19.1 -82.6 -18 -86.1 -16.5 -89.1C-15.1 -92.3 -14 -95.8 -12.8 -99.1C-12.1 -100.9 -10.9 -104.7 -10.9 -104.7ZM2.8 -132.2C2.8 -132.2 5.4 -137.1 7.2 -139.1C9.4 -141.6 12 -144 14.7 -146C17.8 -148.3 21.3 -150.4 24.7 -152.2C27.9 -153.9 31.3 -155.5 34.7 -156.6C37.5 -157.5 40.5 -158.2 43.5 -158.1C46 -158 48.8 -157.3 51 -156C53.1 -154.7 54.8 -152.6 56 -150.3C57.3 -147.7 58 -144.6 58.2 -141.6C58.4 -138.7 58.1 -135.6 57.2 -132.8C56.5 -130.6 55 -128.5 53.5 -126.6C51.6 -124.3 48.9 -122.7 47.2 -120.3C45.6 -118.1 44.1 -115.5 43.5 -112.8C42.8 -110 43.5 -107 43.5 -104.1C43.5 -101.6 44 -99 43.5 -96.6C42.9 -94 42 -91.2 40.3 -89.1C38.6 -86.9 36 -85.2 33.5 -84.1C30.7 -82.9 27.6 -82 24.7 -82.2C21.6 -82.4 18.6 -83.8 16 -85.3C13.3 -86.9 11 -89.2 9.1 -91.6C7.3 -93.8 5.9 -96.5 4.7 -99.1C3.7 -101.3 2.2 -106 2.2 -106Z" fill="#fff" stroke="none"/><path d="M-18.4 -132.2C-18.4 -132.2 -24.6 -136.6 -27.8 -138.5C-31.4 -140.5 -35.2 -142.5 -39 -144.1C-42.7 -145.6 -46.5 -147 -50.3 -147.8C-53.1 -148.5 -56.2 -149.1 -59 -148.7C-61.1 -148.5 -63.3 -147.5 -64.7 -146C-66 -144.5 -66.6 -142.3 -66.5 -140.3C-66.4 -137.3 -65.2 -134.4 -64 -131.6C-62.7 -128.5 -60.6 -125.8 -59 -122.8C-57.3 -119.6 -55.5 -116.3 -54 -112.8C-52.6 -109.2 -51.7 -105.2 -50.3 -101.6C-48.8 -97.8 -47.5 -93.8 -45.3 -90.3C-43.3 -87.1 -40.8 -83.9 -37.8 -81.6C-35.3 -79.7 -32.2 -78.1 -29 -77.8C-26.4 -77.6 -23.5 -78.6 -21.5 -80.3C-19.1 -82.6 -18 -86.1 -16.5 -89.1C-15.1 -92.3 -14 -95.8 -12.8 -99.1C-12.1 -100.9 -10.9 -104.7 -10.9 -104.7M2.8 -132.2C2.8 -132.2 5.4 -137.1 7.2 -139.1C9.4 -141.6 12 -144 14.7 -146C17.8 -148.3 21.3 -150.4 24.7 -152.2C27.9 -153.9 31.3 -155.5 34.7 -156.6C37.5 -157.5 40.5 -158.2 43.5 -158.1C46 -158 48.8 -157.3 51 -156C53.1 -154.7 54.8 -152.6 56 -150.3C57.3 -147.7 58 -144.6 58.2 -141.6C58.4 -138.7 58.1 -135.6 57.2 -132.8C56.5 -130.6 55 -128.5 53.5 -126.6C51.6 -124.3 48.9 -122.7 47.2 -120.3C45.6 -118.1 44.1 -115.5 43.5 -112.8C42.8 -110 43.5 -107 43.5 -104.1C43.5 -101.6 44 -99 43.5 -96.6C42.9 -94 42 -91.2 40.3 -89.1C38.6 -86.9 36 -85.2 33.5 -84.1C30.7 -82.9 27.6 -82 24.7 -82.2C21.6 -82.4 18.6 -83.8 16 -85.3C13.3 -86.9 11 -89.2 9.1 -91.6C7.3 -93.8 5.9 -96.5 4.7 -99.1C3.7 -101.3 2.2 -106 2.2 -106" fill="none" stroke="#000" stroke-width="3.4"/><ellipse cx="-8.1" cy="-120.3" rx="11.4" ry="15.0" fill="#fff" stroke="#000" stroke-width="3.4"/></g>
<g transform="translate(202.3 215.3) scale(1.146)" stroke-linejoin="round" stroke-linecap="round"><path d="M0 -129.2C0 -129.2 -5.1 -129.4 -7.5 -129.8C-9.7 -130.2 -11.7 -131.1 -13.8 -131.7C-16.3 -132.3 -18.8 -133.2 -21.3 -133.3C-23 -133.4 -25.2 -133.5 -26.3 -132.3C-27.1 -131.4 -25.1 -129.7 -25.7 -128.5C-26.5 -127 -28.3 -125.7 -30 -125.4C-31.6 -125.2 -33.3 -126.2 -34.4 -127.3C-35.5 -128.4 -36.1 -130.1 -36.3 -131.7C-36.4 -132.8 -35.3 -135 -35.3 -135C-35.3 -135 -38.5 -132.7 -39.4 -131C-40.9 -128.6 -42.5 -122.9 -42.5 -122.9C-42.5 -122.9 -45.7 -125.1 -47.5 -125.4C-50.4 -125.9 -53.5 -126 -56.3 -125.4C-58.5 -125 -60.6 -123.7 -62.5 -122.5C-63.1 -122.2 -63.8 -121 -63.8 -121C-63.8 -121 -60.3 -120.7 -58.8 -119.8C-58 -119.3 -57 -118.1 -57.5 -117.3C-58.6 -115.7 -60.8 -115.1 -62.5 -114.2C-65.5 -112.6 -71.5 -109.5 -71.5 -109.5C-71.5 -109.5 -71.6 -112.3 -71.9 -113.5C-72.3 -114.9 -73.8 -117.3 -73.8 -117.3C-73.8 -117.3 -78.3 -115.2 -80 -113.5C-81.9 -111.8 -83.5 -109.6 -84.4 -107.3C-85.4 -105 -85.7 -99.8 -85.7 -99.8C-85.7 -99.8 -86.6 -104 -86.9 -106C-87.2 -107.9 -87.5 -111.7 -87.5 -111.7C-87.5 -111.7 -89.8 -106.7 -90.7 -104.2C-91.6 -101.5 -92.4 -98.7 -93.2 -96C-93.5 -94.9 -94 -92.5 -94 -92.5L-103.5 -92C-103.5 -92 -102.3 -89.3 -101.9 -87.9C-101.6 -86.5 -101.5 -83.5 -101.5 -83.5L-113.2 -68.3L-112.8 -68L-113.2 -67.9C-113.2 -67.9 -118.6 -67.9 -121.3 -67.5C-123.4 -67.3 -127.5 -66 -127.5 -66C-127.5 -66 -126.4 -61.6 -125 -59.8C-124 -58.4 -120.7 -56.7 -120.7 -56.7C-120.7 -56.7 -124.6 -56.3 -126.3 -55.4C-128.3 -54.3 -130.8 -53 -131.3 -50.8C-131.6 -49.4 -129.4 -48.7 -128.2 -47.9C-127.2 -47.3 -124.8 -46.7 -124.8 -46.7C-124.8 -46.7 -125.3 -43.3 -126.5 -42.5C-128.9 -41.1 -134.8 -40.4 -134.8 -40.4C-134.8 -40.4 -134.6 -36.6 -134 -34.8C-133.1 -31.8 -130.3 -26 -130.3 -26L-140.7 -31.3C-140.7 -31.3 -137.4 -29.9 -136.3 -28.5C-135.2 -27.2 -134.6 -25.3 -134.4 -23.5C-134.2 -20.3 -135 -13.5 -135 -13.5L-140.3 -21.7C-140.3 -21.7 -143 -18.1 -143.8 -16C-144.7 -13.7 -145.4 -11.1 -145.3 -8.5C-145.2 -5.6 -144.6 -2.4 -143.2 0.2C-141.6 3.1 -136.3 7.5 -136.3 7.5L-145.7 11.5C-145.7 11.5 -140.9 12.8 -139.4 14.6C-137.8 16.4 -138.3 19.5 -136.9 21.5C-135.7 23.1 -131.9 25.2 -131.9 25.2C-131.9 25.2 -135.2 28.3 -136.3 30.2C-137.6 32.5 -138.8 37.7 -138.8 37.7C-138.8 37.7 -134.2 35.4 -131.9 35.8C-130.2 36.1 -128.2 39.6 -128.2 39.6C-128.2 39.6 -128 43.7 -126.9 45.2C-126.5 45.8 -125 44 -125 44L-125 44L-119.4 60.8L-120 60.8C-120 60.8 -120.4 64 -121.3 65.2C-122.8 67 -126.9 69.6 -126.9 69.6C-126.9 69.6 -122.3 70.5 -120 70.6C-118 70.7 -115.8 70.7 -113.8 70.2C-112.6 69.9 -110.7 68.3 -110.7 68.3C-110.7 68.3 -113 72.8 -113.2 75.2C-113.4 78.5 -112.6 81.9 -111.9 85.2C-111.4 87.8 -109.4 92.7 -109.4 92.7L-102.8 80.8C-102.8 80.8 -103.6 88.9 -102.8 92.7C-102.2 95.6 -100.2 98.2 -98.8 100.8C-98 102.3 -96.3 105.2 -96.3 105.2L-91 91.7C-91 91.7 -88.2 96.8 -87.9 99.6C-87.7 101.9 -88.4 104.4 -89.4 106.5C-90.5 108.4 -94 111.5 -94 111.5C-94 111.5 -88.7 110.1 -86.3 109C-83.5 107.6 -78.2 104 -78.2 104C-78.2 104 -76.8 108.4 -77.8 110.2C-79.1 112.5 -84.4 114.6 -84.4 114.6C-84.4 114.6 -78.2 115.3 -75 115.5C-72.6 115.5 -70 115.6 -67.5 115.2C-66 114.9 -63.2 113.3 -63.2 113.3C-63.2 113.3 -65.1 117.8 -65.7 120.2C-66.2 122.4 -66.3 127.1 -66.3 127.1C-66.3 127.1 -62.4 123.6 -60 122.7C-57.3 121.7 -54.2 121.3 -51.3 121.5C-49.1 121.5 -45 123.3 -45 123.3L-45 123.3L-30 127.7L-30 127.7C-30 127.7 -27 132.1 -25 134C-23.2 135.7 -21.1 137.4 -18.8 138.3C-17.1 139 -13.2 138.7 -13.2 138.7L-20 125.8C-20 125.8 -16 128.4 -13.8 129C-10.6 129.8 -7 129.3 -3.8 130.2C-1.1 131 1.5 132.2 3.7 134C5.8 135.6 8.7 140.2 8.7 140.2L5.6 128.7C5.6 128.7 11 129.2 13.7 129.6C15.8 129.9 18.1 129.8 20 130.8C21.6 131.8 23.2 133.4 23.7 135.2C24.3 137.2 23.1 141.5 23.1 141.5C23.1 141.5 27.3 139.4 28.7 137.7C30.5 135.6 31.1 132.6 32.5 130.2C33.3 128.7 33.8 126 35.6 126C37.2 126 38 128.6 38.1 130.2C38.2 132.3 36.2 136.5 36.2 136.5C36.2 136.5 41.7 135.6 43.7 134C46.4 131.7 47.8 128 50 125.2C51.1 123.7 52 121.8 53.7 120.8C55.5 119.8 57.9 119 60 119.6C61.7 120.1 63.7 123.7 63.7 123.7L62.5 116.5C62.5 116.5 63 114.2 63.7 113.3C64.5 112.3 66.8 110.8 66.8 110.8L66.8 110.8L83.7 100.5L83.7 100.5C83.7 100.5 86.1 103.8 87.5 105.2C88.8 106.6 91.8 109 91.8 109C91.8 109 92.3 103.9 93.1 101.5C94.4 97 98.1 88.3 98.1 88.3C98.1 88.3 97 93 97.5 95.2C98 97.6 101 101.7 101 101.7C101 101.7 104.4 94.5 105.6 90.8C107 86.2 109 76.5 109 76.5C109 76.5 109.2 80.7 109.7 82.7C110.2 84.6 111.8 88.3 111.8 88.3C111.8 88.3 116.1 79.7 117.5 75.2C118.8 70.4 120 60.2 120 60.2C120 60.2 119.9 64.4 120.3 66.5C120.7 68.1 122.5 71.2 122.5 71.2C122.5 71.2 125.4 64.8 126.2 61.5C127 58.2 127.4 54.8 127.5 51.5C127.5 49.2 126.5 44.6 126.5 44.6C126.5 44.6 128.4 48.5 130 50C131.3 51.2 133.1 52.5 135 52.5C136.5 52.5 139 50 139 50C139 50 136.1 46.1 135.2 44C134.1 41.2 133.8 38.1 133.1 35.2C132.4 32.2 131 26.2 131 26.2L130.6 26.5L133.1 8.3L133.1 8.3L132.5 5C132.5 5 134.7 8.7 136.2 10.2C137.2 11.3 140 12.7 140 12.7C140 12.7 139.1 8.5 139.6 6.5C140.3 3.4 143 0.8 143.3 -2.3C143.7 -5.3 142.7 -8.5 141.6 -11.3C140.8 -13.4 139.4 -15.6 137.7 -17C136.6 -18 133.5 -18.3 133.5 -18.3C133.5 -18.3 137.9 -18.8 140 -19.5C141.4 -20.1 143.7 -22.3 143.7 -22.3C143.7 -22.3 139.1 -22.7 137.2 -23.8C135.3 -24.9 133.7 -26.7 132.5 -28.5C131.2 -30.4 131 -32.8 130 -34.8C129 -36.8 126.5 -40.4 126.5 -40.4C126.5 -40.4 129.3 -37.2 131.2 -36.3C133.1 -35.4 135.3 -35.2 137.5 -35C138.6 -35 141 -35.8 141 -35.8C141 -35.8 138.9 -41.2 137.5 -43.5C135.3 -47.1 133.2 -51 130 -53.5C127.2 -55.8 120 -57.5 120 -57.5C120 -57.5 124.5 -59.4 126.2 -61C127.7 -62.5 129.3 -66.7 129.3 -66.7C129.3 -66.7 125.5 -66.5 123.7 -66.7C121.2 -66.9 118.6 -67.1 116.2 -67.9C113.6 -68.8 108.7 -71.7 108.7 -71.7L96 -88.5L95.6 -88.5L95.2 -89.2C95.2 -89.2 97.3 -92.8 97.5 -94.8C97.6 -96.6 97.2 -98.7 96 -100C94.6 -101.4 92.5 -102 90.6 -102C88.5 -102 84.7 -100 84.7 -100C84.7 -100 85.4 -102.9 85 -104.2C84.2 -106.1 82.7 -107.7 81.2 -109.2C80.4 -110 78.1 -110.8 78.1 -110.8C78.1 -110.8 76.3 -108.2 75 -107.9C73.3 -107.6 71.5 -108.6 70 -109.2C68.2 -109.8 65 -111.7 65 -111.7L71.2 -114.2C71.2 -114.2 67.9 -116.4 66.2 -117.3C63.8 -118.6 61.4 -120.2 58.7 -120.7C55.9 -121.2 50 -120.4 50 -120.4C50 -120.4 51.9 -123.1 53.1 -124.2C54.6 -125.5 58.1 -127.5 58.1 -127.5C58.1 -127.5 51.8 -128.7 48.7 -128.5C45.8 -128.4 42.8 -127.4 40 -126.7C37 -125.9 31.2 -124.2 31.2 -124.2C31.2 -124.2 35.2 -127.5 36.2 -129.8C36.8 -131.3 35.6 -134.5 35.6 -134.5C35.6 -134.5 32.8 -132.3 31.2 -131.7C28.8 -130.7 26.2 -129.9 23.7 -129.5C20.8 -129.1 15 -129.2 15 -129.2L15 -129.5L0 -129.2ZM11.8 -80.2L2.5 -80.7L4 -73.3C4 -73.3 -0.1 -76.9 -2.5 -77.9C-5.1 -79 -10.7 -79.8 -10.7 -79.8C-10.7 -79.8 -9.9 -73.9 -9.4 -71C-8.6 -65.7 -6.9 -54.8 -6.9 -54.8C-6.9 -54.8 -10.5 -56.8 -11.9 -58.3C-13.9 -60.4 -15.1 -63.2 -16.9 -65.4C-18.8 -67.7 -20.6 -70.2 -23.2 -71.7C-25 -72.7 -29.4 -72.5 -29.4 -72.5L-26.3 -64.2C-26.3 -64.2 -31.1 -65.2 -33.2 -66.3C-35.2 -67.3 -38.5 -70.4 -38.5 -70.4L-34 -59.5C-34 -59.5 -38.8 -61.2 -41.3 -61.3C-44.2 -61.5 -47.2 -61.1 -50 -60.4C-52.7 -59.8 -57.5 -57.3 -57.5 -57.3L-59 -54.2L-59.4 -53.8L-59.4 -53.8L-62.5 -50.4L-57.5 -49.2C-57.5 -49.2 -58.9 -46.8 -60 -46C-61.9 -44.8 -64.1 -44 -66.3 -43.5C-68.9 -43 -74.4 -42.9 -74.4 -42.9L-65 -36C-65 -36 -68.4 -34.7 -70 -34.2C-72.1 -33.5 -76.3 -32.3 -76.3 -32.3L-68.2 -24.8C-68.2 -24.8 -70 -22.5 -71.3 -22.3C-73.7 -21.9 -78.8 -22.9 -78.8 -22.9C-78.8 -22.9 -77.7 -19.5 -76.3 -18.5C-74.2 -17.1 -68.8 -16 -68.8 -16C-68.8 -16 -70.8 -11.5 -72.5 -9.8C-74.3 -8.1 -76.8 -7.3 -78.8 -6C-80.1 -5.3 -82.5 -3.5 -82.5 -3.5L-82.5 -3.5L-82.9 8.3L-81.3 10.2L-74.8 12.7C-74.8 12.7 -75.9 17.7 -76.5 20.2C-77 22.2 -78.2 26.2 -78.2 26.2L-73.8 22.7C-73.8 22.7 -70.7 28.4 -70.3 31.5C-69.9 34.4 -71.5 40.5 -71.5 40.5L-67.5 27.1C-67.5 27.1 -64.5 34.1 -63.8 37.7C-63.1 41.3 -63.2 49 -63.2 49L-57.5 45.2C-57.5 45.2 -55.8 51.9 -55 55.2C-54.3 58.7 -53.2 65.8 -53.2 65.8L-50 54C-50 54 -49.1 59.1 -48.2 61.5C-47.4 63.5 -45 67.5 -45 67.5L-45 67.5L-35.7 71.7L-35.7 71.7L-33.2 64C-33.2 64 -28.1 66.8 -26.3 69C-23.9 71.7 -20.7 78.3 -20.7 78.3L-18.8 69.6C-18.8 69.6 -15.3 72.8 -13.8 74.6C-12.6 76.1 -10.7 79.6 -10.7 79.6L-5.3 74C-5.3 74 -2.6 75.6 -1.3 76.5C0.2 77.4 3.1 79.6 3.1 79.6C3.1 79.6 5.7 75.9 7.5 74.6C9.3 73.1 11.6 72.2 13.7 71.2C14.6 70.8 16.5 70.2 16.5 70.2C16.5 70.2 16 74.5 16.8 76.5C17.3 77.6 18.8 79.3 20 78.7C22.1 77.6 22.9 74.7 24.3 72.7C25.3 71.4 27.2 68.7 27.2 68.7L28.7 75.6C28.7 75.6 31.7 70.9 33.7 69C35.3 67.4 39.3 65.2 39.3 65.2L36.8 72.1C36.8 72.1 40.4 68.4 42.5 67.1C43.5 66.4 46 66.2 46 66.2L45.6 66.5L50.6 64.6L50.6 64.6C50.6 64.6 52 60.8 52.7 59C53.2 57.6 54.3 55 54.3 55L55.6 58.3L56.8 47.1C56.8 47.1 57 50.2 57.7 51.5C58.6 53 61.5 55.2 61.5 55.2C61.5 55.2 64.1 46.8 65.6 42.7C67.1 38.5 70.6 30.2 70.6 30.2C70.6 30.2 70.7 34.9 71.2 37.1C71.5 38.5 73.1 41.2 73.1 41.2C73.1 41.2 75.6 33.9 76.5 30.2C77.3 26.5 78.1 18.7 78.1 18.7L80 22.1C80 22.1 81 15.8 81.8 12.7C82.3 11 83.7 7.7 83.7 7.7L83.7 7.7L83.7 -7.9L83.7 -7.9C83.7 -7.9 80.8 -11.7 79.3 -13.5C77.7 -15.5 74.3 -19.2 74.3 -19.2C74.3 -19.2 78.1 -19.5 80 -19.8C81.4 -20.1 84.3 -21 84.3 -21C84.3 -21 80 -24.2 78.1 -26C76.5 -27.6 73.7 -31 73.7 -31C73.7 -31 76.7 -31.3 78.1 -31.7C79.5 -32.1 82.2 -33.5 82.2 -33.5C82.2 -33.5 78.1 -33.8 76.2 -34.2C75.1 -34.4 73.1 -35.4 73.1 -35.4L73.1 -35.4L72.5 -42.9L72.5 -42.9L68.7 -45.4C68.7 -45.4 67 -41.3 65.6 -39.8C63.7 -37.8 58.7 -35 58.7 -35C58.7 -35 61.4 -39.7 61.8 -42.3C62.3 -45.2 61.8 -48.2 61.2 -51C60.8 -53 58.7 -56.7 58.7 -56.7C58.7 -56.7 54.5 -56.5 52.5 -56.7C49.7 -56.9 44.3 -57.9 44.3 -57.9C44.3 -57.9 46.9 -59 48.1 -59.8C49.2 -60.6 51.2 -62.5 51.2 -62.5C51.2 -62.5 45.3 -63.7 42.5 -64.2C39.8 -64.6 34.3 -65.4 34.3 -65.4C34.3 -65.4 37.9 -68.1 39.3 -69.8C40.6 -71.3 42.5 -75 42.5 -75C42.5 -75 34.9 -74.1 31.2 -73.5C27.7 -73 20.6 -71.7 20.6 -71.7L23.1 -76L23.7 -77.3L11.8 -80.2Z" fill="#0d9f30" fill-rule="evenodd" stroke="none"/><path d="M-113.2 -68.3C-113.2 -68.3 -111.6 -73.4 -110 -75.4C-108 -78.1 -105.6 -81 -102.5 -82.3C-98.7 -84 -94.2 -84.3 -90 -84.2C-85.8 -84.1 -81.5 -83.1 -77.5 -81.7C-73.6 -80.2 -69.7 -78 -66.3 -75.4C-63.4 -73.2 -60.7 -70.4 -58.8 -67.3C-57.5 -65.1 -56.9 -62.4 -56.9 -59.8C-57 -57.8 -59 -54.2 -59 -54.2L-59.4 -53.8C-59.4 -53.8 -61.4 -56.2 -62.5 -57.3C-65 -59.6 -67.3 -62.2 -70 -64.2C-73.5 -66.6 -77.3 -68.9 -81.3 -70.4C-85.3 -72 -89.6 -73.2 -93.8 -73.5C-97.5 -73.8 -101.5 -73.3 -105 -72.3C-107.9 -71.5 -112.8 -68 -112.8 -68L-113.2 -68.3ZM-125 44C-125 44 -124.7 42.3 -124.4 41.5C-123.4 38.1 -122.8 34.6 -121.3 31.5C-119.6 27.9 -117.5 24.5 -115 21.5C-112.1 17.8 -108.6 14.4 -105 11.5C-101.2 8.2 -96.7 5.5 -92.5 2.7C-89.3 0.5 -82.5 -3.5 -82.5 -3.5C-82.5 -3.5 -83.1 0.6 -83.2 2.7C-83.2 4.6 -82.9 8.3 -82.9 8.3C-82.9 8.3 -87.6 13.1 -90 15.2C-93.6 18.2 -97.9 20.7 -101.3 24C-104.5 26.9 -107.5 30.4 -110 34C-112 36.6 -113.3 39.8 -115 42.7C-115.5 43.5 -113.5 39.3 -113.8 40.2C-114.9 43.5 -116.6 46.8 -117.5 50.2C-118.5 53.6 -119.4 60.8 -119.4 60.8C-119.4 60.8 -121.6 55.4 -122.5 52.7C-123.5 49.9 -125 44 -125 44ZM-45 123.3C-45 123.3 -47.3 119.6 -48.2 117.7C-49.4 114.9 -50.6 111.9 -51.3 109C-52.1 105.7 -52.8 102.3 -52.5 99C-52.3 95.6 -51 92.2 -50 89C-48.9 85.2 -47.2 81.5 -46.3 77.7C-45.5 74.4 -45 67.5 -45 67.5L-35.7 71.7C-35.7 71.7 -37.5 79.9 -38.2 84C-38.9 88.1 -39.6 92.3 -40 96.5C-40.4 100.1 -41 104 -40.7 107.7C-40.4 111.1 -39.4 114.5 -38.2 117.7C-37.1 120.4 -35.6 123 -33.8 125.2C-32.9 126.4 -30 127.7 -30 127.7L-45 123.3ZM66.8 110.8C66.8 110.8 63.8 109.3 62.5 108.3C59.9 106.4 57.2 104.4 55 102.1C52.6 99.6 50.4 96.9 48.7 94C46.9 90.8 45.3 87.4 44.3 84C43.4 80.7 42.8 77.3 43.1 74C43.3 71.3 45.6 66.5 45.6 66.5L50.6 64.6C50.6 64.6 51.4 71 52.5 74C53.7 77.4 55.5 80.8 57.5 84C59.2 86.7 61.4 89.2 63.7 91.5C65.9 93.6 68.5 95.5 71.2 97.1C73.5 98.4 76.1 99.3 78.7 100C80.3 100.4 83.7 100.5 83.7 100.5C83.7 100.5 78.1 105.7 75 107.7C72.5 109.2 66.8 110.8 66.8 110.8ZM130.6 26.5C130.6 26.5 124.3 26.6 121.2 26.5C117.1 26.2 112.8 26 108.7 25.2C104.5 24.4 100.1 23.4 96.2 21.5C92.9 19.8 89.9 17.3 87.5 14.6C85.7 12.7 83.7 7.7 83.7 7.7C83.7 7.7 83.5 2.7 83.5 0.2C83.5 -2.5 83.7 -7.9 83.7 -7.9C83.7 -7.9 85.7 -3 87.5 -1C89.5 1.2 92.1 3.3 95 4.6C98.4 6.2 102.4 7.1 106.2 7.7C110.7 8.4 115.4 8.6 120 8.7C124.3 8.8 133.1 8.3 133.1 8.3C133.1 8.3 134.1 14.6 133.7 17.7C133.3 20.7 130.6 26.5 130.6 26.5ZM96 -88.5C96 -88.5 101.5 -84.8 103.7 -82.3C105.6 -80.2 107.4 -77.6 108.1 -74.8C108.9 -71.2 109 -67.2 108.1 -63.5C107.1 -59.5 105 -55.6 102.5 -52.3C99.8 -48.8 96 -46.1 92.5 -43.5C89 -41.1 85.1 -38.9 81.2 -37.3C78.7 -36.2 73.1 -35.4 73.1 -35.4C73.1 -35.4 71.9 -37.9 71.8 -39.2C71.7 -40.4 72.5 -42.9 72.5 -42.9C72.5 -42.9 78.6 -47.3 81.2 -49.8C83.9 -52.4 86.6 -55.4 88.7 -58.5C91 -62 92.9 -65.9 94.3 -69.8C95.6 -73.4 96.6 -77.3 96.8 -81C97 -83.6 95.6 -88.5 95.6 -88.5L96 -88.5Z" fill="#e8457b" stroke="none"/><path d="M0 -129.2C0 -129.2 -5.1 -129.4 -7.5 -129.8C-9.7 -130.2 -11.7 -131.1 -13.8 -131.7C-16.3 -132.3 -18.8 -133.2 -21.3 -133.3C-23 -133.4 -25.2 -133.5 -26.3 -132.3C-27.1 -131.4 -25.1 -129.7 -25.7 -128.5C-26.5 -127 -28.3 -125.7 -30 -125.4C-31.6 -125.2 -33.3 -126.2 -34.4 -127.3C-35.5 -128.4 -36.1 -130.1 -36.3 -131.7C-36.4 -132.8 -35.3 -135 -35.3 -135C-35.3 -135 -38.5 -132.7 -39.4 -131C-40.9 -128.6 -42.5 -122.9 -42.5 -122.9C-42.5 -122.9 -45.7 -125.1 -47.5 -125.4C-50.4 -125.9 -53.5 -126 -56.3 -125.4C-58.5 -125 -60.6 -123.7 -62.5 -122.5C-63.1 -122.2 -63.8 -121 -63.8 -121C-63.8 -121 -60.3 -120.7 -58.8 -119.8C-58 -119.3 -57 -118.1 -57.5 -117.3C-58.6 -115.7 -60.8 -115.1 -62.5 -114.2C-65.5 -112.6 -71.5 -109.5 -71.5 -109.5C-71.5 -109.5 -71.6 -112.3 -71.9 -113.5C-72.3 -114.9 -73.8 -117.3 -73.8 -117.3C-73.8 -117.3 -78.3 -115.2 -80 -113.5C-81.9 -111.8 -83.5 -109.6 -84.4 -107.3C-85.4 -105 -85.7 -99.8 -85.7 -99.8C-85.7 -99.8 -86.6 -104 -86.9 -106C-87.2 -107.9 -87.5 -111.7 -87.5 -111.7C-87.5 -111.7 -89.8 -106.7 -90.7 -104.2C-91.6 -101.5 -92.4 -98.7 -93.2 -96C-93.5 -94.9 -94 -92.5 -94 -92.5L-103.5 -92C-103.5 -92 -102.3 -89.3 -101.9 -87.9C-101.6 -86.5 -101.5 -83.5 -101.5 -83.5M11.8 -80.2L2.5 -80.7L4 -73.3C4 -73.3 -0.1 -76.9 -2.5 -77.9C-5.1 -79 -10.7 -79.8 -10.7 -79.8C-10.7 -79.8 -9.9 -73.9 -9.4 -71C-8.6 -65.7 -6.9 -54.8 -6.9 -54.8C-6.9 -54.8 -10.5 -56.8 -11.9 -58.3C-13.9 -60.4 -15.1 -63.2 -16.9 -65.4C-18.8 -67.7 -20.6 -70.2 -23.2 -71.7C-25 -72.7 -29.4 -72.5 -29.4 -72.5L-26.3 -64.2C-26.3 -64.2 -31.1 -65.2 -33.2 -66.3C-35.2 -67.3 -38.5 -70.4 -38.5 -70.4L-34 -59.5C-34 -59.5 -38.8 -61.2 -41.3 -61.3C-44.2 -61.5 -47.2 -61.1 -50 -60.4C-52.7 -59.8 -57.5 -57.3 -57.5 -57.3M-113.2 -67.9C-113.2 -67.9 -118.6 -67.9 -121.3 -67.5C-123.4 -67.3 -127.5 -66 -127.5 -66C-127.5 -66 -126.4 -61.6 -125 -59.8C-124 -58.4 -120.7 -56.7 -120.7 -56.7C-120.7 -56.7 -124.6 -56.3 -126.3 -55.4C-128.3 -54.3 -130.8 -53 -131.3 -50.8C-131.6 -49.4 -129.4 -48.7 -128.2 -47.9C-127.2 -47.3 -124.8 -46.7 -124.8 -46.7C-124.8 -46.7 -125.3 -43.3 -126.5 -42.5C-128.9 -41.1 -134.8 -40.4 -134.8 -40.4C-134.8 -40.4 -134.6 -36.6 -134 -34.8C-133.1 -31.8 -130.3 -26 -130.3 -26L-140.7 -31.3C-140.7 -31.3 -137.4 -29.9 -136.3 -28.5C-135.2 -27.2 -134.6 -25.3 -134.4 -23.5C-134.2 -20.3 -135 -13.5 -135 -13.5L-140.3 -21.7C-140.3 -21.7 -143 -18.1 -143.8 -16C-144.7 -13.7 -145.4 -11.1 -145.3 -8.5C-145.2 -5.6 -144.6 -2.4 -143.2 0.2C-141.6 3.1 -136.3 7.5 -136.3 7.5L-145.7 11.5C-145.7 11.5 -140.9 12.8 -139.4 14.6C-137.8 16.4 -138.3 19.5 -136.9 21.5C-135.7 23.1 -131.9 25.2 -131.9 25.2C-131.9 25.2 -135.2 28.3 -136.3 30.2C-137.6 32.5 -138.8 37.7 -138.8 37.7C-138.8 37.7 -134.2 35.4 -131.9 35.8C-130.2 36.1 -128.2 39.6 -128.2 39.6C-128.2 39.6 -128 43.7 -126.9 45.2C-126.5 45.8 -125 44 -125 44M-59.4 -53.8L-62.5 -50.4L-57.5 -49.2C-57.5 -49.2 -58.9 -46.8 -60 -46C-61.9 -44.8 -64.1 -44 -66.3 -43.5C-68.9 -43 -74.4 -42.9 -74.4 -42.9L-65 -36C-65 -36 -68.4 -34.7 -70 -34.2C-72.1 -33.5 -76.3 -32.3 -76.3 -32.3L-68.2 -24.8C-68.2 -24.8 -70 -22.5 -71.3 -22.3C-73.7 -21.9 -78.8 -22.9 -78.8 -22.9C-78.8 -22.9 -77.7 -19.5 -76.3 -18.5C-74.2 -17.1 -68.8 -16 -68.8 -16C-68.8 -16 -70.8 -11.5 -72.5 -9.8C-74.3 -8.1 -76.8 -7.3 -78.8 -6C-80.1 -5.3 -82.5 -3.5 -82.5 -3.5M-120 60.8C-120 60.8 -120.4 64 -121.3 65.2C-122.8 67 -126.9 69.6 -126.9 69.6C-126.9 69.6 -122.3 70.5 -120 70.6C-118 70.7 -115.8 70.7 -113.8 70.2C-112.6 69.9 -110.7 68.3 -110.7 68.3C-110.7 68.3 -113 72.8 -113.2 75.2C-113.4 78.5 -112.6 81.9 -111.9 85.2C-111.4 87.8 -109.4 92.7 -109.4 92.7L-102.8 80.8C-102.8 80.8 -103.6 88.9 -102.8 92.7C-102.2 95.6 -100.2 98.2 -98.8 100.8C-98 102.3 -96.3 105.2 -96.3 105.2L-91 91.7C-91 91.7 -88.2 96.8 -87.9 99.6C-87.7 101.9 -88.4 104.4 -89.4 106.5C-90.5 108.4 -94 111.5 -94 111.5C-94 111.5 -88.7 110.1 -86.3 109C-83.5 107.6 -78.2 104 -78.2 104C-78.2 104 -76.8 108.4 -77.8 110.2C-79.1 112.5 -84.4 114.6 -84.4 114.6C-84.4 114.6 -78.2 115.3 -75 115.5C-72.6 115.5 -70 115.6 -67.5 115.2C-66 114.9 -63.2 113.3 -63.2 113.3C-63.2 113.3 -65.1 117.8 -65.7 120.2C-66.2 122.4 -66.3 127.1 -66.3 127.1C-66.3 127.1 -62.4 123.6 -60 122.7C-57.3 121.7 -54.2 121.3 -51.3 121.5C-49.1 121.5 -45 123.3 -45 123.3M-81.3 10.2L-74.8 12.7C-74.8 12.7 -75.9 17.7 -76.5 20.2C-77 22.2 -78.2 26.2 -78.2 26.2L-73.8 22.7C-73.8 22.7 -70.7 28.4 -70.3 31.5C-69.9 34.4 -71.5 40.5 -71.5 40.5L-67.5 27.1C-67.5 27.1 -64.5 34.1 -63.8 37.7C-63.1 41.3 -63.2 49 -63.2 49L-57.5 45.2C-57.5 45.2 -55.8 51.9 -55 55.2C-54.3 58.7 -53.2 65.8 -53.2 65.8L-50 54C-50 54 -49.1 59.1 -48.2 61.5C-47.4 63.5 -45 67.5 -45 67.5M-30 127.7C-30 127.7 -27 132.1 -25 134C-23.2 135.7 -21.1 137.4 -18.8 138.3C-17.1 139 -13.2 138.7 -13.2 138.7L-20 125.8C-20 125.8 -16 128.4 -13.8 129C-10.6 129.8 -7 129.3 -3.8 130.2C-1.1 131 1.5 132.2 3.7 134C5.8 135.6 8.7 140.2 8.7 140.2L5.6 128.7C5.6 128.7 11 129.2 13.7 129.6C15.8 129.9 18.1 129.8 20 130.8C21.6 131.8 23.2 133.4 23.7 135.2C24.3 137.2 23.1 141.5 23.1 141.5C23.1 141.5 27.3 139.4 28.7 137.7C30.5 135.6 31.1 132.6 32.5 130.2C33.3 128.7 33.8 126 35.6 126C37.2 126 38 128.6 38.1 130.2C38.2 132.3 36.2 136.5 36.2 136.5C36.2 136.5 41.7 135.6 43.7 134C46.4 131.7 47.8 128 50 125.2C51.1 123.7 52 121.8 53.7 120.8C55.5 119.8 57.9 119 60 119.6C61.7 120.1 63.7 123.7 63.7 123.7L62.5 116.5C62.5 116.5 63 114.2 63.7 113.3C64.5 112.3 66.8 110.8 66.8 110.8M-35.7 71.7L-33.2 64C-33.2 64 -28.1 66.8 -26.3 69C-23.9 71.7 -20.7 78.3 -20.7 78.3L-18.8 69.6C-18.8 69.6 -15.3 72.8 -13.8 74.6C-12.6 76.1 -10.7 79.6 -10.7 79.6L-5.3 74C-5.3 74 -2.6 75.6 -1.3 76.5C0.2 77.4 3.1 79.6 3.1 79.6C3.1 79.6 5.7 75.9 7.5 74.6C9.3 73.1 11.6 72.2 13.7 71.2C14.6 70.8 16.5 70.2 16.5 70.2C16.5 70.2 16 74.5 16.8 76.5C17.3 77.6 18.8 79.3 20 78.7C22.1 77.6 22.9 74.7 24.3 72.7C25.3 71.4 27.2 68.7 27.2 68.7L28.7 75.6C28.7 75.6 31.7 70.9 33.7 69C35.3 67.4 39.3 65.2 39.3 65.2L36.8 72.1C36.8 72.1 40.4 68.4 42.5 67.1C43.5 66.4 46 66.2 46 66.2M83.7 100.5C83.7 100.5 86.1 103.8 87.5 105.2C88.8 106.6 91.8 109 91.8 109C91.8 109 92.3 103.9 93.1 101.5C94.4 97 98.1 88.3 98.1 88.3C98.1 88.3 97 93 97.5 95.2C98 97.6 101 101.7 101 101.7C101 101.7 104.4 94.5 105.6 90.8C107 86.2 109 76.5 109 76.5C109 76.5 109.2 80.7 109.7 82.7C110.2 84.6 111.8 88.3 111.8 88.3C111.8 88.3 116.1 79.7 117.5 75.2C118.8 70.4 120 60.2 120 60.2C120 60.2 119.9 64.4 120.3 66.5C120.7 68.1 122.5 71.2 122.5 71.2C122.5 71.2 125.4 64.8 126.2 61.5C127 58.2 127.4 54.8 127.5 51.5C127.5 49.2 126.5 44.6 126.5 44.6C126.5 44.6 128.4 48.5 130 50C131.3 51.2 133.1 52.5 135 52.5C136.5 52.5 139 50 139 50C139 50 136.1 46.1 135.2 44C134.1 41.2 133.8 38.1 133.1 35.2C132.4 32.2 131 26.2 131 26.2M50.6 64.6C50.6 64.6 52 60.8 52.7 59C53.2 57.6 54.3 55 54.3 55L55.6 58.3L56.8 47.1C56.8 47.1 57 50.2 57.7 51.5C58.6 53 61.5 55.2 61.5 55.2C61.5 55.2 64.1 46.8 65.6 42.7C67.1 38.5 70.6 30.2 70.6 30.2C70.6 30.2 70.7 34.9 71.2 37.1C71.5 38.5 73.1 41.2 73.1 41.2C73.1 41.2 75.6 33.9 76.5 30.2C77.3 26.5 78.1 18.7 78.1 18.7L80 22.1C80 22.1 81 15.8 81.8 12.7C82.3 11 83.7 7.7 83.7 7.7M133.1 8.3L132.5 5C132.5 5 134.7 8.7 136.2 10.2C137.2 11.3 140 12.7 140 12.7C140 12.7 139.1 8.5 139.6 6.5C140.3 3.4 143 0.8 143.3 -2.3C143.7 -5.3 142.7 -8.5 141.6 -11.3C140.8 -13.4 139.4 -15.6 137.7 -17C136.6 -18 133.5 -18.3 133.5 -18.3C133.5 -18.3 137.9 -18.8 140 -19.5C141.4 -20.1 143.7 -22.3 143.7 -22.3C143.7 -22.3 139.1 -22.7 137.2 -23.8C135.3 -24.9 133.7 -26.7 132.5 -28.5C131.2 -30.4 131 -32.8 130 -34.8C129 -36.8 126.5 -40.4 126.5 -40.4C126.5 -40.4 129.3 -37.2 131.2 -36.3C133.1 -35.4 135.3 -35.2 137.5 -35C138.6 -35 141 -35.8 141 -35.8C141 -35.8 138.9 -41.2 137.5 -43.5C135.3 -47.1 133.2 -51 130 -53.5C127.2 -55.8 120 -57.5 120 -57.5C120 -57.5 124.5 -59.4 126.2 -61C127.7 -62.5 129.3 -66.7 129.3 -66.7C129.3 -66.7 125.5 -66.5 123.7 -66.7C121.2 -66.9 118.6 -67.1 116.2 -67.9C113.6 -68.8 108.7 -71.7 108.7 -71.7M83.7 -7.9C83.7 -7.9 80.8 -11.7 79.3 -13.5C77.7 -15.5 74.3 -19.2 74.3 -19.2C74.3 -19.2 78.1 -19.5 80 -19.8C81.4 -20.1 84.3 -21 84.3 -21C84.3 -21 80 -24.2 78.1 -26C76.5 -27.6 73.7 -31 73.7 -31C73.7 -31 76.7 -31.3 78.1 -31.7C79.5 -32.1 82.2 -33.5 82.2 -33.5C82.2 -33.5 78.1 -33.8 76.2 -34.2C75.1 -34.4 73.1 -35.4 73.1 -35.4M95.2 -89.2C95.2 -89.2 97.3 -92.8 97.5 -94.8C97.6 -96.6 97.2 -98.7 96 -100C94.6 -101.4 92.5 -102 90.6 -102C88.5 -102 84.7 -100 84.7 -100C84.7 -100 85.4 -102.9 85 -104.2C84.2 -106.1 82.7 -107.7 81.2 -109.2C80.4 -110 78.1 -110.8 78.1 -110.8C78.1 -110.8 76.3 -108.2 75 -107.9C73.3 -107.6 71.5 -108.6 70 -109.2C68.2 -109.8 65 -111.7 65 -111.7L71.2 -114.2C71.2 -114.2 67.9 -116.4 66.2 -117.3C63.8 -118.6 61.4 -120.2 58.7 -120.7C55.9 -121.2 50 -120.4 50 -120.4C50 -120.4 51.9 -123.1 53.1 -124.2C54.6 -125.5 58.1 -127.5 58.1 -127.5C58.1 -127.5 51.8 -128.7 48.7 -128.5C45.8 -128.4 42.8 -127.4 40 -126.7C37 -125.9 31.2 -124.2 31.2 -124.2C31.2 -124.2 35.2 -127.5 36.2 -129.8C36.8 -131.3 35.6 -134.5 35.6 -134.5C35.6 -134.5 32.8 -132.3 31.2 -131.7C28.8 -130.7 26.2 -129.9 23.7 -129.5C20.8 -129.1 15 -129.2 15 -129.2M72.5 -42.9L68.7 -45.4C68.7 -45.4 67 -41.3 65.6 -39.8C63.7 -37.8 58.7 -35 58.7 -35C58.7 -35 61.4 -39.7 61.8 -42.3C62.3 -45.2 61.8 -48.2 61.2 -51C60.8 -53 58.7 -56.7 58.7 -56.7C58.7 -56.7 54.5 -56.5 52.5 -56.7C49.7 -56.9 44.3 -57.9 44.3 -57.9C44.3 -57.9 46.9 -59 48.1 -59.8C49.2 -60.6 51.2 -62.5 51.2 -62.5C51.2 -62.5 45.3 -63.7 42.5 -64.2C39.8 -64.6 34.3 -65.4 34.3 -65.4C34.3 -65.4 37.9 -68.1 39.3 -69.8C40.6 -71.3 42.5 -75 42.5 -75C42.5 -75 34.9 -74.1 31.2 -73.5C27.7 -73 20.6 -71.7 20.6 -71.7L23.1 -76M-113.2 -67.9C-113.2 -67.9 -109.6 -67 -108.2 -66C-106.9 -65.2 -105.3 -62.5 -105.3 -62.5M96.2 -97.3C96.2 -97.3 95.3 -94 95.2 -92.3C95.1 -91.1 95.6 -88.5 95.6 -88.5" fill="none" stroke="#000" stroke-width="2.5"/><path d="M15 -129.5C15 -129.5 21.4 -124.4 23.7 -121C26 -117.7 27.6 -113.7 28.7 -109.8C29.7 -106.2 30 -102.3 30 -98.5C30 -94.8 29.8 -90.9 28.7 -87.3C27.7 -83.8 23.7 -77.3 23.7 -77.3M0 -129.2C0 -129.2 7.1 -124.2 10 -121C12.5 -118.2 14.7 -114.6 16.2 -111C17.6 -107.5 18.6 -103.6 18.7 -99.8C18.8 -96.4 17.9 -93 16.8 -89.8C15.6 -86.4 11.8 -80.2 11.8 -80.2M-113.2 -68.3C-113.2 -68.3 -111.6 -73.4 -110 -75.4C-108 -78.1 -105.6 -81 -102.5 -82.3C-98.7 -84 -94.2 -84.3 -90 -84.2C-85.8 -84.1 -81.5 -83.1 -77.5 -81.7C-73.6 -80.2 -69.7 -78 -66.3 -75.4C-63.4 -73.2 -60.7 -70.4 -58.8 -67.3C-57.5 -65.1 -56.9 -62.4 -56.9 -59.8C-57 -57.8 -59 -54.2 -59 -54.2M-112.8 -68C-112.8 -68 -107.9 -71.5 -105 -72.3C-101.5 -73.3 -97.5 -73.8 -93.8 -73.5C-89.6 -73.2 -85.3 -72 -81.3 -70.4C-77.3 -68.9 -73.5 -66.6 -70 -64.2C-67.3 -62.2 -65 -59.6 -62.5 -57.3C-61.4 -56.2 -59.4 -53.8 -59.4 -53.8M-125 44C-125 44 -124.7 42.3 -124.4 41.5C-123.4 38.1 -122.8 34.6 -121.3 31.5C-119.6 27.9 -117.5 24.5 -115 21.5C-112.1 17.8 -108.6 14.4 -105 11.5C-101.2 8.2 -96.7 5.5 -92.5 2.7C-89.3 0.5 -82.5 -3.5 -82.5 -3.5M-119.4 60.8C-119.4 60.8 -118.5 53.6 -117.5 50.2C-116.6 46.8 -114.9 43.5 -113.8 40.2C-113.5 39.3 -115.5 43.5 -115 42.7C-113.3 39.8 -112 36.6 -110 34C-107.5 30.4 -104.5 26.9 -101.3 24C-97.9 20.7 -93.6 18.2 -90 15.2C-87.6 13.1 -82.9 8.3 -82.9 8.3M-45 123.3C-45 123.3 -47.3 119.6 -48.2 117.7C-49.4 114.9 -50.6 111.9 -51.3 109C-52.1 105.7 -52.8 102.3 -52.5 99C-52.3 95.6 -51 92.2 -50 89C-48.9 85.2 -47.2 81.5 -46.3 77.7C-45.5 74.4 -45 67.5 -45 67.5M-30 127.7C-30 127.7 -32.9 126.4 -33.8 125.2C-35.6 123 -37.1 120.4 -38.2 117.7C-39.4 114.5 -40.4 111.1 -40.7 107.7C-41 104 -40.4 100.1 -40 96.5C-39.6 92.3 -38.9 88.1 -38.2 84C-37.5 79.9 -35.7 71.7 -35.7 71.7M66.8 110.8C66.8 110.8 63.8 109.3 62.5 108.3C59.9 106.4 57.2 104.4 55 102.1C52.6 99.6 50.4 96.9 48.7 94C46.9 90.8 45.3 87.4 44.3 84C43.4 80.7 42.8 77.3 43.1 74C43.3 71.3 45.6 66.5 45.6 66.5M83.7 100.5C83.7 100.5 80.3 100.4 78.7 100C76.1 99.3 73.5 98.4 71.2 97.1C68.5 95.5 65.9 93.6 63.7 91.5C61.4 89.2 59.2 86.7 57.5 84C55.5 80.8 53.7 77.4 52.5 74C51.4 71 50.6 64.6 50.6 64.6M130.6 26.5C130.6 26.5 124.3 26.6 121.2 26.5C117.1 26.2 112.8 26 108.7 25.2C104.5 24.4 100.1 23.4 96.2 21.5C92.9 19.8 89.9 17.3 87.5 14.6C85.7 12.7 83.7 7.7 83.7 7.7M133.1 8.3C133.1 8.3 124.3 8.8 120 8.7C115.4 8.6 110.7 8.4 106.2 7.7C102.4 7.1 98.4 6.2 95 4.6C92.1 3.3 89.5 1.2 87.5 -1C85.7 -3 83.7 -7.9 83.7 -7.9M96 -88.5C96 -88.5 101.5 -84.8 103.7 -82.3C105.6 -80.2 107.4 -77.6 108.1 -74.8C108.9 -71.2 109 -67.2 108.1 -63.5C107.1 -59.5 105 -55.6 102.5 -52.3C99.8 -48.8 96 -46.1 92.5 -43.5C89 -41.1 85.1 -38.9 81.2 -37.3C78.7 -36.2 73.1 -35.4 73.1 -35.4M95.6 -88.5C95.6 -88.5 97 -83.6 96.8 -81C96.6 -77.3 95.6 -73.4 94.3 -69.8C92.9 -65.9 91 -62 88.7 -58.5C86.6 -55.4 83.9 -52.4 81.2 -49.8C78.6 -47.3 72.5 -42.9 72.5 -42.9M0 -129.2L15 -129.5M11.8 -80.2L23.7 -77.3M-82.5 -3.5C-82.5 -3.5 -83.4 0.6 -83.2 2.7C-82.9 5.2 -81.3 10.2 -81.3 10.2M-125 44C-125 44 -123.4 49.8 -122.5 52.7C-121.8 55.4 -120 60.8 -120 60.8M-45 67.5L-35.7 71.7M-45 123.3L-30 127.7M45.6 66.5L50.6 64.6M133.1 8.3C133.1 8.3 134.1 14.6 133.7 17.7C133.3 20.7 130.6 26.5 130.6 26.5M83.7 -7.9C83.7 -7.9 83.5 -2.5 83.5 0.2C83.5 2.7 83.7 7.7 83.7 7.7M72.5 -42.9C72.5 -42.9 71.7 -40.4 71.8 -39.2C71.9 -37.9 73.1 -35.4 73.1 -35.4" fill="none" stroke="#000" stroke-width="2.75"/><path d="M66.8 110.8C66.8 110.8 72.5 109.2 75 107.7C78.1 105.8 83.5 100.6 83.5 100.6" fill="none" stroke="#000" stroke-width="4.1"/><g transform="translate(64.4 -84.3)" fill="#fed73a" stroke="#000" stroke-width="1.75"><g transform="rotate(-22)"><circle cx="0" cy="-17" r="1.5" fill="#e8b835"/><path d="M-4.2 -12.3L-3.3 -15.2Q0 -16.6 3.3 -15.2L4.2 -12.3Z" fill="#e8b835"/></g><circle r="13.2"/></g><g transform="translate(109.5 -19.6)" fill="#fed73a" stroke="#000" stroke-width="1.75"><g transform="rotate(22)"><circle cx="0" cy="-17" r="1.5" fill="#e8b835"/><path d="M-4.2 -12.3L-3.3 -15.2Q0 -16.6 3.3 -15.2L4.2 -12.3Z" fill="#e8b835"/></g><circle r="13.2"/></g><g transform="translate(89 65.9)" fill="#fed73a" stroke="#000" stroke-width="1.75"><g transform="rotate(-26)"><circle cx="0" cy="-17" r="1.5" fill="#e8b835"/><path d="M-4.2 -12.3L-3.3 -15.2Q0 -16.6 3.3 -15.2L4.2 -12.3Z" fill="#e8b835"/></g><circle r="13.2"/></g><g transform="translate(6.5 105.9)" fill="#fed73a" stroke="#000" stroke-width="1.75"><g transform="rotate(50)"><circle cx="0" cy="-17" r="1.5" fill="#e8b835"/><path d="M-4.2 -12.3L-3.3 -15.2Q0 -16.6 3.3 -15.2L4.2 -12.3Z" fill="#e8b835"/></g><circle r="13.2"/></g><g transform="translate(-77 74.6)" fill="#fed73a" stroke="#000" stroke-width="1.75"><g transform="rotate(-18)"><circle cx="0" cy="-17" r="1.5" fill="#e8b835"/><path d="M-4.2 -12.3L-3.3 -15.2Q0 -16.6 3.3 -15.2L4.2 -12.3Z" fill="#e8b835"/></g><circle r="13.2"/></g><g transform="translate(-108 -17.9)" fill="#fed73a" stroke="#000" stroke-width="1.75"><g transform="rotate(6)"><circle cx="0" cy="-17" r="1.5" fill="#e8b835"/><path d="M-4.2 -12.3L-3.3 -15.2Q0 -16.6 3.3 -15.2L4.2 -12.3Z" fill="#e8b835"/></g><circle r="13.2"/></g><circle cx="-70" cy="-101.1" r="4.6" fill="#dcee9e" stroke="#000" stroke-width="1.6"/><circle cx="-49.5" cy="-78.3" r="4.6" fill="#dcee9e" stroke="#000" stroke-width="1.6"/><circle cx="-101.3" cy="-55.8" r="4.6" fill="#dcee9e" stroke="#000" stroke-width="1.6"/><circle cx="-119.5" cy="10.4" r="4.6" fill="#dcee9e" stroke="#000" stroke-width="1.6"/><circle cx="-96.8" cy="48.4" r="4.6" fill="#dcee9e" stroke="#000" stroke-width="1.6"/><circle cx="-63.8" cy="100.2" r="4.6" fill="#dcee9e" stroke="#000" stroke-width="1.6"/><circle cx="-28.3" cy="107.2" r="4.6" fill="#dcee9e" stroke="#000" stroke-width="1.6"/><circle cx="36" cy="83.4" r="4.6" fill="#dcee9e" stroke="#000" stroke-width="1.6"/><circle cx="38.9" cy="115.9" r="4.6" fill="#dcee9e" stroke="#000" stroke-width="1.6"/><circle cx="79.5" cy="89.2" r="4.6" fill="#dcee9e" stroke="#000" stroke-width="1.6"/><circle cx="97" cy="35.4" r="4.6" fill="#dcee9e" stroke="#000" stroke-width="1.6"/><circle cx="121.5" cy="1.4" r="4.6" fill="#dcee9e" stroke="#000" stroke-width="1.6"/><circle cx="113.2" cy="-53" r="4.6" fill="#dcee9e" stroke="#000" stroke-width="1.6"/><circle cx="69.8" cy="-57.1" r="4.6" fill="#dcee9e" stroke="#000" stroke-width="1.6"/><path d="M-9.7 -105.6C-9.7 -105.6 -13.2 -95.6 -14.7 -90.6C-15.9 -86.5 -17 -82.3 -17.8 -78.1C-18.7 -73.6 -19.3 -68.9 -19.7 -64.3C-20.1 -59.8 -20.4 -55.1 -20.3 -50.6C-20.2 -46.5 -19.7 -42.2 -19 -38.1C-18.7 -35.8 -17.2 -31.2 -17.2 -31.2C-17.2 -31.2 -11.6 -32.1 -9 -33.1C-6.8 -34 -4.7 -35.4 -2.8 -36.8C-1.3 -37.9 1.2 -40.6 1.2 -40.6C1.2 -40.6 1.7 -34.4 3.5 -32.1C4.3 -30.9 6.4 -31.3 7.8 -31.6C8.9 -31.9 10.6 -33.7 10.6 -33.7C10.6 -33.7 12.3 -31 13.5 -30C14.5 -29.1 15.8 -28 17.2 -28.1C18.9 -28.2 20.6 -29.3 21.6 -30.6C23.2 -32.7 24.2 -35.5 24.7 -38.1C25.3 -41.3 25 -44.8 24.7 -48.1C24.4 -52.3 23.6 -56.5 22.8 -60.6C22 -64.8 20.9 -69 19.7 -73.1C18.6 -76.7 17.6 -80.4 16 -83.7C13.5 -88.7 10 -93.3 7.2 -98.1C5.9 -100.3 3.5 -105 3.5 -105Z" fill="#e8457b" stroke="none"/><path d="M-9.7 -105.6C-9.7 -105.6 -13.2 -95.6 -14.7 -90.6C-15.9 -86.5 -17 -82.3 -17.8 -78.1C-18.7 -73.6 -19.3 -68.9 -19.7 -64.3C-20.1 -59.8 -20.4 -55.1 -20.3 -50.6C-20.2 -46.5 -19.7 -42.2 -19 -38.1C-18.7 -35.8 -17.2 -31.2 -17.2 -31.2C-17.2 -31.2 -11.6 -32.1 -9 -33.1C-6.8 -34 -4.7 -35.4 -2.8 -36.8C-1.3 -37.9 1.2 -40.6 1.2 -40.6M-7.8 -104.3C-7.8 -104.3 -4.6 -95.2 -3.4 -90.6C-2.1 -85.7 -1.1 -80.6 -0.3 -75.6C0.5 -70.7 1.1 -65.6 1.6 -60.6C1.9 -56.5 2.2 -52.2 2.2 -48.1C2.2 -44 1.6 -35.6 1.6 -35.6M1.6 -35.6C1.6 -35.6 2.3 -32.8 3.5 -32.1C4.7 -31.3 6.4 -31.3 7.8 -31.6C8.9 -31.9 10.6 -33.7 10.6 -33.7C10.6 -33.7 12.3 -31 13.5 -30C14.5 -29.1 15.8 -28 17.2 -28.1C18.9 -28.2 20.6 -29.3 21.6 -30.6C23.2 -32.7 24.2 -35.5 24.7 -38.1C25.3 -41.3 25 -44.8 24.7 -48.1C24.4 -52.3 23.6 -56.5 22.8 -60.6C22 -64.8 20.9 -69 19.7 -73.1C18.6 -76.7 17.6 -80.4 16 -83.7C13.5 -88.7 10 -93.3 7.2 -98.1C5.9 -100.3 3.5 -105 3.5 -105" fill="none" stroke="#000" stroke-width="3.3"/><path d="M-18.4 -132.2C-18.4 -132.2 -24.6 -136.6 -27.8 -138.5C-31.4 -140.5 -35.2 -142.5 -39 -144.1C-42.7 -145.6 -46.5 -147 -50.3 -147.8C-53.1 -148.5 -56.2 -149.1 -59 -148.7C-61.1 -148.5 -63.3 -147.5 -64.7 -146C-66 -144.5 -66.6 -142.3 -66.5 -140.3C-66.4 -137.3 -65.2 -134.4 -64 -131.6C-62.7 -128.5 -60.6 -125.8 -59 -122.8C-57.3 -119.6 -55.5 -116.3 -54 -112.8C-52.6 -109.2 -51.7 -105.2 -50.3 -101.6C-48.8 -97.8 -47.5 -93.8 -45.3 -90.3C-43.3 -87.1 -40.8 -83.9 -37.8 -81.6C-35.3 -79.7 -32.2 -78.1 -29 -77.8C-26.4 -77.6 -23.5 -78.6 -21.5 -80.3C-19.1 -82.6 -18 -86.1 -16.5 -89.1C-15.1 -92.3 -14 -95.8 -12.8 -99.1C-12.1 -100.9 -10.9 -104.7 -10.9 -104.7ZM2.8 -132.2C2.8 -132.2 5.4 -137.1 7.2 -139.1C9.4 -141.6 12 -144 14.7 -146C17.8 -148.3 21.3 -150.4 24.7 -152.2C27.9 -153.9 31.3 -155.5 34.7 -156.6C37.5 -157.5 40.5 -158.2 43.5 -158.1C46 -158 48.8 -157.3 51 -156C53.1 -154.7 54.8 -152.6 56 -150.3C57.3 -147.7 58 -144.6 58.2 -141.6C58.4 -138.7 58.1 -135.6 57.2 -132.8C56.5 -130.6 55 -128.5 53.5 -126.6C51.6 -124.3 48.9 -122.7 47.2 -120.3C45.6 -118.1 44.1 -115.5 43.5 -112.8C42.8 -110 43.5 -107 43.5 -104.1C43.5 -101.6 44 -99 43.5 -96.6C42.9 -94 42 -91.2 40.3 -89.1C38.6 -86.9 36 -85.2 33.5 -84.1C30.7 -82.9 27.6 -82 24.7 -82.2C21.6 -82.4 18.6 -83.8 16 -85.3C13.3 -86.9 11 -89.2 9.1 -91.6C7.3 -93.8 5.9 -96.5 4.7 -99.1C3.7 -101.3 2.2 -106 2.2 -106Z" fill="#e8457b" stroke="none"/><path d="M-18.4 -132.2C-18.4 -132.2 -24.6 -136.6 -27.8 -138.5C-31.4 -140.5 -35.2 -142.5 -39 -144.1C-42.7 -145.6 -46.5 -147 -50.3 -147.8C-53.1 -148.5 -56.2 -149.1 -59 -148.7C-61.1 -148.5 -63.3 -147.5 -64.7 -146C-66 -144.5 -66.6 -142.3 -66.5 -140.3C-66.4 -137.3 -65.2 -134.4 -64 -131.6C-62.7 -128.5 -60.6 -125.8 -59 -122.8C-57.3 -119.6 -55.5 -116.3 -54 -112.8C-52.6 -109.2 -51.7 -105.2 -50.3 -101.6C-48.8 -97.8 -47.5 -93.8 -45.3 -90.3C-43.3 -87.1 -40.8 -83.9 -37.8 -81.6C-35.3 -79.7 -32.2 -78.1 -29 -77.8C-26.4 -77.6 -23.5 -78.6 -21.5 -80.3C-19.1 -82.6 -18 -86.1 -16.5 -89.1C-15.1 -92.3 -14 -95.8 -12.8 -99.1C-12.1 -100.9 -10.9 -104.7 -10.9 -104.7M2.8 -132.2C2.8 -132.2 5.4 -137.1 7.2 -139.1C9.4 -141.6 12 -144 14.7 -146C17.8 -148.3 21.3 -150.4 24.7 -152.2C27.9 -153.9 31.3 -155.5 34.7 -156.6C37.5 -157.5 40.5 -158.2 43.5 -158.1C46 -158 48.8 -157.3 51 -156C53.1 -154.7 54.8 -152.6 56 -150.3C57.3 -147.7 58 -144.6 58.2 -141.6C58.4 -138.7 58.1 -135.6 57.2 -132.8C56.5 -130.6 55 -128.5 53.5 -126.6C51.6 -124.3 48.9 -122.7 47.2 -120.3C45.6 -118.1 44.1 -115.5 43.5 -112.8C42.8 -110 43.5 -107 43.5 -104.1C43.5 -101.6 44 -99 43.5 -96.6C42.9 -94 42 -91.2 40.3 -89.1C38.6 -86.9 36 -85.2 33.5 -84.1C30.7 -82.9 27.6 -82 24.7 -82.2C21.6 -82.4 18.6 -83.8 16 -85.3C13.3 -86.9 11 -89.2 9.1 -91.6C7.3 -93.8 5.9 -96.5 4.7 -99.1C3.7 -101.3 2.2 -106 2.2 -106" fill="none" stroke="#000" stroke-width="3.8"/><ellipse cx="-8.1" cy="-120.3" rx="11.4" ry="15.0" fill="#fed73a" stroke="#000" stroke-width="3.8"/></g>
<text x="390.2" y="136.7" textLength="21.4" lengthAdjust="spacingAndGlyphs" font-family="Liberation Sans, sans-serif" font-weight="bold" font-size="24" fill="#58595b" stroke="#58595b" stroke-width="0.6">1.</text>
<text x="63.2" y="680.8" textLength="21.4" lengthAdjust="spacingAndGlyphs" font-family="Liberation Sans, sans-serif" font-weight="bold" font-size="24" fill="#58595b" stroke="#58595b" stroke-width="0.6">2.</text>
<text x="391.2" y="680.8" textLength="21.4" lengthAdjust="spacingAndGlyphs" font-family="Liberation Sans, sans-serif" font-weight="bold" font-size="24" fill="#58595b" stroke="#58595b" stroke-width="0.6">3.</text>
<text x="63.2" y="1024" textLength="21.4" lengthAdjust="spacingAndGlyphs" font-family="Liberation Sans, sans-serif" font-weight="bold" font-size="24" fill="#58595b" stroke="#58595b" stroke-width="0.6">4.</text>
<text x="391.2" y="1024" textLength="21.4" lengthAdjust="spacingAndGlyphs" font-family="Liberation Sans, sans-serif" font-weight="bold" font-size="24" fill="#58595b" stroke="#58595b" stroke-width="0.6">5.</text>
<text x="63.2" y="1382" textLength="21.4" lengthAdjust="spacingAndGlyphs" font-family="Liberation Sans, sans-serif" font-weight="bold" font-size="24" fill="#58595b" stroke="#58595b" stroke-width="0.6">6.</text>
<text x="391.2" y="1382" textLength="21.4" lengthAdjust="spacingAndGlyphs" font-family="Liberation Sans, sans-serif" font-weight="bold" font-size="24" fill="#58595b" stroke="#58595b" stroke-width="0.6">7.</text>
<text x="63.2" y="1763.6" textLength="21.4" lengthAdjust="spacingAndGlyphs" font-family="Liberation Sans, sans-serif" font-weight="bold" font-size="24" fill="#58595b" stroke="#58595b" stroke-width="0.6">8.</text>
<text x="391.2" y="1763.6" textLength="21.4" lengthAdjust="spacingAndGlyphs" font-family="Liberation Sans, sans-serif" font-weight="bold" font-size="24" fill="#58595b" stroke="#58595b" stroke-width="0.6">9.</text>
<text x="152.4" y="461.9" textLength="145.4" lengthAdjust="spacingAndGlyphs" font-family="DejaVu Serif, Liberation Serif, serif" font-weight="bold" fill="#00aeef" stroke="#00aeef" stroke-width="3.8" stroke-linejoin="miter" stroke-miterlimit="3"><tspan font-size="56.1">H</tspan><tspan font-size="60.9">ow</tspan></text>
<text x="323.4" y="461.9" textLength="63.6" lengthAdjust="spacingAndGlyphs" font-family="DejaVu Serif, Liberation Serif, serif" font-weight="bold" fill="#00aeef" stroke="#00aeef" stroke-width="3.8" stroke-linejoin="miter" stroke-miterlimit="3"><tspan font-size="60.9">to</tspan></text>
<text x="404.8" y="461.9" textLength="174.8" lengthAdjust="spacingAndGlyphs" font-family="DejaVu Serif, Liberation Serif, serif" font-weight="bold" fill="#00aeef" stroke="#00aeef" stroke-width="3.8" stroke-linejoin="miter" stroke-miterlimit="3"><tspan font-size="56.1">D</tspan><tspan font-size="60.9">raw</tspan></text>
<text x="38.2" y="550.1" textLength="39.2" lengthAdjust="spacingAndGlyphs" font-family="DejaVu Serif, Liberation Serif, serif" font-weight="bold" fill="#ef4136" stroke="#ef4136" stroke-width="3.8" stroke-linejoin="miter" stroke-miterlimit="3"><tspan font-size="60.9">a</tspan></text>
<text x="91.8" y="550.1" textLength="342.6" lengthAdjust="spacingAndGlyphs" font-family="DejaVu Serif, Liberation Serif, serif" font-weight="bold" fill="#ef4136" stroke="#ef4136" stroke-width="3.8" stroke-linejoin="miter" stroke-miterlimit="3"><tspan font-size="56.1">C</tspan><tspan font-size="60.9">hristmas</tspan></text>
<text x="452.8" y="550.1" textLength="246" lengthAdjust="spacingAndGlyphs" font-family="DejaVu Serif, Liberation Serif, serif" font-weight="bold" fill="#ef4136" stroke="#ef4136" stroke-width="3.8" stroke-linejoin="miter" stroke-miterlimit="3"><tspan font-size="56.1">W</tspan><tspan font-size="60.9">reath</tspan></text>
<rect x="182" y="573.4" width="375" height="3.6" fill="#58595b"/>
<text x="200" y="616.1" textLength="63.4" lengthAdjust="spacingAndGlyphs" font-family="DejaVu Serif, Liberation Serif, serif" font-weight="bold" fill="#58595b" stroke="#58595b" stroke-width="1.1" stroke-linejoin="miter" stroke-miterlimit="3"><tspan font-size="23.7">E</tspan><tspan font-size="25.7">asy</tspan></text><text x="264.4" y="616.1" textLength="115.6" lengthAdjust="spacingAndGlyphs" font-family="DejaVu Serif, Liberation Serif, serif" font-weight="bold" fill="#ef4136" stroke="#ef4136" stroke-width="1.1" stroke-linejoin="miter" stroke-miterlimit="3"><tspan font-size="23.7">D</tspan><tspan font-size="25.7">rawing</tspan></text><text x="381" y="616.1" textLength="92.8" lengthAdjust="spacingAndGlyphs" font-family="DejaVu Serif, Liberation Serif, serif" font-weight="bold" fill="#00aeef" stroke="#00aeef" stroke-width="1.1" stroke-linejoin="miter" stroke-miterlimit="3"><tspan font-size="23.7">G</tspan><tspan font-size="25.7">uides</tspan></text><text x="474.8" y="616.1" textLength="64.3" lengthAdjust="spacingAndGlyphs" font-family="DejaVu Serif, Liberation Serif, serif" font-weight="bold" fill="#58595b" stroke="#58595b" stroke-width="1.1" stroke-linejoin="miter" stroke-miterlimit="3"><tspan font-size="25.7">.com</tspan></text>
<text x="225.5" y="2106.2" textLength="47.8" lengthAdjust="spacingAndGlyphs" font-family="DejaVu Serif, Liberation Serif, serif" font-weight="bold" fill="#58595b" stroke="#58595b" stroke-width="0.9" stroke-linejoin="miter" stroke-miterlimit="3"><tspan font-size="19.3">E</tspan><tspan font-size="21">asy</tspan></text><text x="274.3" y="2106.2" textLength="88.9" lengthAdjust="spacingAndGlyphs" font-family="DejaVu Serif, Liberation Serif, serif" font-weight="bold" fill="#ef4136" stroke="#ef4136" stroke-width="0.9" stroke-linejoin="miter" stroke-miterlimit="3"><tspan font-size="19.3">D</tspan><tspan font-size="21">rawing</tspan></text><text x="364.2" y="2106.2" textLength="75" lengthAdjust="spacingAndGlyphs" font-family="DejaVu Serif, Liberation Serif, serif" font-weight="bold" fill="#00aeef" stroke="#00aeef" stroke-width="0.9" stroke-linejoin="miter" stroke-miterlimit="3"><tspan font-size="19.3">G</tspan><tspan font-size="21">uides</tspan></text><text x="440.2" y="2106.2" textLength="47.5" lengthAdjust="spacingAndGlyphs" font-family="DejaVu Serif, Liberation Serif, serif" font-weight="bold" fill="#58595b" stroke="#58595b" stroke-width="0.9" stroke-linejoin="miter" stroke-miterlimit="3"><tspan font-size="21">.com</tspan></text>
</svg></body></html>
